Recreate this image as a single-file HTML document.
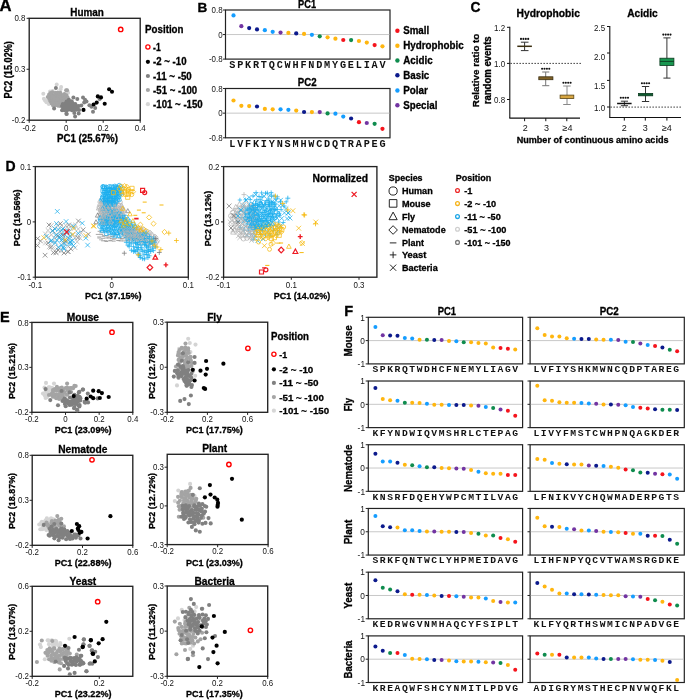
<!DOCTYPE html>
<html><head><meta charset="utf-8"><style>
html,body{margin:0;padding:0;background:#fff;}
svg{display:block;will-change:transform;}
</style></head><body>
<svg width="685" height="700" viewBox="0 0 685 700">
<rect width="685" height="700" fill="#fff"/>
<defs><clipPath id="clipD1"><rect x="35.9" y="167.2" width="151.8" height="109.4"/></clipPath><clipPath id="clipD2"><rect x="224.2" y="167.2" width="152.1" height="109.4"/></clipPath></defs>
<text x="0" y="0" font-size="15.6" font-weight="bold" text-anchor="start" fill="#000" font-family='"Liberation Sans", sans-serif' transform="translate(-0.5 11.2) scale(1.07 1)" stroke="#000" stroke-width="0.3">A</text>
<text x="197.6" y="11.6" font-size="13.6" font-weight="bold" text-anchor="start" fill="#000" font-family='"Liberation Sans", sans-serif' stroke="#000" stroke-width="0.3">B</text>
<text x="470.6" y="12.4" font-size="13.8" font-weight="bold" text-anchor="start" fill="#000" font-family='"Liberation Sans", sans-serif' stroke="#000" stroke-width="0.3">C</text>
<text x="5.4" y="170.8" font-size="14" font-weight="bold" text-anchor="start" fill="#000" font-family='"Liberation Sans", sans-serif' stroke="#000" stroke-width="0.3">D</text>
<text x="0" y="321.8" font-size="14.5" font-weight="bold" text-anchor="start" fill="#000" font-family='"Liberation Sans", sans-serif' stroke="#000" stroke-width="0.3">E</text>
<text x="344.2" y="316.3" font-size="14.6" font-weight="bold" text-anchor="start" fill="#000" font-family='"Liberation Sans", sans-serif' stroke="#000" stroke-width="0.3">F</text>
<rect x="29.2" y="18.3" width="111" height="101.9" fill="none" stroke="#222" stroke-width="1.35"/>
<line x1="29.2" y1="120.2" x2="29.2" y2="122.8" stroke="#222" stroke-width="1"/>
<text x="0" y="0" font-size="8.8" font-weight="normal" text-anchor="middle" fill="#141414" font-family='"Liberation Sans", sans-serif' transform="translate(29.2 131.2) scale(0.9 1)">-0.2</text>
<line x1="66.2" y1="120.2" x2="66.2" y2="122.8" stroke="#222" stroke-width="1"/>
<text x="0" y="0" font-size="8.8" font-weight="normal" text-anchor="middle" fill="#141414" font-family='"Liberation Sans", sans-serif' transform="translate(66.2 131.2) scale(0.9 1)">0</text>
<line x1="103.2" y1="120.2" x2="103.2" y2="122.8" stroke="#222" stroke-width="1"/>
<text x="0" y="0" font-size="8.8" font-weight="normal" text-anchor="middle" fill="#141414" font-family='"Liberation Sans", sans-serif' transform="translate(103.2 131.2) scale(0.9 1)">0.2</text>
<line x1="140.2" y1="120.2" x2="140.2" y2="122.8" stroke="#222" stroke-width="1"/>
<text x="0" y="0" font-size="8.8" font-weight="normal" text-anchor="middle" fill="#141414" font-family='"Liberation Sans", sans-serif' transform="translate(140.2 131.2) scale(0.9 1)">0.4</text>
<line x1="26.6" y1="18.3" x2="29.2" y2="18.3" stroke="#222" stroke-width="1"/>
<text x="0" y="0" font-size="8.8" font-weight="normal" text-anchor="end" fill="#141414" font-family='"Liberation Sans", sans-serif' transform="translate(25.4 21.42) scale(0.9 1)">0.8</text>
<line x1="26.6" y1="69.25" x2="29.2" y2="69.25" stroke="#222" stroke-width="1"/>
<text x="0" y="0" font-size="8.8" font-weight="normal" text-anchor="end" fill="#141414" font-family='"Liberation Sans", sans-serif' transform="translate(25.4 72.37) scale(0.9 1)">0.3</text>
<line x1="26.6" y1="120.2" x2="29.2" y2="120.2" stroke="#222" stroke-width="1"/>
<text x="0" y="0" font-size="8.8" font-weight="normal" text-anchor="end" fill="#141414" font-family='"Liberation Sans", sans-serif' transform="translate(25.4 123.32) scale(0.9 1)">-0.2</text>
<text x="87.1" y="15.9" font-size="10.8" font-weight="bold" text-anchor="middle" fill="#000" font-family='"Liberation Sans", sans-serif' textLength="33.6" lengthAdjust="spacingAndGlyphs" stroke="#000" stroke-width="0.3">Human</text>
<text x="87.5" y="142.3" font-size="10.6" font-weight="bold" text-anchor="middle" fill="#000" font-family='"Liberation Sans", sans-serif' textLength="60.9" lengthAdjust="spacingAndGlyphs" stroke="#000" stroke-width="0.3">PC1 (25.67%)</text>
<text x="11.6" y="69.8" font-size="10" font-weight="bold" text-anchor="middle" fill="#000" font-family='"Liberation Sans", sans-serif' textLength="57.3" lengthAdjust="spacingAndGlyphs" transform="rotate(-90 11.6 69.8)" stroke="#000" stroke-width="0.3">PC2 (15.02%)</text>
<text x="145.1" y="32.9" font-size="10.4" font-weight="bold" text-anchor="start" fill="#000" font-family='"Liberation Sans", sans-serif' textLength="38.4" lengthAdjust="spacingAndGlyphs" stroke="#000" stroke-width="0.3">Position</text>
<circle cx="147.9" cy="47" r="2.1" fill="none" stroke="#ff0000" stroke-width="1.3"/>
<text x="153.1" y="50.67" font-size="10.2" font-weight="bold" text-anchor="start" fill="#000" font-family='"Liberation Sans", sans-serif' textLength="7.6" lengthAdjust="spacingAndGlyphs" stroke="#000" stroke-width="0.3">-1</text>
<circle cx="147.9" cy="61.8" r="2.1" fill="#000"/>
<text x="153.1" y="65.47" font-size="10.2" font-weight="bold" text-anchor="start" fill="#000" font-family='"Liberation Sans", sans-serif' textLength="33.4" lengthAdjust="spacingAndGlyphs" stroke="#000" stroke-width="0.3">-2 ~ -10</text>
<circle cx="147.9" cy="76" r="2.1" fill="#808080"/>
<text x="153.1" y="79.67" font-size="10.2" font-weight="bold" text-anchor="start" fill="#000" font-family='"Liberation Sans", sans-serif' textLength="38.6" lengthAdjust="spacingAndGlyphs" stroke="#000" stroke-width="0.3">-11 ~ -50</text>
<circle cx="147.9" cy="90" r="2.1" fill="#a6a6a6"/>
<text x="153.1" y="93.67" font-size="10.2" font-weight="bold" text-anchor="start" fill="#000" font-family='"Liberation Sans", sans-serif' textLength="44.1" lengthAdjust="spacingAndGlyphs" stroke="#000" stroke-width="0.3">-51 ~ -100</text>
<circle cx="147.9" cy="104.2" r="2.1" fill="#d6d6d6"/>
<text x="153.1" y="107.87" font-size="10.2" font-weight="bold" text-anchor="start" fill="#000" font-family='"Liberation Sans", sans-serif' textLength="49.6" lengthAdjust="spacingAndGlyphs" stroke="#000" stroke-width="0.3">-101 ~ -150</text>
<rect x="225.5" y="10" width="164.5" height="49.1" fill="none" stroke="#222" stroke-width="1.2"/>
<line x1="226.1" y1="34.55" x2="389.4" y2="34.55" stroke="#c8c8c8" stroke-width="1"/>
<line x1="222.9" y1="10" x2="225.5" y2="10" stroke="#222" stroke-width="1"/>
<text x="0" y="0" font-size="8.8" font-weight="normal" text-anchor="end" fill="#141414" font-family='"Liberation Sans", sans-serif' transform="translate(222.6 13.12) scale(0.9 1)">0.8</text>
<line x1="222.9" y1="34.55" x2="225.5" y2="34.55" stroke="#222" stroke-width="1"/>
<text x="0" y="0" font-size="8.8" font-weight="normal" text-anchor="end" fill="#141414" font-family='"Liberation Sans", sans-serif' transform="translate(222.6 37.67) scale(0.9 1)">0</text>
<line x1="222.9" y1="59.1" x2="225.5" y2="59.1" stroke="#222" stroke-width="1"/>
<text x="0" y="0" font-size="8.8" font-weight="normal" text-anchor="end" fill="#141414" font-family='"Liberation Sans", sans-serif' transform="translate(222.6 62.22) scale(0.9 1)">-0.8</text>
<circle cx="233.5" cy="15.4" r="2.1" fill="#159dff"/>
<text x="232.3" y="68.3" font-size="10.2" font-weight="bold" text-anchor="middle" fill="#111" font-family='"Liberation Mono", monospace'>S</text>
<circle cx="241.34" cy="26.2" r="2.1" fill="#7234a2"/>
<text x="240.21" y="68.3" font-size="10.2" font-weight="bold" text-anchor="middle" fill="#111" font-family='"Liberation Mono", monospace'>P</text>
<circle cx="249.18" cy="28.1" r="2.1" fill="#0c1a8c"/>
<text x="248.11" y="68.3" font-size="10.2" font-weight="bold" text-anchor="middle" fill="#111" font-family='"Liberation Mono", monospace'>K</text>
<circle cx="257.02" cy="29.4" r="2.1" fill="#0c1a8c"/>
<text x="256.01" y="68.3" font-size="10.2" font-weight="bold" text-anchor="middle" fill="#111" font-family='"Liberation Mono", monospace'>R</text>
<circle cx="264.86" cy="30.2" r="2.1" fill="#159dff"/>
<text x="263.92" y="68.3" font-size="10.2" font-weight="bold" text-anchor="middle" fill="#111" font-family='"Liberation Mono", monospace'>T</text>
<circle cx="272.7" cy="31.8" r="2.1" fill="#159dff"/>
<text x="271.82" y="68.3" font-size="10.2" font-weight="bold" text-anchor="middle" fill="#111" font-family='"Liberation Mono", monospace'>Q</text>
<circle cx="280.54" cy="32.6" r="2.1" fill="#7234a2"/>
<text x="279.73" y="68.3" font-size="10.2" font-weight="bold" text-anchor="middle" fill="#111" font-family='"Liberation Mono", monospace'>C</text>
<circle cx="288.38" cy="32.9" r="2.1" fill="#ffb60f"/>
<text x="287.63" y="68.3" font-size="10.2" font-weight="bold" text-anchor="middle" fill="#111" font-family='"Liberation Mono", monospace'>W</text>
<circle cx="296.22" cy="33.4" r="2.1" fill="#0c1a8c"/>
<text x="295.54" y="68.3" font-size="10.2" font-weight="bold" text-anchor="middle" fill="#111" font-family='"Liberation Mono", monospace'>H</text>
<circle cx="304.06" cy="33.9" r="2.1" fill="#ffb60f"/>
<text x="303.44" y="68.3" font-size="10.2" font-weight="bold" text-anchor="middle" fill="#111" font-family='"Liberation Mono", monospace'>F</text>
<circle cx="311.9" cy="34.8" r="2.1" fill="#159dff"/>
<text x="311.35" y="68.3" font-size="10.2" font-weight="bold" text-anchor="middle" fill="#111" font-family='"Liberation Mono", monospace'>N</text>
<circle cx="319.74" cy="36.3" r="2.1" fill="#0f8c4e"/>
<text x="319.25" y="68.3" font-size="10.2" font-weight="bold" text-anchor="middle" fill="#111" font-family='"Liberation Mono", monospace'>D</text>
<circle cx="327.58" cy="37.3" r="2.1" fill="#ffb60f"/>
<text x="327.16" y="68.3" font-size="10.2" font-weight="bold" text-anchor="middle" fill="#111" font-family='"Liberation Mono", monospace'>M</text>
<circle cx="335.42" cy="38.7" r="2.1" fill="#ffb60f"/>
<text x="335.06" y="68.3" font-size="10.2" font-weight="bold" text-anchor="middle" fill="#111" font-family='"Liberation Mono", monospace'>Y</text>
<circle cx="343.26" cy="40" r="2.1" fill="#f5141c"/>
<text x="342.97" y="68.3" font-size="10.2" font-weight="bold" text-anchor="middle" fill="#111" font-family='"Liberation Mono", monospace'>G</text>
<circle cx="351.1" cy="40.1" r="2.1" fill="#0f8c4e"/>
<text x="350.88" y="68.3" font-size="10.2" font-weight="bold" text-anchor="middle" fill="#111" font-family='"Liberation Mono", monospace'>E</text>
<circle cx="358.94" cy="41" r="2.1" fill="#ffb60f"/>
<text x="358.78" y="68.3" font-size="10.2" font-weight="bold" text-anchor="middle" fill="#111" font-family='"Liberation Mono", monospace'>L</text>
<circle cx="366.78" cy="42.6" r="2.1" fill="#ffb60f"/>
<text x="366.69" y="68.3" font-size="10.2" font-weight="bold" text-anchor="middle" fill="#111" font-family='"Liberation Mono", monospace'>I</text>
<circle cx="374.62" cy="45.1" r="2.1" fill="#f5141c"/>
<text x="374.59" y="68.3" font-size="10.2" font-weight="bold" text-anchor="middle" fill="#111" font-family='"Liberation Mono", monospace'>A</text>
<circle cx="382.46" cy="46.3" r="2.1" fill="#ffb60f"/>
<text x="382.5" y="68.3" font-size="10.2" font-weight="bold" text-anchor="middle" fill="#111" font-family='"Liberation Mono", monospace'>V</text>
<rect x="225.5" y="88.5" width="164.5" height="49.3" fill="none" stroke="#222" stroke-width="1.2"/>
<line x1="226.1" y1="113.15" x2="389.4" y2="113.15" stroke="#c8c8c8" stroke-width="1"/>
<line x1="222.9" y1="88.5" x2="225.5" y2="88.5" stroke="#222" stroke-width="1"/>
<text x="0" y="0" font-size="8.8" font-weight="normal" text-anchor="end" fill="#141414" font-family='"Liberation Sans", sans-serif' transform="translate(222.6 91.62) scale(0.9 1)">0.8</text>
<line x1="222.9" y1="113.15" x2="225.5" y2="113.15" stroke="#222" stroke-width="1"/>
<text x="0" y="0" font-size="8.8" font-weight="normal" text-anchor="end" fill="#141414" font-family='"Liberation Sans", sans-serif' transform="translate(222.6 116.27) scale(0.9 1)">0</text>
<line x1="222.9" y1="137.8" x2="225.5" y2="137.8" stroke="#222" stroke-width="1"/>
<text x="0" y="0" font-size="8.8" font-weight="normal" text-anchor="end" fill="#141414" font-family='"Liberation Sans", sans-serif' transform="translate(222.6 140.92) scale(0.9 1)">-0.8</text>
<circle cx="233.5" cy="100.5" r="2.1" fill="#ffb60f"/>
<text x="232.3" y="146.9" font-size="10.2" font-weight="bold" text-anchor="middle" fill="#111" font-family='"Liberation Mono", monospace'>L</text>
<circle cx="241.34" cy="105.8" r="2.1" fill="#ffb60f"/>
<text x="240.21" y="146.9" font-size="10.2" font-weight="bold" text-anchor="middle" fill="#111" font-family='"Liberation Mono", monospace'>V</text>
<circle cx="249.18" cy="106.1" r="2.1" fill="#ffb60f"/>
<text x="248.11" y="146.9" font-size="10.2" font-weight="bold" text-anchor="middle" fill="#111" font-family='"Liberation Mono", monospace'>F</text>
<circle cx="257.02" cy="106.5" r="2.1" fill="#0c1a8c"/>
<text x="256.01" y="146.9" font-size="10.2" font-weight="bold" text-anchor="middle" fill="#111" font-family='"Liberation Mono", monospace'>K</text>
<circle cx="264.86" cy="108.9" r="2.1" fill="#ffb60f"/>
<text x="263.92" y="146.9" font-size="10.2" font-weight="bold" text-anchor="middle" fill="#111" font-family='"Liberation Mono", monospace'>I</text>
<circle cx="272.7" cy="109.3" r="2.1" fill="#ffb60f"/>
<text x="271.82" y="146.9" font-size="10.2" font-weight="bold" text-anchor="middle" fill="#111" font-family='"Liberation Mono", monospace'>Y</text>
<circle cx="280.54" cy="109.3" r="2.1" fill="#159dff"/>
<text x="279.73" y="146.9" font-size="10.2" font-weight="bold" text-anchor="middle" fill="#111" font-family='"Liberation Mono", monospace'>N</text>
<circle cx="288.38" cy="109.8" r="2.1" fill="#159dff"/>
<text x="287.63" y="146.9" font-size="10.2" font-weight="bold" text-anchor="middle" fill="#111" font-family='"Liberation Mono", monospace'>S</text>
<circle cx="296.22" cy="110.6" r="2.1" fill="#ffb60f"/>
<text x="295.54" y="146.9" font-size="10.2" font-weight="bold" text-anchor="middle" fill="#111" font-family='"Liberation Mono", monospace'>M</text>
<circle cx="304.06" cy="112" r="2.1" fill="#0c1a8c"/>
<text x="303.44" y="146.9" font-size="10.2" font-weight="bold" text-anchor="middle" fill="#111" font-family='"Liberation Mono", monospace'>H</text>
<circle cx="311.9" cy="112.1" r="2.1" fill="#ffb60f"/>
<text x="311.35" y="146.9" font-size="10.2" font-weight="bold" text-anchor="middle" fill="#111" font-family='"Liberation Mono", monospace'>W</text>
<circle cx="319.74" cy="112.1" r="2.1" fill="#7234a2"/>
<text x="319.25" y="146.9" font-size="10.2" font-weight="bold" text-anchor="middle" fill="#111" font-family='"Liberation Mono", monospace'>C</text>
<circle cx="327.58" cy="113.4" r="2.1" fill="#0f8c4e"/>
<text x="327.16" y="146.9" font-size="10.2" font-weight="bold" text-anchor="middle" fill="#111" font-family='"Liberation Mono", monospace'>D</text>
<circle cx="335.42" cy="113.7" r="2.1" fill="#159dff"/>
<text x="335.06" y="146.9" font-size="10.2" font-weight="bold" text-anchor="middle" fill="#111" font-family='"Liberation Mono", monospace'>Q</text>
<circle cx="343.26" cy="116.6" r="2.1" fill="#159dff"/>
<text x="342.97" y="146.9" font-size="10.2" font-weight="bold" text-anchor="middle" fill="#111" font-family='"Liberation Mono", monospace'>T</text>
<circle cx="351.1" cy="118.5" r="2.1" fill="#0c1a8c"/>
<text x="350.88" y="146.9" font-size="10.2" font-weight="bold" text-anchor="middle" fill="#111" font-family='"Liberation Mono", monospace'>R</text>
<circle cx="358.94" cy="122.2" r="2.1" fill="#f5141c"/>
<text x="358.78" y="146.9" font-size="10.2" font-weight="bold" text-anchor="middle" fill="#111" font-family='"Liberation Mono", monospace'>A</text>
<circle cx="366.78" cy="123" r="2.1" fill="#7234a2"/>
<text x="366.69" y="146.9" font-size="10.2" font-weight="bold" text-anchor="middle" fill="#111" font-family='"Liberation Mono", monospace'>P</text>
<circle cx="374.62" cy="123.8" r="2.1" fill="#0f8c4e"/>
<text x="374.59" y="146.9" font-size="10.2" font-weight="bold" text-anchor="middle" fill="#111" font-family='"Liberation Mono", monospace'>E</text>
<circle cx="382.46" cy="128.8" r="2.1" fill="#f5141c"/>
<text x="382.5" y="146.9" font-size="10.2" font-weight="bold" text-anchor="middle" fill="#111" font-family='"Liberation Mono", monospace'>G</text>
<text x="298.1" y="7.8" font-size="10.8" font-weight="bold" text-anchor="start" fill="#000" font-family='"Liberation Sans", sans-serif' textLength="18" lengthAdjust="spacingAndGlyphs" stroke="#000" stroke-width="0.3">PC1</text>
<text x="297.8" y="85.7" font-size="10.8" font-weight="bold" text-anchor="start" fill="#000" font-family='"Liberation Sans", sans-serif' textLength="18.8" lengthAdjust="spacingAndGlyphs" stroke="#000" stroke-width="0.3">PC2</text>
<circle cx="397.4" cy="30.8" r="2.2" fill="#f5141c"/>
<text x="403.2" y="34.4" font-size="10.2" font-weight="bold" text-anchor="start" fill="#000" font-family='"Liberation Sans", sans-serif' textLength="25.9" lengthAdjust="spacingAndGlyphs" stroke="#000" stroke-width="0.3">Small</text>
<circle cx="397.4" cy="45.7" r="2.2" fill="#ffb60f"/>
<text x="403.2" y="49.3" font-size="10.2" font-weight="bold" text-anchor="start" fill="#000" font-family='"Liberation Sans", sans-serif' textLength="60.5" lengthAdjust="spacingAndGlyphs" stroke="#000" stroke-width="0.3">Hydrophobic</text>
<circle cx="397.4" cy="60.5" r="2.2" fill="#0f8c4e"/>
<text x="403.2" y="64.1" font-size="10.2" font-weight="bold" text-anchor="start" fill="#000" font-family='"Liberation Sans", sans-serif' textLength="29.4" lengthAdjust="spacingAndGlyphs" stroke="#000" stroke-width="0.3">Acidic</text>
<circle cx="397.4" cy="75.3" r="2.2" fill="#0c1a8c"/>
<text x="403.2" y="78.9" font-size="10.2" font-weight="bold" text-anchor="start" fill="#000" font-family='"Liberation Sans", sans-serif' textLength="26.1" lengthAdjust="spacingAndGlyphs" stroke="#000" stroke-width="0.3">Basic</text>
<circle cx="397.4" cy="90.5" r="2.2" fill="#159dff"/>
<text x="403.2" y="94.1" font-size="10.2" font-weight="bold" text-anchor="start" fill="#000" font-family='"Liberation Sans", sans-serif' textLength="24.7" lengthAdjust="spacingAndGlyphs" stroke="#000" stroke-width="0.3">Polar</text>
<circle cx="397.4" cy="105.2" r="2.2" fill="#7234a2"/>
<text x="403.2" y="108.8" font-size="10.2" font-weight="bold" text-anchor="start" fill="#000" font-family='"Liberation Sans", sans-serif' textLength="34.2" lengthAdjust="spacingAndGlyphs" stroke="#000" stroke-width="0.3">Special</text>
<line x1="509.8" y1="26.8" x2="509.8" y2="118.1" stroke="#111" stroke-width="1.1"/>
<line x1="509.3" y1="118.1" x2="580" y2="118.1" stroke="#111" stroke-width="1.1"/>
<line x1="507" y1="27.3" x2="509.8" y2="27.3" stroke="#111" stroke-width="1"/>
<text x="0" y="0" font-size="8.6" font-weight="normal" text-anchor="end" fill="#141414" font-family='"Liberation Sans", sans-serif' transform="translate(505.2 31.2) scale(0.93 1)">1.2</text>
<line x1="507" y1="63.4" x2="509.8" y2="63.4" stroke="#111" stroke-width="1"/>
<text x="0" y="0" font-size="8.6" font-weight="normal" text-anchor="end" fill="#141414" font-family='"Liberation Sans", sans-serif' transform="translate(505.2 67.2) scale(0.93 1)">1.0</text>
<line x1="507" y1="99.5" x2="509.8" y2="99.5" stroke="#111" stroke-width="1"/>
<text x="0" y="0" font-size="8.6" font-weight="normal" text-anchor="end" fill="#141414" font-family='"Liberation Sans", sans-serif' transform="translate(505.2 102.9) scale(0.93 1)">0.8</text>
<line x1="524.6" y1="118.1" x2="524.6" y2="121.2" stroke="#111" stroke-width="1"/>
<text x="525.3" y="131.4" font-size="9" font-weight="normal" text-anchor="middle" fill="#111" font-family='"Liberation Sans", sans-serif'>2</text>
<line x1="545.8" y1="118.1" x2="545.8" y2="121.2" stroke="#111" stroke-width="1"/>
<text x="546.5" y="131.4" font-size="9" font-weight="normal" text-anchor="middle" fill="#111" font-family='"Liberation Sans", sans-serif'>3</text>
<line x1="566.8" y1="118.1" x2="566.8" y2="121.2" stroke="#111" stroke-width="1"/>
<text x="567.5" y="131.4" font-size="9" font-weight="normal" text-anchor="middle" fill="#111" font-family='"Liberation Sans", sans-serif'>≥4</text>
<line x1="510.4" y1="63.4" x2="581" y2="63.4" stroke="#333" stroke-width="0.9" stroke-dasharray="1.6 1.4"/>
<text x="548.2" y="16.5" font-size="10.3" font-weight="bold" text-anchor="middle" fill="#000" font-family='"Liberation Sans", sans-serif' textLength="63.4" lengthAdjust="spacingAndGlyphs" stroke="#000" stroke-width="0.3">Hydrophobic</text>
<line x1="609.8" y1="26" x2="609.8" y2="117.5" stroke="#111" stroke-width="1.1"/>
<line x1="609.3" y1="117.5" x2="681" y2="117.5" stroke="#111" stroke-width="1.1"/>
<line x1="607" y1="26.5" x2="609.8" y2="26.5" stroke="#111" stroke-width="1"/>
<text x="0" y="0" font-size="8.6" font-weight="normal" text-anchor="end" fill="#141414" font-family='"Liberation Sans", sans-serif' transform="translate(605.2 31.2) scale(0.93 1)">2.5</text>
<line x1="607" y1="53" x2="609.8" y2="53" stroke="#111" stroke-width="1"/>
<text x="0" y="0" font-size="8.6" font-weight="normal" text-anchor="end" fill="#141414" font-family='"Liberation Sans", sans-serif' transform="translate(605.2 59.9) scale(0.93 1)">2.0</text>
<line x1="607" y1="80.4" x2="609.8" y2="80.4" stroke="#111" stroke-width="1"/>
<text x="0" y="0" font-size="8.6" font-weight="normal" text-anchor="end" fill="#141414" font-family='"Liberation Sans", sans-serif' transform="translate(605.2 89) scale(0.93 1)">1.5</text>
<line x1="607" y1="107" x2="609.8" y2="107" stroke="#111" stroke-width="1"/>
<text x="0" y="0" font-size="8.6" font-weight="normal" text-anchor="end" fill="#141414" font-family='"Liberation Sans", sans-serif' transform="translate(605.2 111.3) scale(0.93 1)">1.0</text>
<line x1="624.3" y1="117.5" x2="624.3" y2="120.6" stroke="#111" stroke-width="1"/>
<text x="624.3" y="131.4" font-size="9" font-weight="normal" text-anchor="middle" fill="#111" font-family='"Liberation Sans", sans-serif'>2</text>
<line x1="645.3" y1="117.5" x2="645.3" y2="120.6" stroke="#111" stroke-width="1"/>
<text x="645.3" y="131.4" font-size="9" font-weight="normal" text-anchor="middle" fill="#111" font-family='"Liberation Sans", sans-serif'>3</text>
<line x1="666.9" y1="117.5" x2="666.9" y2="120.6" stroke="#111" stroke-width="1"/>
<text x="666.9" y="131.4" font-size="9" font-weight="normal" text-anchor="middle" fill="#111" font-family='"Liberation Sans", sans-serif'>≥4</text>
<line x1="610.4" y1="107.1" x2="681" y2="107.1" stroke="#333" stroke-width="0.9" stroke-dasharray="1.6 1.4"/>
<text x="642.4" y="16.9" font-size="10.3" font-weight="bold" text-anchor="middle" fill="#000" font-family='"Liberation Sans", sans-serif' textLength="30.5" lengthAdjust="spacingAndGlyphs" stroke="#000" stroke-width="0.3">Acidic</text>
<text x="592.6" y="142.9" font-size="9.3" font-weight="bold" text-anchor="middle" fill="#000" font-family='"Liberation Sans", sans-serif' textLength="151.9" lengthAdjust="spacingAndGlyphs" stroke="#000" stroke-width="0.3">Number of continuous amino acids</text>
<text x="479.4" y="70.4" font-size="9.8" font-weight="bold" text-anchor="middle" fill="#000" font-family='"Liberation Sans", sans-serif' textLength="73.5" lengthAdjust="spacingAndGlyphs" transform="rotate(-90 479.4 70.4)" stroke="#000" stroke-width="0.3">Relative ratio to</text>
<text x="490.8" y="70.3" font-size="10" font-weight="bold" text-anchor="middle" fill="#000" font-family='"Liberation Sans", sans-serif' textLength="68" lengthAdjust="spacingAndGlyphs" transform="rotate(-90 490.8 70.3)" stroke="#000" stroke-width="0.3">random events</text>
<line x1="524.6" y1="42.2" x2="524.6" y2="50.6" stroke="#333" stroke-width="1"/>
<line x1="520.9" y1="42.2" x2="528.5" y2="42.2" stroke="#333" stroke-width="1"/>
<line x1="520.9" y1="50.6" x2="528.5" y2="50.6" stroke="#333" stroke-width="1"/>
<line x1="517.3" y1="46.3" x2="531.9" y2="46.3" stroke="#3a2e10" stroke-width="1.5"/>
<circle cx="521" cy="38.9" r="1.05" fill="#111"/>
<circle cx="523.4" cy="38.9" r="1.05" fill="#111"/>
<circle cx="525.8" cy="38.9" r="1.05" fill="#111"/>
<circle cx="528.2" cy="38.9" r="1.05" fill="#111"/>
<line x1="545.7" y1="72" x2="545.7" y2="85.7" stroke="#777" stroke-width="1"/>
<line x1="542.2" y1="72" x2="549.3" y2="72" stroke="#777" stroke-width="1"/>
<line x1="542.2" y1="85.7" x2="549.3" y2="85.7" stroke="#777" stroke-width="1"/>
<rect x="538.8" y="76.8" width="14.1" height="2.9" fill="#7f6127" stroke="#3a2e10" stroke-width="0.8"/>
<circle cx="542.1" cy="68.8" r="1.05" fill="#111"/>
<circle cx="544.5" cy="68.8" r="1.05" fill="#111"/>
<circle cx="546.9" cy="68.8" r="1.05" fill="#111"/>
<circle cx="549.3" cy="68.8" r="1.05" fill="#111"/>
<line x1="567" y1="86" x2="567" y2="104.5" stroke="#888" stroke-width="1"/>
<line x1="563.2" y1="86" x2="570.7" y2="86" stroke="#888" stroke-width="1"/>
<line x1="563.2" y1="104.5" x2="570.7" y2="104.5" stroke="#888" stroke-width="1"/>
<rect x="560.1" y="95.1" width="13.7" height="3.4" fill="#d6a541" stroke="#5a4515" stroke-width="0.8"/>
<circle cx="563.4" cy="82.8" r="1.05" fill="#111"/>
<circle cx="565.8" cy="82.8" r="1.05" fill="#111"/>
<circle cx="568.2" cy="82.8" r="1.05" fill="#111"/>
<circle cx="570.6" cy="82.8" r="1.05" fill="#111"/>
<line x1="624.4" y1="101.2" x2="624.4" y2="105.7" stroke="#333" stroke-width="1"/>
<line x1="620.9" y1="101.2" x2="628" y2="101.2" stroke="#333" stroke-width="1"/>
<line x1="620.9" y1="105.7" x2="628" y2="105.7" stroke="#333" stroke-width="1"/>
<line x1="617.1" y1="103.5" x2="631.6" y2="103.5" stroke="#111" stroke-width="1.5"/>
<circle cx="620.8" cy="97.7" r="1.05" fill="#111"/>
<circle cx="623.2" cy="97.7" r="1.05" fill="#111"/>
<circle cx="625.6" cy="97.7" r="1.05" fill="#111"/>
<circle cx="628" cy="97.7" r="1.05" fill="#111"/>
<line x1="645.5" y1="86.5" x2="645.5" y2="101.5" stroke="#333" stroke-width="1"/>
<line x1="641.9" y1="86.5" x2="649.2" y2="86.5" stroke="#333" stroke-width="1"/>
<line x1="641.9" y1="101.5" x2="649.2" y2="101.5" stroke="#333" stroke-width="1"/>
<rect x="638.6" y="93.4" width="14.1" height="2.4" fill="#0e5a2f" stroke="#0b3a1e" stroke-width="0.8"/>
<circle cx="641.9" cy="83.2" r="1.05" fill="#111"/>
<circle cx="644.3" cy="83.2" r="1.05" fill="#111"/>
<circle cx="646.7" cy="83.2" r="1.05" fill="#111"/>
<circle cx="649.1" cy="83.2" r="1.05" fill="#111"/>
<line x1="666.9" y1="37.9" x2="666.9" y2="78.1" stroke="#333" stroke-width="1"/>
<line x1="663.4" y1="37.9" x2="670.5" y2="37.9" stroke="#333" stroke-width="1"/>
<line x1="663.4" y1="78.1" x2="670.5" y2="78.1" stroke="#333" stroke-width="1"/>
<rect x="659.9" y="58.2" width="14" height="7.3" fill="#199650" stroke="#0b3a1e" stroke-width="0.8"/>
<line x1="659.9" y1="61.4" x2="673.9" y2="61.4" stroke="#0b3a1e" stroke-width="0.9"/>
<circle cx="663.3" cy="34.6" r="1.05" fill="#111"/>
<circle cx="665.7" cy="34.6" r="1.05" fill="#111"/>
<circle cx="668.1" cy="34.6" r="1.05" fill="#111"/>
<circle cx="670.5" cy="34.6" r="1.05" fill="#111"/>
<text x="437.7" y="314.7" font-size="10.6" font-weight="bold" text-anchor="start" fill="#000" font-family='"Liberation Sans", sans-serif' textLength="18.3" lengthAdjust="spacingAndGlyphs" stroke="#000" stroke-width="0.3">PC1</text>
<text x="599.8" y="314.7" font-size="10.6" font-weight="bold" text-anchor="start" fill="#000" font-family='"Liberation Sans", sans-serif' textLength="19" lengthAdjust="spacingAndGlyphs" stroke="#000" stroke-width="0.3">PC2</text>
<rect x="368.3" y="317.3" width="154.3" height="46.6" fill="none" stroke="#222" stroke-width="1.2"/>
<line x1="368.9" y1="340.6" x2="522" y2="340.6" stroke="#c8c8c8" stroke-width="1"/>
<line x1="365.7" y1="317.3" x2="368.3" y2="317.3" stroke="#222" stroke-width="1"/>
<text x="0" y="0" font-size="9.24" font-weight="normal" text-anchor="end" fill="#141414" font-family='"Liberation Sans", sans-serif' transform="translate(365 320.58) scale(0.9 1)">1</text>
<line x1="365.7" y1="340.6" x2="368.3" y2="340.6" stroke="#222" stroke-width="1"/>
<text x="0" y="0" font-size="9.24" font-weight="normal" text-anchor="end" fill="#141414" font-family='"Liberation Sans", sans-serif' transform="translate(365 343.88) scale(0.9 1)">0</text>
<line x1="365.7" y1="363.9" x2="368.3" y2="363.9" stroke="#222" stroke-width="1"/>
<text x="0" y="0" font-size="9.24" font-weight="normal" text-anchor="end" fill="#141414" font-family='"Liberation Sans", sans-serif' transform="translate(365 367.18) scale(0.9 1)">-1</text>
<circle cx="375.4" cy="327.1" r="2" fill="#159dff"/>
<text x="375.4" y="372.3" font-size="9.7" font-weight="bold" text-anchor="middle" fill="#111" font-family='"Liberation Mono", monospace'>S</text>
<circle cx="382.76" cy="335.2" r="2" fill="#7234a2"/>
<text x="382.76" y="372.3" font-size="9.7" font-weight="bold" text-anchor="middle" fill="#111" font-family='"Liberation Mono", monospace'>P</text>
<circle cx="390.12" cy="335.5" r="2" fill="#0c1a8c"/>
<text x="390.12" y="372.3" font-size="9.7" font-weight="bold" text-anchor="middle" fill="#111" font-family='"Liberation Mono", monospace'>K</text>
<circle cx="397.48" cy="335.7" r="2" fill="#0c1a8c"/>
<text x="397.48" y="372.3" font-size="9.7" font-weight="bold" text-anchor="middle" fill="#111" font-family='"Liberation Mono", monospace'>R</text>
<circle cx="404.84" cy="338" r="2" fill="#159dff"/>
<text x="404.84" y="372.3" font-size="9.7" font-weight="bold" text-anchor="middle" fill="#111" font-family='"Liberation Mono", monospace'>Q</text>
<circle cx="412.2" cy="338.5" r="2" fill="#159dff"/>
<text x="412.2" y="372.3" font-size="9.7" font-weight="bold" text-anchor="middle" fill="#111" font-family='"Liberation Mono", monospace'>T</text>
<circle cx="419.56" cy="339.7" r="2" fill="#ffb60f"/>
<text x="419.56" y="372.3" font-size="9.7" font-weight="bold" text-anchor="middle" fill="#111" font-family='"Liberation Mono", monospace'>W</text>
<circle cx="426.92" cy="339.7" r="2" fill="#0f8c4e"/>
<text x="426.92" y="372.3" font-size="9.7" font-weight="bold" text-anchor="middle" fill="#111" font-family='"Liberation Mono", monospace'>D</text>
<circle cx="434.28" cy="339.9" r="2" fill="#0c1a8c"/>
<text x="434.28" y="372.3" font-size="9.7" font-weight="bold" text-anchor="middle" fill="#111" font-family='"Liberation Mono", monospace'>H</text>
<circle cx="441.64" cy="339.9" r="2" fill="#7234a2"/>
<text x="441.64" y="372.3" font-size="9.7" font-weight="bold" text-anchor="middle" fill="#111" font-family='"Liberation Mono", monospace'>C</text>
<circle cx="449" cy="341.1" r="2" fill="#ffb60f"/>
<text x="449" y="372.3" font-size="9.7" font-weight="bold" text-anchor="middle" fill="#111" font-family='"Liberation Mono", monospace'>F</text>
<circle cx="456.36" cy="341.3" r="2" fill="#159dff"/>
<text x="456.36" y="372.3" font-size="9.7" font-weight="bold" text-anchor="middle" fill="#111" font-family='"Liberation Mono", monospace'>N</text>
<circle cx="463.72" cy="342.2" r="2" fill="#0f8c4e"/>
<text x="463.72" y="372.3" font-size="9.7" font-weight="bold" text-anchor="middle" fill="#111" font-family='"Liberation Mono", monospace'>E</text>
<circle cx="471.08" cy="342.2" r="2" fill="#ffb60f"/>
<text x="471.08" y="372.3" font-size="9.7" font-weight="bold" text-anchor="middle" fill="#111" font-family='"Liberation Mono", monospace'>M</text>
<circle cx="478.44" cy="342.9" r="2" fill="#ffb60f"/>
<text x="478.44" y="372.3" font-size="9.7" font-weight="bold" text-anchor="middle" fill="#111" font-family='"Liberation Mono", monospace'>Y</text>
<circle cx="485.8" cy="343.4" r="2" fill="#ffb60f"/>
<text x="485.8" y="372.3" font-size="9.7" font-weight="bold" text-anchor="middle" fill="#111" font-family='"Liberation Mono", monospace'>L</text>
<circle cx="493.16" cy="347.4" r="2" fill="#ffb60f"/>
<text x="493.16" y="372.3" font-size="9.7" font-weight="bold" text-anchor="middle" fill="#111" font-family='"Liberation Mono", monospace'>I</text>
<circle cx="500.52" cy="348.1" r="2" fill="#f5141c"/>
<text x="500.52" y="372.3" font-size="9.7" font-weight="bold" text-anchor="middle" fill="#111" font-family='"Liberation Mono", monospace'>A</text>
<circle cx="507.88" cy="348.8" r="2" fill="#f5141c"/>
<text x="507.88" y="372.3" font-size="9.7" font-weight="bold" text-anchor="middle" fill="#111" font-family='"Liberation Mono", monospace'>G</text>
<circle cx="515.24" cy="349.5" r="2" fill="#ffb60f"/>
<text x="515.24" y="372.3" font-size="9.7" font-weight="bold" text-anchor="middle" fill="#111" font-family='"Liberation Mono", monospace'>V</text>
<rect x="530.1" y="317.3" width="154.2" height="46.6" fill="none" stroke="#222" stroke-width="1.2"/>
<line x1="530.7" y1="340.6" x2="683.7" y2="340.6" stroke="#c8c8c8" stroke-width="1"/>
<line x1="527.5" y1="317.3" x2="530.1" y2="317.3" stroke="#222" stroke-width="1"/>
<line x1="527.5" y1="340.6" x2="530.1" y2="340.6" stroke="#222" stroke-width="1"/>
<line x1="527.5" y1="363.9" x2="530.1" y2="363.9" stroke="#222" stroke-width="1"/>
<circle cx="537.3" cy="328.2" r="2" fill="#ffb60f"/>
<text x="536.4" y="372.3" font-size="9.7" font-weight="bold" text-anchor="middle" fill="#111" font-family='"Liberation Mono", monospace'>L</text>
<circle cx="544.66" cy="335" r="2" fill="#ffb60f"/>
<text x="543.76" y="372.3" font-size="9.7" font-weight="bold" text-anchor="middle" fill="#111" font-family='"Liberation Mono", monospace'>V</text>
<circle cx="552.02" cy="336.4" r="2" fill="#ffb60f"/>
<text x="551.12" y="372.3" font-size="9.7" font-weight="bold" text-anchor="middle" fill="#111" font-family='"Liberation Mono", monospace'>F</text>
<circle cx="559.38" cy="336.6" r="2" fill="#ffb60f"/>
<text x="558.48" y="372.3" font-size="9.7" font-weight="bold" text-anchor="middle" fill="#111" font-family='"Liberation Mono", monospace'>I</text>
<circle cx="566.74" cy="338.3" r="2" fill="#ffb60f"/>
<text x="565.84" y="372.3" font-size="9.7" font-weight="bold" text-anchor="middle" fill="#111" font-family='"Liberation Mono", monospace'>Y</text>
<circle cx="574.1" cy="338.7" r="2" fill="#159dff"/>
<text x="573.2" y="372.3" font-size="9.7" font-weight="bold" text-anchor="middle" fill="#111" font-family='"Liberation Mono", monospace'>S</text>
<circle cx="581.46" cy="339" r="2" fill="#0c1a8c"/>
<text x="580.56" y="372.3" font-size="9.7" font-weight="bold" text-anchor="middle" fill="#111" font-family='"Liberation Mono", monospace'>H</text>
<circle cx="588.82" cy="339" r="2" fill="#0c1a8c"/>
<text x="587.92" y="372.3" font-size="9.7" font-weight="bold" text-anchor="middle" fill="#111" font-family='"Liberation Mono", monospace'>K</text>
<circle cx="596.18" cy="339.4" r="2" fill="#ffb60f"/>
<text x="595.28" y="372.3" font-size="9.7" font-weight="bold" text-anchor="middle" fill="#111" font-family='"Liberation Mono", monospace'>M</text>
<circle cx="603.54" cy="339.7" r="2" fill="#ffb60f"/>
<text x="602.64" y="372.3" font-size="9.7" font-weight="bold" text-anchor="middle" fill="#111" font-family='"Liberation Mono", monospace'>W</text>
<circle cx="610.9" cy="339.7" r="2" fill="#159dff"/>
<text x="610" y="372.3" font-size="9.7" font-weight="bold" text-anchor="middle" fill="#111" font-family='"Liberation Mono", monospace'>N</text>
<circle cx="618.26" cy="340.1" r="2" fill="#7234a2"/>
<text x="617.36" y="372.3" font-size="9.7" font-weight="bold" text-anchor="middle" fill="#111" font-family='"Liberation Mono", monospace'>C</text>
<circle cx="625.62" cy="341.8" r="2" fill="#159dff"/>
<text x="624.72" y="372.3" font-size="9.7" font-weight="bold" text-anchor="middle" fill="#111" font-family='"Liberation Mono", monospace'>Q</text>
<circle cx="632.98" cy="342" r="2" fill="#0f8c4e"/>
<text x="632.08" y="372.3" font-size="9.7" font-weight="bold" text-anchor="middle" fill="#111" font-family='"Liberation Mono", monospace'>D</text>
<circle cx="640.34" cy="343.4" r="2" fill="#7234a2"/>
<text x="639.44" y="372.3" font-size="9.7" font-weight="bold" text-anchor="middle" fill="#111" font-family='"Liberation Mono", monospace'>P</text>
<circle cx="647.7" cy="345" r="2" fill="#159dff"/>
<text x="646.8" y="372.3" font-size="9.7" font-weight="bold" text-anchor="middle" fill="#111" font-family='"Liberation Mono", monospace'>T</text>
<circle cx="655.06" cy="346" r="2" fill="#f5141c"/>
<text x="654.16" y="372.3" font-size="9.7" font-weight="bold" text-anchor="middle" fill="#111" font-family='"Liberation Mono", monospace'>A</text>
<circle cx="662.42" cy="347.4" r="2" fill="#0c1a8c"/>
<text x="661.52" y="372.3" font-size="9.7" font-weight="bold" text-anchor="middle" fill="#111" font-family='"Liberation Mono", monospace'>R</text>
<circle cx="669.78" cy="349.7" r="2" fill="#0f8c4e"/>
<text x="668.88" y="372.3" font-size="9.7" font-weight="bold" text-anchor="middle" fill="#111" font-family='"Liberation Mono", monospace'>E</text>
<circle cx="677.14" cy="351.3" r="2" fill="#f5141c"/>
<text x="676.24" y="372.3" font-size="9.7" font-weight="bold" text-anchor="middle" fill="#111" font-family='"Liberation Mono", monospace'>G</text>
<text x="352.4" y="340.9" font-size="10.4" font-weight="bold" text-anchor="middle" fill="#000" font-family='"Liberation Sans", sans-serif' textLength="31" lengthAdjust="spacingAndGlyphs" transform="rotate(-90 352.4 340.9)" stroke="#000" stroke-width="0.3">Mouse</text>
<rect x="368.3" y="381.02" width="154.3" height="46.6" fill="none" stroke="#222" stroke-width="1.2"/>
<line x1="368.9" y1="404.32" x2="522" y2="404.32" stroke="#c8c8c8" stroke-width="1"/>
<line x1="365.7" y1="381.02" x2="368.3" y2="381.02" stroke="#222" stroke-width="1"/>
<text x="0" y="0" font-size="9.24" font-weight="normal" text-anchor="end" fill="#141414" font-family='"Liberation Sans", sans-serif' transform="translate(365 384.3) scale(0.9 1)">1</text>
<line x1="365.7" y1="404.32" x2="368.3" y2="404.32" stroke="#222" stroke-width="1"/>
<text x="0" y="0" font-size="9.24" font-weight="normal" text-anchor="end" fill="#141414" font-family='"Liberation Sans", sans-serif' transform="translate(365 407.6) scale(0.9 1)">0</text>
<line x1="365.7" y1="427.62" x2="368.3" y2="427.62" stroke="#222" stroke-width="1"/>
<text x="0" y="0" font-size="9.24" font-weight="normal" text-anchor="end" fill="#141414" font-family='"Liberation Sans", sans-serif' transform="translate(365 430.9) scale(0.9 1)">-1</text>
<circle cx="375.4" cy="387.92" r="2" fill="#0c1a8c"/>
<text x="375.4" y="436.02" font-size="9.7" font-weight="bold" text-anchor="middle" fill="#111" font-family='"Liberation Mono", monospace'>K</text>
<circle cx="382.76" cy="398.92" r="2" fill="#ffb60f"/>
<text x="382.76" y="436.02" font-size="9.7" font-weight="bold" text-anchor="middle" fill="#111" font-family='"Liberation Mono", monospace'>F</text>
<circle cx="390.12" cy="400.32" r="2" fill="#ffb60f"/>
<text x="390.12" y="436.02" font-size="9.7" font-weight="bold" text-anchor="middle" fill="#111" font-family='"Liberation Mono", monospace'>Y</text>
<circle cx="397.48" cy="400.82" r="2" fill="#159dff"/>
<text x="397.48" y="436.02" font-size="9.7" font-weight="bold" text-anchor="middle" fill="#111" font-family='"Liberation Mono", monospace'>N</text>
<circle cx="404.84" cy="402.72" r="2" fill="#0f8c4e"/>
<text x="404.84" y="436.02" font-size="9.7" font-weight="bold" text-anchor="middle" fill="#111" font-family='"Liberation Mono", monospace'>D</text>
<circle cx="412.2" cy="402.72" r="2" fill="#ffb60f"/>
<text x="412.2" y="436.02" font-size="9.7" font-weight="bold" text-anchor="middle" fill="#111" font-family='"Liberation Mono", monospace'>W</text>
<circle cx="419.56" cy="402.92" r="2" fill="#ffb60f"/>
<text x="419.56" y="436.02" font-size="9.7" font-weight="bold" text-anchor="middle" fill="#111" font-family='"Liberation Mono", monospace'>I</text>
<circle cx="426.92" cy="403.82" r="2" fill="#159dff"/>
<text x="426.92" y="436.02" font-size="9.7" font-weight="bold" text-anchor="middle" fill="#111" font-family='"Liberation Mono", monospace'>Q</text>
<circle cx="434.28" cy="404.82" r="2" fill="#ffb60f"/>
<text x="434.28" y="436.02" font-size="9.7" font-weight="bold" text-anchor="middle" fill="#111" font-family='"Liberation Mono", monospace'>V</text>
<circle cx="441.64" cy="404.82" r="2" fill="#ffb60f"/>
<text x="441.64" y="436.02" font-size="9.7" font-weight="bold" text-anchor="middle" fill="#111" font-family='"Liberation Mono", monospace'>M</text>
<circle cx="449" cy="405.02" r="2" fill="#159dff"/>
<text x="449" y="436.02" font-size="9.7" font-weight="bold" text-anchor="middle" fill="#111" font-family='"Liberation Mono", monospace'>S</text>
<circle cx="456.36" cy="405.02" r="2" fill="#0c1a8c"/>
<text x="456.36" y="436.02" font-size="9.7" font-weight="bold" text-anchor="middle" fill="#111" font-family='"Liberation Mono", monospace'>H</text>
<circle cx="463.72" cy="405.02" r="2" fill="#0c1a8c"/>
<text x="463.72" y="436.02" font-size="9.7" font-weight="bold" text-anchor="middle" fill="#111" font-family='"Liberation Mono", monospace'>R</text>
<circle cx="471.08" cy="405.52" r="2" fill="#ffb60f"/>
<text x="471.08" y="436.02" font-size="9.7" font-weight="bold" text-anchor="middle" fill="#111" font-family='"Liberation Mono", monospace'>L</text>
<circle cx="478.44" cy="405.72" r="2" fill="#7234a2"/>
<text x="478.44" y="436.02" font-size="9.7" font-weight="bold" text-anchor="middle" fill="#111" font-family='"Liberation Mono", monospace'>C</text>
<circle cx="485.8" cy="407.12" r="2" fill="#159dff"/>
<text x="485.8" y="436.02" font-size="9.7" font-weight="bold" text-anchor="middle" fill="#111" font-family='"Liberation Mono", monospace'>T</text>
<circle cx="493.16" cy="408.02" r="2" fill="#0f8c4e"/>
<text x="493.16" y="436.02" font-size="9.7" font-weight="bold" text-anchor="middle" fill="#111" font-family='"Liberation Mono", monospace'>E</text>
<circle cx="500.52" cy="409.42" r="2" fill="#7234a2"/>
<text x="500.52" y="436.02" font-size="9.7" font-weight="bold" text-anchor="middle" fill="#111" font-family='"Liberation Mono", monospace'>P</text>
<circle cx="507.88" cy="410.82" r="2" fill="#f5141c"/>
<text x="507.88" y="436.02" font-size="9.7" font-weight="bold" text-anchor="middle" fill="#111" font-family='"Liberation Mono", monospace'>A</text>
<circle cx="515.24" cy="415.72" r="2" fill="#f5141c"/>
<text x="515.24" y="436.02" font-size="9.7" font-weight="bold" text-anchor="middle" fill="#111" font-family='"Liberation Mono", monospace'>G</text>
<rect x="530.1" y="381.02" width="154.2" height="46.6" fill="none" stroke="#222" stroke-width="1.2"/>
<line x1="530.7" y1="404.32" x2="683.7" y2="404.32" stroke="#c8c8c8" stroke-width="1"/>
<line x1="527.5" y1="381.02" x2="530.1" y2="381.02" stroke="#222" stroke-width="1"/>
<line x1="527.5" y1="404.32" x2="530.1" y2="404.32" stroke="#222" stroke-width="1"/>
<line x1="527.5" y1="427.62" x2="530.1" y2="427.62" stroke="#222" stroke-width="1"/>
<circle cx="537.3" cy="385.82" r="2" fill="#ffb60f"/>
<text x="536.4" y="436.02" font-size="9.7" font-weight="bold" text-anchor="middle" fill="#111" font-family='"Liberation Mono", monospace'>L</text>
<circle cx="544.66" cy="400.32" r="2" fill="#ffb60f"/>
<text x="543.76" y="436.02" font-size="9.7" font-weight="bold" text-anchor="middle" fill="#111" font-family='"Liberation Mono", monospace'>I</text>
<circle cx="552.02" cy="400.82" r="2" fill="#ffb60f"/>
<text x="551.12" y="436.02" font-size="9.7" font-weight="bold" text-anchor="middle" fill="#111" font-family='"Liberation Mono", monospace'>V</text>
<circle cx="559.38" cy="402.22" r="2" fill="#ffb60f"/>
<text x="558.48" y="436.02" font-size="9.7" font-weight="bold" text-anchor="middle" fill="#111" font-family='"Liberation Mono", monospace'>Y</text>
<circle cx="566.74" cy="402.72" r="2" fill="#ffb60f"/>
<text x="565.84" y="436.02" font-size="9.7" font-weight="bold" text-anchor="middle" fill="#111" font-family='"Liberation Mono", monospace'>F</text>
<circle cx="574.1" cy="402.72" r="2" fill="#ffb60f"/>
<text x="573.2" y="436.02" font-size="9.7" font-weight="bold" text-anchor="middle" fill="#111" font-family='"Liberation Mono", monospace'>M</text>
<circle cx="581.46" cy="402.92" r="2" fill="#159dff"/>
<text x="580.56" y="436.02" font-size="9.7" font-weight="bold" text-anchor="middle" fill="#111" font-family='"Liberation Mono", monospace'>S</text>
<circle cx="588.82" cy="403.62" r="2" fill="#159dff"/>
<text x="587.92" y="436.02" font-size="9.7" font-weight="bold" text-anchor="middle" fill="#111" font-family='"Liberation Mono", monospace'>T</text>
<circle cx="596.18" cy="403.82" r="2" fill="#7234a2"/>
<text x="595.28" y="436.02" font-size="9.7" font-weight="bold" text-anchor="middle" fill="#111" font-family='"Liberation Mono", monospace'>C</text>
<circle cx="603.54" cy="404.52" r="2" fill="#ffb60f"/>
<text x="602.64" y="436.02" font-size="9.7" font-weight="bold" text-anchor="middle" fill="#111" font-family='"Liberation Mono", monospace'>W</text>
<circle cx="610.9" cy="404.52" r="2" fill="#0c1a8c"/>
<text x="610" y="436.02" font-size="9.7" font-weight="bold" text-anchor="middle" fill="#111" font-family='"Liberation Mono", monospace'>H</text>
<circle cx="618.26" cy="404.82" r="2" fill="#7234a2"/>
<text x="617.36" y="436.02" font-size="9.7" font-weight="bold" text-anchor="middle" fill="#111" font-family='"Liberation Mono", monospace'>P</text>
<circle cx="625.62" cy="405.22" r="2" fill="#159dff"/>
<text x="624.72" y="436.02" font-size="9.7" font-weight="bold" text-anchor="middle" fill="#111" font-family='"Liberation Mono", monospace'>N</text>
<circle cx="632.98" cy="407.12" r="2" fill="#159dff"/>
<text x="632.08" y="436.02" font-size="9.7" font-weight="bold" text-anchor="middle" fill="#111" font-family='"Liberation Mono", monospace'>Q</text>
<circle cx="640.34" cy="407.82" r="2" fill="#f5141c"/>
<text x="639.44" y="436.02" font-size="9.7" font-weight="bold" text-anchor="middle" fill="#111" font-family='"Liberation Mono", monospace'>A</text>
<circle cx="647.7" cy="408.52" r="2" fill="#f5141c"/>
<text x="646.8" y="436.02" font-size="9.7" font-weight="bold" text-anchor="middle" fill="#111" font-family='"Liberation Mono", monospace'>G</text>
<circle cx="655.06" cy="409.22" r="2" fill="#0c1a8c"/>
<text x="654.16" y="436.02" font-size="9.7" font-weight="bold" text-anchor="middle" fill="#111" font-family='"Liberation Mono", monospace'>K</text>
<circle cx="662.42" cy="409.72" r="2" fill="#0f8c4e"/>
<text x="661.52" y="436.02" font-size="9.7" font-weight="bold" text-anchor="middle" fill="#111" font-family='"Liberation Mono", monospace'>D</text>
<circle cx="669.78" cy="409.72" r="2" fill="#0f8c4e"/>
<text x="668.88" y="436.02" font-size="9.7" font-weight="bold" text-anchor="middle" fill="#111" font-family='"Liberation Mono", monospace'>E</text>
<circle cx="677.14" cy="409.92" r="2" fill="#0c1a8c"/>
<text x="676.24" y="436.02" font-size="9.7" font-weight="bold" text-anchor="middle" fill="#111" font-family='"Liberation Mono", monospace'>R</text>
<text x="352.4" y="404.62" font-size="10.4" font-weight="bold" text-anchor="middle" fill="#000" font-family='"Liberation Sans", sans-serif' textLength="13.2" lengthAdjust="spacingAndGlyphs" transform="rotate(-90 352.4 404.62)" stroke="#000" stroke-width="0.3">Fly</text>
<rect x="368.3" y="444.74" width="154.3" height="46.6" fill="none" stroke="#222" stroke-width="1.2"/>
<line x1="368.9" y1="468.04" x2="522" y2="468.04" stroke="#c8c8c8" stroke-width="1"/>
<line x1="365.7" y1="444.74" x2="368.3" y2="444.74" stroke="#222" stroke-width="1"/>
<text x="0" y="0" font-size="9.24" font-weight="normal" text-anchor="end" fill="#141414" font-family='"Liberation Sans", sans-serif' transform="translate(365 448.02) scale(0.9 1)">1</text>
<line x1="365.7" y1="468.04" x2="368.3" y2="468.04" stroke="#222" stroke-width="1"/>
<text x="0" y="0" font-size="9.24" font-weight="normal" text-anchor="end" fill="#141414" font-family='"Liberation Sans", sans-serif' transform="translate(365 471.32) scale(0.9 1)">0</text>
<line x1="365.7" y1="491.34" x2="368.3" y2="491.34" stroke="#222" stroke-width="1"/>
<text x="0" y="0" font-size="9.24" font-weight="normal" text-anchor="end" fill="#141414" font-family='"Liberation Sans", sans-serif' transform="translate(365 494.62) scale(0.9 1)">-1</text>
<circle cx="375.4" cy="453.84" r="2" fill="#0c1a8c"/>
<text x="375.4" y="499.74" font-size="9.7" font-weight="bold" text-anchor="middle" fill="#111" font-family='"Liberation Mono", monospace'>K</text>
<circle cx="382.76" cy="461.54" r="2" fill="#159dff"/>
<text x="382.76" y="499.74" font-size="9.7" font-weight="bold" text-anchor="middle" fill="#111" font-family='"Liberation Mono", monospace'>N</text>
<circle cx="390.12" cy="461.54" r="2" fill="#159dff"/>
<text x="390.12" y="499.74" font-size="9.7" font-weight="bold" text-anchor="middle" fill="#111" font-family='"Liberation Mono", monospace'>S</text>
<circle cx="397.48" cy="462.64" r="2" fill="#0c1a8c"/>
<text x="397.48" y="499.74" font-size="9.7" font-weight="bold" text-anchor="middle" fill="#111" font-family='"Liberation Mono", monospace'>R</text>
<circle cx="404.84" cy="464.74" r="2" fill="#ffb60f"/>
<text x="404.84" y="499.74" font-size="9.7" font-weight="bold" text-anchor="middle" fill="#111" font-family='"Liberation Mono", monospace'>F</text>
<circle cx="412.2" cy="465.24" r="2" fill="#0f8c4e"/>
<text x="412.2" y="499.74" font-size="9.7" font-weight="bold" text-anchor="middle" fill="#111" font-family='"Liberation Mono", monospace'>D</text>
<circle cx="419.56" cy="466.14" r="2" fill="#159dff"/>
<text x="419.56" y="499.74" font-size="9.7" font-weight="bold" text-anchor="middle" fill="#111" font-family='"Liberation Mono", monospace'>Q</text>
<circle cx="426.92" cy="467.14" r="2" fill="#0f8c4e"/>
<text x="426.92" y="499.74" font-size="9.7" font-weight="bold" text-anchor="middle" fill="#111" font-family='"Liberation Mono", monospace'>E</text>
<circle cx="434.28" cy="467.14" r="2" fill="#0c1a8c"/>
<text x="434.28" y="499.74" font-size="9.7" font-weight="bold" text-anchor="middle" fill="#111" font-family='"Liberation Mono", monospace'>H</text>
<circle cx="441.64" cy="468.04" r="2" fill="#ffb60f"/>
<text x="441.64" y="499.74" font-size="9.7" font-weight="bold" text-anchor="middle" fill="#111" font-family='"Liberation Mono", monospace'>Y</text>
<circle cx="449" cy="468.24" r="2" fill="#ffb60f"/>
<text x="449" y="499.74" font-size="9.7" font-weight="bold" text-anchor="middle" fill="#111" font-family='"Liberation Mono", monospace'>W</text>
<circle cx="456.36" cy="468.54" r="2" fill="#7234a2"/>
<text x="456.36" y="499.74" font-size="9.7" font-weight="bold" text-anchor="middle" fill="#111" font-family='"Liberation Mono", monospace'>P</text>
<circle cx="463.72" cy="468.74" r="2" fill="#7234a2"/>
<text x="463.72" y="499.74" font-size="9.7" font-weight="bold" text-anchor="middle" fill="#111" font-family='"Liberation Mono", monospace'>C</text>
<circle cx="471.08" cy="469.94" r="2" fill="#ffb60f"/>
<text x="471.08" y="499.74" font-size="9.7" font-weight="bold" text-anchor="middle" fill="#111" font-family='"Liberation Mono", monospace'>M</text>
<circle cx="478.44" cy="471.74" r="2" fill="#159dff"/>
<text x="478.44" y="499.74" font-size="9.7" font-weight="bold" text-anchor="middle" fill="#111" font-family='"Liberation Mono", monospace'>T</text>
<circle cx="485.8" cy="473.14" r="2" fill="#ffb60f"/>
<text x="485.8" y="499.74" font-size="9.7" font-weight="bold" text-anchor="middle" fill="#111" font-family='"Liberation Mono", monospace'>I</text>
<circle cx="493.16" cy="473.64" r="2" fill="#ffb60f"/>
<text x="493.16" y="499.74" font-size="9.7" font-weight="bold" text-anchor="middle" fill="#111" font-family='"Liberation Mono", monospace'>L</text>
<circle cx="500.52" cy="473.64" r="2" fill="#ffb60f"/>
<text x="500.52" y="499.74" font-size="9.7" font-weight="bold" text-anchor="middle" fill="#111" font-family='"Liberation Mono", monospace'>V</text>
<circle cx="507.88" cy="475.04" r="2" fill="#f5141c"/>
<text x="507.88" y="499.74" font-size="9.7" font-weight="bold" text-anchor="middle" fill="#111" font-family='"Liberation Mono", monospace'>A</text>
<circle cx="515.24" cy="475.04" r="2" fill="#f5141c"/>
<text x="515.24" y="499.74" font-size="9.7" font-weight="bold" text-anchor="middle" fill="#111" font-family='"Liberation Mono", monospace'>G</text>
<rect x="530.1" y="444.74" width="154.2" height="46.6" fill="none" stroke="#222" stroke-width="1.2"/>
<line x1="530.7" y1="468.04" x2="683.7" y2="468.04" stroke="#c8c8c8" stroke-width="1"/>
<line x1="527.5" y1="444.74" x2="530.1" y2="444.74" stroke="#222" stroke-width="1"/>
<line x1="527.5" y1="468.04" x2="530.1" y2="468.04" stroke="#222" stroke-width="1"/>
<line x1="527.5" y1="491.34" x2="530.1" y2="491.34" stroke="#222" stroke-width="1"/>
<circle cx="537.3" cy="458.94" r="2" fill="#ffb60f"/>
<text x="536.4" y="499.74" font-size="9.7" font-weight="bold" text-anchor="middle" fill="#111" font-family='"Liberation Mono", monospace'>L</text>
<circle cx="544.66" cy="459.64" r="2" fill="#ffb60f"/>
<text x="543.76" y="499.74" font-size="9.7" font-weight="bold" text-anchor="middle" fill="#111" font-family='"Liberation Mono", monospace'>F</text>
<circle cx="552.02" cy="462.94" r="2" fill="#159dff"/>
<text x="551.12" y="499.74" font-size="9.7" font-weight="bold" text-anchor="middle" fill="#111" font-family='"Liberation Mono", monospace'>N</text>
<circle cx="559.38" cy="463.64" r="2" fill="#ffb60f"/>
<text x="558.48" y="499.74" font-size="9.7" font-weight="bold" text-anchor="middle" fill="#111" font-family='"Liberation Mono", monospace'>I</text>
<circle cx="566.74" cy="464.34" r="2" fill="#0c1a8c"/>
<text x="565.84" y="499.74" font-size="9.7" font-weight="bold" text-anchor="middle" fill="#111" font-family='"Liberation Mono", monospace'>K</text>
<circle cx="574.1" cy="464.54" r="2" fill="#ffb60f"/>
<text x="573.2" y="499.74" font-size="9.7" font-weight="bold" text-anchor="middle" fill="#111" font-family='"Liberation Mono", monospace'>V</text>
<circle cx="581.46" cy="464.54" r="2" fill="#ffb60f"/>
<text x="580.56" y="499.74" font-size="9.7" font-weight="bold" text-anchor="middle" fill="#111" font-family='"Liberation Mono", monospace'>Y</text>
<circle cx="588.82" cy="465.44" r="2" fill="#7234a2"/>
<text x="587.92" y="499.74" font-size="9.7" font-weight="bold" text-anchor="middle" fill="#111" font-family='"Liberation Mono", monospace'>C</text>
<circle cx="596.18" cy="465.74" r="2" fill="#0c1a8c"/>
<text x="595.28" y="499.74" font-size="9.7" font-weight="bold" text-anchor="middle" fill="#111" font-family='"Liberation Mono", monospace'>H</text>
<circle cx="603.54" cy="465.94" r="2" fill="#159dff"/>
<text x="602.64" y="499.74" font-size="9.7" font-weight="bold" text-anchor="middle" fill="#111" font-family='"Liberation Mono", monospace'>Q</text>
<circle cx="610.9" cy="466.64" r="2" fill="#ffb60f"/>
<text x="610" y="499.74" font-size="9.7" font-weight="bold" text-anchor="middle" fill="#111" font-family='"Liberation Mono", monospace'>W</text>
<circle cx="618.26" cy="467.84" r="2" fill="#ffb60f"/>
<text x="617.36" y="499.74" font-size="9.7" font-weight="bold" text-anchor="middle" fill="#111" font-family='"Liberation Mono", monospace'>M</text>
<circle cx="625.62" cy="469.44" r="2" fill="#f5141c"/>
<text x="624.72" y="499.74" font-size="9.7" font-weight="bold" text-anchor="middle" fill="#111" font-family='"Liberation Mono", monospace'>A</text>
<circle cx="632.98" cy="470.34" r="2" fill="#0f8c4e"/>
<text x="632.08" y="499.74" font-size="9.7" font-weight="bold" text-anchor="middle" fill="#111" font-family='"Liberation Mono", monospace'>D</text>
<circle cx="640.34" cy="472.44" r="2" fill="#0f8c4e"/>
<text x="639.44" y="499.74" font-size="9.7" font-weight="bold" text-anchor="middle" fill="#111" font-family='"Liberation Mono", monospace'>E</text>
<circle cx="647.7" cy="472.74" r="2" fill="#0c1a8c"/>
<text x="646.8" y="499.74" font-size="9.7" font-weight="bold" text-anchor="middle" fill="#111" font-family='"Liberation Mono", monospace'>R</text>
<circle cx="655.06" cy="473.84" r="2" fill="#7234a2"/>
<text x="654.16" y="499.74" font-size="9.7" font-weight="bold" text-anchor="middle" fill="#111" font-family='"Liberation Mono", monospace'>P</text>
<circle cx="662.42" cy="474.34" r="2" fill="#f5141c"/>
<text x="661.52" y="499.74" font-size="9.7" font-weight="bold" text-anchor="middle" fill="#111" font-family='"Liberation Mono", monospace'>G</text>
<circle cx="669.78" cy="474.54" r="2" fill="#159dff"/>
<text x="668.88" y="499.74" font-size="9.7" font-weight="bold" text-anchor="middle" fill="#111" font-family='"Liberation Mono", monospace'>T</text>
<circle cx="677.14" cy="478.74" r="2" fill="#159dff"/>
<text x="676.24" y="499.74" font-size="9.7" font-weight="bold" text-anchor="middle" fill="#111" font-family='"Liberation Mono", monospace'>S</text>
<text x="352.4" y="468.34" font-size="10.4" font-weight="bold" text-anchor="middle" fill="#000" font-family='"Liberation Sans", sans-serif' textLength="47.4" lengthAdjust="spacingAndGlyphs" transform="rotate(-90 352.4 468.34)" stroke="#000" stroke-width="0.3">Nematode</text>
<rect x="368.3" y="508.46" width="154.3" height="46.6" fill="none" stroke="#222" stroke-width="1.2"/>
<line x1="368.9" y1="531.76" x2="522" y2="531.76" stroke="#c8c8c8" stroke-width="1"/>
<line x1="365.7" y1="508.46" x2="368.3" y2="508.46" stroke="#222" stroke-width="1"/>
<text x="0" y="0" font-size="9.24" font-weight="normal" text-anchor="end" fill="#141414" font-family='"Liberation Sans", sans-serif' transform="translate(365 511.74) scale(0.9 1)">1</text>
<line x1="365.7" y1="531.76" x2="368.3" y2="531.76" stroke="#222" stroke-width="1"/>
<text x="0" y="0" font-size="9.24" font-weight="normal" text-anchor="end" fill="#141414" font-family='"Liberation Sans", sans-serif' transform="translate(365 535.04) scale(0.9 1)">0</text>
<line x1="365.7" y1="555.06" x2="368.3" y2="555.06" stroke="#222" stroke-width="1"/>
<text x="0" y="0" font-size="9.24" font-weight="normal" text-anchor="end" fill="#141414" font-family='"Liberation Sans", sans-serif' transform="translate(365 558.34) scale(0.9 1)">-1</text>
<circle cx="375.4" cy="516.06" r="2" fill="#159dff"/>
<text x="375.4" y="563.46" font-size="9.7" font-weight="bold" text-anchor="middle" fill="#111" font-family='"Liberation Mono", monospace'>S</text>
<circle cx="382.76" cy="526.16" r="2" fill="#0c1a8c"/>
<text x="382.76" y="563.46" font-size="9.7" font-weight="bold" text-anchor="middle" fill="#111" font-family='"Liberation Mono", monospace'>R</text>
<circle cx="390.12" cy="527.36" r="2" fill="#0c1a8c"/>
<text x="390.12" y="563.46" font-size="9.7" font-weight="bold" text-anchor="middle" fill="#111" font-family='"Liberation Mono", monospace'>K</text>
<circle cx="397.48" cy="527.56" r="2" fill="#ffb60f"/>
<text x="397.48" y="563.46" font-size="9.7" font-weight="bold" text-anchor="middle" fill="#111" font-family='"Liberation Mono", monospace'>F</text>
<circle cx="404.84" cy="530.16" r="2" fill="#159dff"/>
<text x="404.84" y="563.46" font-size="9.7" font-weight="bold" text-anchor="middle" fill="#111" font-family='"Liberation Mono", monospace'>Q</text>
<circle cx="412.2" cy="530.16" r="2" fill="#159dff"/>
<text x="412.2" y="563.46" font-size="9.7" font-weight="bold" text-anchor="middle" fill="#111" font-family='"Liberation Mono", monospace'>N</text>
<circle cx="419.56" cy="531.06" r="2" fill="#159dff"/>
<text x="419.56" y="563.46" font-size="9.7" font-weight="bold" text-anchor="middle" fill="#111" font-family='"Liberation Mono", monospace'>T</text>
<circle cx="426.92" cy="531.56" r="2" fill="#ffb60f"/>
<text x="426.92" y="563.46" font-size="9.7" font-weight="bold" text-anchor="middle" fill="#111" font-family='"Liberation Mono", monospace'>W</text>
<circle cx="434.28" cy="531.56" r="2" fill="#7234a2"/>
<text x="434.28" y="563.46" font-size="9.7" font-weight="bold" text-anchor="middle" fill="#111" font-family='"Liberation Mono", monospace'>C</text>
<circle cx="441.64" cy="531.76" r="2" fill="#ffb60f"/>
<text x="441.64" y="563.46" font-size="9.7" font-weight="bold" text-anchor="middle" fill="#111" font-family='"Liberation Mono", monospace'>L</text>
<circle cx="449" cy="531.76" r="2" fill="#ffb60f"/>
<text x="449" y="563.46" font-size="9.7" font-weight="bold" text-anchor="middle" fill="#111" font-family='"Liberation Mono", monospace'>Y</text>
<circle cx="456.36" cy="531.96" r="2" fill="#0c1a8c"/>
<text x="456.36" y="563.46" font-size="9.7" font-weight="bold" text-anchor="middle" fill="#111" font-family='"Liberation Mono", monospace'>H</text>
<circle cx="463.72" cy="531.96" r="2" fill="#7234a2"/>
<text x="463.72" y="563.46" font-size="9.7" font-weight="bold" text-anchor="middle" fill="#111" font-family='"Liberation Mono", monospace'>P</text>
<circle cx="471.08" cy="532.96" r="2" fill="#ffb60f"/>
<text x="471.08" y="563.46" font-size="9.7" font-weight="bold" text-anchor="middle" fill="#111" font-family='"Liberation Mono", monospace'>M</text>
<circle cx="478.44" cy="533.66" r="2" fill="#0f8c4e"/>
<text x="478.44" y="563.46" font-size="9.7" font-weight="bold" text-anchor="middle" fill="#111" font-family='"Liberation Mono", monospace'>E</text>
<circle cx="485.8" cy="535.46" r="2" fill="#ffb60f"/>
<text x="485.8" y="563.46" font-size="9.7" font-weight="bold" text-anchor="middle" fill="#111" font-family='"Liberation Mono", monospace'>I</text>
<circle cx="493.16" cy="535.46" r="2" fill="#0f8c4e"/>
<text x="493.16" y="563.46" font-size="9.7" font-weight="bold" text-anchor="middle" fill="#111" font-family='"Liberation Mono", monospace'>D</text>
<circle cx="500.52" cy="538.06" r="2" fill="#f5141c"/>
<text x="500.52" y="563.46" font-size="9.7" font-weight="bold" text-anchor="middle" fill="#111" font-family='"Liberation Mono", monospace'>A</text>
<circle cx="507.88" cy="539.26" r="2" fill="#ffb60f"/>
<text x="507.88" y="563.46" font-size="9.7" font-weight="bold" text-anchor="middle" fill="#111" font-family='"Liberation Mono", monospace'>V</text>
<circle cx="515.24" cy="541.76" r="2" fill="#f5141c"/>
<text x="515.24" y="563.46" font-size="9.7" font-weight="bold" text-anchor="middle" fill="#111" font-family='"Liberation Mono", monospace'>G</text>
<rect x="530.1" y="508.46" width="154.2" height="46.6" fill="none" stroke="#222" stroke-width="1.2"/>
<line x1="530.7" y1="531.76" x2="683.7" y2="531.76" stroke="#c8c8c8" stroke-width="1"/>
<line x1="527.5" y1="508.46" x2="530.1" y2="508.46" stroke="#222" stroke-width="1"/>
<line x1="527.5" y1="531.76" x2="530.1" y2="531.76" stroke="#222" stroke-width="1"/>
<line x1="527.5" y1="555.06" x2="530.1" y2="555.06" stroke="#222" stroke-width="1"/>
<circle cx="537.3" cy="517.76" r="2" fill="#ffb60f"/>
<text x="536.4" y="563.46" font-size="9.7" font-weight="bold" text-anchor="middle" fill="#111" font-family='"Liberation Mono", monospace'>L</text>
<circle cx="544.66" cy="526.36" r="2" fill="#ffb60f"/>
<text x="543.76" y="563.46" font-size="9.7" font-weight="bold" text-anchor="middle" fill="#111" font-family='"Liberation Mono", monospace'>I</text>
<circle cx="552.02" cy="526.86" r="2" fill="#0c1a8c"/>
<text x="551.12" y="563.46" font-size="9.7" font-weight="bold" text-anchor="middle" fill="#111" font-family='"Liberation Mono", monospace'>H</text>
<circle cx="559.38" cy="527.06" r="2" fill="#ffb60f"/>
<text x="558.48" y="563.46" font-size="9.7" font-weight="bold" text-anchor="middle" fill="#111" font-family='"Liberation Mono", monospace'>F</text>
<circle cx="566.74" cy="528.76" r="2" fill="#159dff"/>
<text x="565.84" y="563.46" font-size="9.7" font-weight="bold" text-anchor="middle" fill="#111" font-family='"Liberation Mono", monospace'>N</text>
<circle cx="574.1" cy="529.16" r="2" fill="#7234a2"/>
<text x="573.2" y="563.46" font-size="9.7" font-weight="bold" text-anchor="middle" fill="#111" font-family='"Liberation Mono", monospace'>P</text>
<circle cx="581.46" cy="530.56" r="2" fill="#ffb60f"/>
<text x="580.56" y="563.46" font-size="9.7" font-weight="bold" text-anchor="middle" fill="#111" font-family='"Liberation Mono", monospace'>Y</text>
<circle cx="588.82" cy="530.56" r="2" fill="#159dff"/>
<text x="587.92" y="563.46" font-size="9.7" font-weight="bold" text-anchor="middle" fill="#111" font-family='"Liberation Mono", monospace'>Q</text>
<circle cx="596.18" cy="531.06" r="2" fill="#7234a2"/>
<text x="595.28" y="563.46" font-size="9.7" font-weight="bold" text-anchor="middle" fill="#111" font-family='"Liberation Mono", monospace'>C</text>
<circle cx="603.54" cy="531.76" r="2" fill="#ffb60f"/>
<text x="602.64" y="563.46" font-size="9.7" font-weight="bold" text-anchor="middle" fill="#111" font-family='"Liberation Mono", monospace'>V</text>
<circle cx="610.9" cy="531.96" r="2" fill="#159dff"/>
<text x="610" y="563.46" font-size="9.7" font-weight="bold" text-anchor="middle" fill="#111" font-family='"Liberation Mono", monospace'>T</text>
<circle cx="618.26" cy="532.26" r="2" fill="#ffb60f"/>
<text x="617.36" y="563.46" font-size="9.7" font-weight="bold" text-anchor="middle" fill="#111" font-family='"Liberation Mono", monospace'>W</text>
<circle cx="625.62" cy="532.96" r="2" fill="#f5141c"/>
<text x="624.72" y="563.46" font-size="9.7" font-weight="bold" text-anchor="middle" fill="#111" font-family='"Liberation Mono", monospace'>A</text>
<circle cx="632.98" cy="533.66" r="2" fill="#ffb60f"/>
<text x="632.08" y="563.46" font-size="9.7" font-weight="bold" text-anchor="middle" fill="#111" font-family='"Liberation Mono", monospace'>M</text>
<circle cx="640.34" cy="533.86" r="2" fill="#159dff"/>
<text x="639.44" y="563.46" font-size="9.7" font-weight="bold" text-anchor="middle" fill="#111" font-family='"Liberation Mono", monospace'>S</text>
<circle cx="647.7" cy="535.76" r="2" fill="#0c1a8c"/>
<text x="646.8" y="563.46" font-size="9.7" font-weight="bold" text-anchor="middle" fill="#111" font-family='"Liberation Mono", monospace'>R</text>
<circle cx="655.06" cy="535.76" r="2" fill="#f5141c"/>
<text x="654.16" y="563.46" font-size="9.7" font-weight="bold" text-anchor="middle" fill="#111" font-family='"Liberation Mono", monospace'>G</text>
<circle cx="662.42" cy="535.96" r="2" fill="#0f8c4e"/>
<text x="661.52" y="563.46" font-size="9.7" font-weight="bold" text-anchor="middle" fill="#111" font-family='"Liberation Mono", monospace'>D</text>
<circle cx="669.78" cy="539.66" r="2" fill="#0c1a8c"/>
<text x="668.88" y="563.46" font-size="9.7" font-weight="bold" text-anchor="middle" fill="#111" font-family='"Liberation Mono", monospace'>K</text>
<circle cx="677.14" cy="543.66" r="2" fill="#0f8c4e"/>
<text x="676.24" y="563.46" font-size="9.7" font-weight="bold" text-anchor="middle" fill="#111" font-family='"Liberation Mono", monospace'>E</text>
<text x="352.4" y="532.06" font-size="10.4" font-weight="bold" text-anchor="middle" fill="#000" font-family='"Liberation Sans", sans-serif' textLength="24.6" lengthAdjust="spacingAndGlyphs" transform="rotate(-90 352.4 532.06)" stroke="#000" stroke-width="0.3">Plant</text>
<rect x="368.3" y="572.18" width="154.3" height="46.6" fill="none" stroke="#222" stroke-width="1.2"/>
<line x1="368.9" y1="595.48" x2="522" y2="595.48" stroke="#c8c8c8" stroke-width="1"/>
<line x1="365.7" y1="572.18" x2="368.3" y2="572.18" stroke="#222" stroke-width="1"/>
<text x="0" y="0" font-size="9.24" font-weight="normal" text-anchor="end" fill="#141414" font-family='"Liberation Sans", sans-serif' transform="translate(365 575.46) scale(0.9 1)">1</text>
<line x1="365.7" y1="595.48" x2="368.3" y2="595.48" stroke="#222" stroke-width="1"/>
<text x="0" y="0" font-size="9.24" font-weight="normal" text-anchor="end" fill="#141414" font-family='"Liberation Sans", sans-serif' transform="translate(365 598.76) scale(0.9 1)">0</text>
<line x1="365.7" y1="618.78" x2="368.3" y2="618.78" stroke="#222" stroke-width="1"/>
<text x="0" y="0" font-size="9.24" font-weight="normal" text-anchor="end" fill="#141414" font-family='"Liberation Sans", sans-serif' transform="translate(365 622.06) scale(0.9 1)">-1</text>
<circle cx="375.4" cy="580.28" r="2" fill="#0c1a8c"/>
<text x="375.4" y="627.18" font-size="9.7" font-weight="bold" text-anchor="middle" fill="#111" font-family='"Liberation Mono", monospace'>K</text>
<circle cx="382.76" cy="587.78" r="2" fill="#0f8c4e"/>
<text x="382.76" y="627.18" font-size="9.7" font-weight="bold" text-anchor="middle" fill="#111" font-family='"Liberation Mono", monospace'>E</text>
<circle cx="390.12" cy="589.38" r="2" fill="#0f8c4e"/>
<text x="390.12" y="627.18" font-size="9.7" font-weight="bold" text-anchor="middle" fill="#111" font-family='"Liberation Mono", monospace'>D</text>
<circle cx="397.48" cy="591.28" r="2" fill="#0c1a8c"/>
<text x="397.48" y="627.18" font-size="9.7" font-weight="bold" text-anchor="middle" fill="#111" font-family='"Liberation Mono", monospace'>R</text>
<circle cx="404.84" cy="594.28" r="2" fill="#ffb60f"/>
<text x="404.84" y="627.18" font-size="9.7" font-weight="bold" text-anchor="middle" fill="#111" font-family='"Liberation Mono", monospace'>W</text>
<circle cx="412.2" cy="594.78" r="2" fill="#f5141c"/>
<text x="412.2" y="627.18" font-size="9.7" font-weight="bold" text-anchor="middle" fill="#111" font-family='"Liberation Mono", monospace'>G</text>
<circle cx="419.56" cy="594.78" r="2" fill="#ffb60f"/>
<text x="419.56" y="627.18" font-size="9.7" font-weight="bold" text-anchor="middle" fill="#111" font-family='"Liberation Mono", monospace'>V</text>
<circle cx="426.92" cy="594.98" r="2" fill="#159dff"/>
<text x="426.92" y="627.18" font-size="9.7" font-weight="bold" text-anchor="middle" fill="#111" font-family='"Liberation Mono", monospace'>N</text>
<circle cx="434.28" cy="595.48" r="2" fill="#ffb60f"/>
<text x="434.28" y="627.18" font-size="9.7" font-weight="bold" text-anchor="middle" fill="#111" font-family='"Liberation Mono", monospace'>M</text>
<circle cx="441.64" cy="595.98" r="2" fill="#0c1a8c"/>
<text x="441.64" y="627.18" font-size="9.7" font-weight="bold" text-anchor="middle" fill="#111" font-family='"Liberation Mono", monospace'>H</text>
<circle cx="449" cy="595.98" r="2" fill="#f5141c"/>
<text x="449" y="627.18" font-size="9.7" font-weight="bold" text-anchor="middle" fill="#111" font-family='"Liberation Mono", monospace'>A</text>
<circle cx="456.36" cy="596.18" r="2" fill="#159dff"/>
<text x="456.36" y="627.18" font-size="9.7" font-weight="bold" text-anchor="middle" fill="#111" font-family='"Liberation Mono", monospace'>Q</text>
<circle cx="463.72" cy="596.68" r="2" fill="#7234a2"/>
<text x="463.72" y="627.18" font-size="9.7" font-weight="bold" text-anchor="middle" fill="#111" font-family='"Liberation Mono", monospace'>C</text>
<circle cx="471.08" cy="597.38" r="2" fill="#ffb60f"/>
<text x="471.08" y="627.18" font-size="9.7" font-weight="bold" text-anchor="middle" fill="#111" font-family='"Liberation Mono", monospace'>Y</text>
<circle cx="478.44" cy="597.58" r="2" fill="#ffb60f"/>
<text x="478.44" y="627.18" font-size="9.7" font-weight="bold" text-anchor="middle" fill="#111" font-family='"Liberation Mono", monospace'>F</text>
<circle cx="485.8" cy="598.48" r="2" fill="#159dff"/>
<text x="485.8" y="627.18" font-size="9.7" font-weight="bold" text-anchor="middle" fill="#111" font-family='"Liberation Mono", monospace'>S</text>
<circle cx="493.16" cy="601.08" r="2" fill="#ffb60f"/>
<text x="493.16" y="627.18" font-size="9.7" font-weight="bold" text-anchor="middle" fill="#111" font-family='"Liberation Mono", monospace'>I</text>
<circle cx="500.52" cy="601.98" r="2" fill="#7234a2"/>
<text x="500.52" y="627.18" font-size="9.7" font-weight="bold" text-anchor="middle" fill="#111" font-family='"Liberation Mono", monospace'>P</text>
<circle cx="507.88" cy="602.48" r="2" fill="#ffb60f"/>
<text x="507.88" y="627.18" font-size="9.7" font-weight="bold" text-anchor="middle" fill="#111" font-family='"Liberation Mono", monospace'>L</text>
<circle cx="515.24" cy="602.48" r="2" fill="#159dff"/>
<text x="515.24" y="627.18" font-size="9.7" font-weight="bold" text-anchor="middle" fill="#111" font-family='"Liberation Mono", monospace'>T</text>
<rect x="530.1" y="572.18" width="154.2" height="46.6" fill="none" stroke="#222" stroke-width="1.2"/>
<line x1="530.7" y1="595.48" x2="683.7" y2="595.48" stroke="#c8c8c8" stroke-width="1"/>
<line x1="527.5" y1="572.18" x2="530.1" y2="572.18" stroke="#222" stroke-width="1"/>
<line x1="527.5" y1="595.48" x2="530.1" y2="595.48" stroke="#222" stroke-width="1"/>
<line x1="527.5" y1="618.78" x2="530.1" y2="618.78" stroke="#222" stroke-width="1"/>
<circle cx="537.3" cy="582.88" r="2" fill="#0c1a8c"/>
<text x="536.4" y="627.18" font-size="9.7" font-weight="bold" text-anchor="middle" fill="#111" font-family='"Liberation Mono", monospace'>K</text>
<circle cx="544.66" cy="586.58" r="2" fill="#ffb60f"/>
<text x="543.76" y="627.18" font-size="9.7" font-weight="bold" text-anchor="middle" fill="#111" font-family='"Liberation Mono", monospace'>L</text>
<circle cx="552.02" cy="589.68" r="2" fill="#ffb60f"/>
<text x="551.12" y="627.18" font-size="9.7" font-weight="bold" text-anchor="middle" fill="#111" font-family='"Liberation Mono", monospace'>F</text>
<circle cx="559.38" cy="593.58" r="2" fill="#ffb60f"/>
<text x="558.48" y="627.18" font-size="9.7" font-weight="bold" text-anchor="middle" fill="#111" font-family='"Liberation Mono", monospace'>Y</text>
<circle cx="566.74" cy="593.58" r="2" fill="#159dff"/>
<text x="565.84" y="627.18" font-size="9.7" font-weight="bold" text-anchor="middle" fill="#111" font-family='"Liberation Mono", monospace'>Q</text>
<circle cx="574.1" cy="594.28" r="2" fill="#0c1a8c"/>
<text x="573.2" y="627.18" font-size="9.7" font-weight="bold" text-anchor="middle" fill="#111" font-family='"Liberation Mono", monospace'>R</text>
<circle cx="581.46" cy="594.28" r="2" fill="#159dff"/>
<text x="580.56" y="627.18" font-size="9.7" font-weight="bold" text-anchor="middle" fill="#111" font-family='"Liberation Mono", monospace'>T</text>
<circle cx="588.82" cy="594.58" r="2" fill="#0c1a8c"/>
<text x="587.92" y="627.18" font-size="9.7" font-weight="bold" text-anchor="middle" fill="#111" font-family='"Liberation Mono", monospace'>H</text>
<circle cx="596.18" cy="594.78" r="2" fill="#159dff"/>
<text x="595.28" y="627.18" font-size="9.7" font-weight="bold" text-anchor="middle" fill="#111" font-family='"Liberation Mono", monospace'>S</text>
<circle cx="603.54" cy="594.98" r="2" fill="#ffb60f"/>
<text x="602.64" y="627.18" font-size="9.7" font-weight="bold" text-anchor="middle" fill="#111" font-family='"Liberation Mono", monospace'>W</text>
<circle cx="610.9" cy="595.28" r="2" fill="#ffb60f"/>
<text x="610" y="627.18" font-size="9.7" font-weight="bold" text-anchor="middle" fill="#111" font-family='"Liberation Mono", monospace'>M</text>
<circle cx="618.26" cy="595.28" r="2" fill="#ffb60f"/>
<text x="617.36" y="627.18" font-size="9.7" font-weight="bold" text-anchor="middle" fill="#111" font-family='"Liberation Mono", monospace'>I</text>
<circle cx="625.62" cy="596.18" r="2" fill="#7234a2"/>
<text x="624.72" y="627.18" font-size="9.7" font-weight="bold" text-anchor="middle" fill="#111" font-family='"Liberation Mono", monospace'>C</text>
<circle cx="632.98" cy="596.38" r="2" fill="#159dff"/>
<text x="632.08" y="627.18" font-size="9.7" font-weight="bold" text-anchor="middle" fill="#111" font-family='"Liberation Mono", monospace'>N</text>
<circle cx="640.34" cy="596.68" r="2" fill="#7234a2"/>
<text x="639.44" y="627.18" font-size="9.7" font-weight="bold" text-anchor="middle" fill="#111" font-family='"Liberation Mono", monospace'>P</text>
<circle cx="647.7" cy="598.98" r="2" fill="#f5141c"/>
<text x="646.8" y="627.18" font-size="9.7" font-weight="bold" text-anchor="middle" fill="#111" font-family='"Liberation Mono", monospace'>A</text>
<circle cx="655.06" cy="600.18" r="2" fill="#0f8c4e"/>
<text x="654.16" y="627.18" font-size="9.7" font-weight="bold" text-anchor="middle" fill="#111" font-family='"Liberation Mono", monospace'>D</text>
<circle cx="662.42" cy="601.78" r="2" fill="#ffb60f"/>
<text x="661.52" y="627.18" font-size="9.7" font-weight="bold" text-anchor="middle" fill="#111" font-family='"Liberation Mono", monospace'>V</text>
<circle cx="669.78" cy="604.58" r="2" fill="#f5141c"/>
<text x="668.88" y="627.18" font-size="9.7" font-weight="bold" text-anchor="middle" fill="#111" font-family='"Liberation Mono", monospace'>G</text>
<circle cx="677.14" cy="605.48" r="2" fill="#0f8c4e"/>
<text x="676.24" y="627.18" font-size="9.7" font-weight="bold" text-anchor="middle" fill="#111" font-family='"Liberation Mono", monospace'>E</text>
<text x="352.4" y="595.78" font-size="10.4" font-weight="bold" text-anchor="middle" fill="#000" font-family='"Liberation Sans", sans-serif' textLength="26" lengthAdjust="spacingAndGlyphs" transform="rotate(-90 352.4 595.78)" stroke="#000" stroke-width="0.3">Yeast</text>
<rect x="368.3" y="635.9" width="154.3" height="46.6" fill="none" stroke="#222" stroke-width="1.2"/>
<line x1="368.9" y1="659.2" x2="522" y2="659.2" stroke="#c8c8c8" stroke-width="1"/>
<line x1="365.7" y1="635.9" x2="368.3" y2="635.9" stroke="#222" stroke-width="1"/>
<text x="0" y="0" font-size="9.24" font-weight="normal" text-anchor="end" fill="#141414" font-family='"Liberation Sans", sans-serif' transform="translate(365 639.18) scale(0.9 1)">1</text>
<line x1="365.7" y1="659.2" x2="368.3" y2="659.2" stroke="#222" stroke-width="1"/>
<text x="0" y="0" font-size="9.24" font-weight="normal" text-anchor="end" fill="#141414" font-family='"Liberation Sans", sans-serif' transform="translate(365 662.48) scale(0.9 1)">0</text>
<line x1="365.7" y1="682.5" x2="368.3" y2="682.5" stroke="#222" stroke-width="1"/>
<text x="0" y="0" font-size="9.24" font-weight="normal" text-anchor="end" fill="#141414" font-family='"Liberation Sans", sans-serif' transform="translate(365 685.78) scale(0.9 1)">-1</text>
<circle cx="375.4" cy="646.4" r="2" fill="#0c1a8c"/>
<text x="375.4" y="690.9" font-size="9.7" font-weight="bold" text-anchor="middle" fill="#111" font-family='"Liberation Mono", monospace'>K</text>
<circle cx="382.76" cy="650.8" r="2" fill="#0c1a8c"/>
<text x="382.76" y="690.9" font-size="9.7" font-weight="bold" text-anchor="middle" fill="#111" font-family='"Liberation Mono", monospace'>R</text>
<circle cx="390.12" cy="652.9" r="2" fill="#0f8c4e"/>
<text x="390.12" y="690.9" font-size="9.7" font-weight="bold" text-anchor="middle" fill="#111" font-family='"Liberation Mono", monospace'>E</text>
<circle cx="397.48" cy="653.1" r="2" fill="#f5141c"/>
<text x="397.48" y="690.9" font-size="9.7" font-weight="bold" text-anchor="middle" fill="#111" font-family='"Liberation Mono", monospace'>A</text>
<circle cx="404.84" cy="655" r="2" fill="#159dff"/>
<text x="404.84" y="690.9" font-size="9.7" font-weight="bold" text-anchor="middle" fill="#111" font-family='"Liberation Mono", monospace'>Q</text>
<circle cx="412.2" cy="658.7" r="2" fill="#ffb60f"/>
<text x="412.2" y="690.9" font-size="9.7" font-weight="bold" text-anchor="middle" fill="#111" font-family='"Liberation Mono", monospace'>W</text>
<circle cx="419.56" cy="659" r="2" fill="#ffb60f"/>
<text x="419.56" y="690.9" font-size="9.7" font-weight="bold" text-anchor="middle" fill="#111" font-family='"Liberation Mono", monospace'>F</text>
<circle cx="426.92" cy="659.2" r="2" fill="#159dff"/>
<text x="426.92" y="690.9" font-size="9.7" font-weight="bold" text-anchor="middle" fill="#111" font-family='"Liberation Mono", monospace'>S</text>
<circle cx="434.28" cy="659.9" r="2" fill="#0c1a8c"/>
<text x="434.28" y="690.9" font-size="9.7" font-weight="bold" text-anchor="middle" fill="#111" font-family='"Liberation Mono", monospace'>H</text>
<circle cx="441.64" cy="660.1" r="2" fill="#7234a2"/>
<text x="441.64" y="690.9" font-size="9.7" font-weight="bold" text-anchor="middle" fill="#111" font-family='"Liberation Mono", monospace'>C</text>
<circle cx="449" cy="660.4" r="2" fill="#ffb60f"/>
<text x="449" y="690.9" font-size="9.7" font-weight="bold" text-anchor="middle" fill="#111" font-family='"Liberation Mono", monospace'>Y</text>
<circle cx="456.36" cy="661.3" r="2" fill="#159dff"/>
<text x="456.36" y="690.9" font-size="9.7" font-weight="bold" text-anchor="middle" fill="#111" font-family='"Liberation Mono", monospace'>N</text>
<circle cx="463.72" cy="661.5" r="2" fill="#ffb60f"/>
<text x="463.72" y="690.9" font-size="9.7" font-weight="bold" text-anchor="middle" fill="#111" font-family='"Liberation Mono", monospace'>M</text>
<circle cx="471.08" cy="661.5" r="2" fill="#ffb60f"/>
<text x="471.08" y="690.9" font-size="9.7" font-weight="bold" text-anchor="middle" fill="#111" font-family='"Liberation Mono", monospace'>I</text>
<circle cx="478.44" cy="661.8" r="2" fill="#159dff"/>
<text x="478.44" y="690.9" font-size="9.7" font-weight="bold" text-anchor="middle" fill="#111" font-family='"Liberation Mono", monospace'>T</text>
<circle cx="485.8" cy="662.2" r="2" fill="#ffb60f"/>
<text x="485.8" y="690.9" font-size="9.7" font-weight="bold" text-anchor="middle" fill="#111" font-family='"Liberation Mono", monospace'>L</text>
<circle cx="493.16" cy="662.5" r="2" fill="#7234a2"/>
<text x="493.16" y="690.9" font-size="9.7" font-weight="bold" text-anchor="middle" fill="#111" font-family='"Liberation Mono", monospace'>P</text>
<circle cx="500.52" cy="662.9" r="2" fill="#0f8c4e"/>
<text x="500.52" y="690.9" font-size="9.7" font-weight="bold" text-anchor="middle" fill="#111" font-family='"Liberation Mono", monospace'>D</text>
<circle cx="507.88" cy="665" r="2" fill="#ffb60f"/>
<text x="507.88" y="690.9" font-size="9.7" font-weight="bold" text-anchor="middle" fill="#111" font-family='"Liberation Mono", monospace'>V</text>
<circle cx="515.24" cy="669.7" r="2" fill="#f5141c"/>
<text x="515.24" y="690.9" font-size="9.7" font-weight="bold" text-anchor="middle" fill="#111" font-family='"Liberation Mono", monospace'>G</text>
<rect x="530.1" y="635.9" width="154.2" height="46.6" fill="none" stroke="#222" stroke-width="1.2"/>
<line x1="530.7" y1="659.2" x2="683.7" y2="659.2" stroke="#c8c8c8" stroke-width="1"/>
<line x1="527.5" y1="635.9" x2="530.1" y2="635.9" stroke="#222" stroke-width="1"/>
<line x1="527.5" y1="659.2" x2="530.1" y2="659.2" stroke="#222" stroke-width="1"/>
<line x1="527.5" y1="682.5" x2="530.1" y2="682.5" stroke="#222" stroke-width="1"/>
<circle cx="537.3" cy="653.6" r="2" fill="#f5141c"/>
<text x="536.4" y="690.9" font-size="9.7" font-weight="bold" text-anchor="middle" fill="#111" font-family='"Liberation Mono", monospace'>A</text>
<circle cx="544.66" cy="654.8" r="2" fill="#0f8c4e"/>
<text x="543.76" y="690.9" font-size="9.7" font-weight="bold" text-anchor="middle" fill="#111" font-family='"Liberation Mono", monospace'>D</text>
<circle cx="552.02" cy="654.8" r="2" fill="#ffb60f"/>
<text x="551.12" y="690.9" font-size="9.7" font-weight="bold" text-anchor="middle" fill="#111" font-family='"Liberation Mono", monospace'>I</text>
<circle cx="559.38" cy="654.8" r="2" fill="#f5141c"/>
<text x="558.48" y="690.9" font-size="9.7" font-weight="bold" text-anchor="middle" fill="#111" font-family='"Liberation Mono", monospace'>G</text>
<circle cx="566.74" cy="657.6" r="2" fill="#0c1a8c"/>
<text x="565.84" y="690.9" font-size="9.7" font-weight="bold" text-anchor="middle" fill="#111" font-family='"Liberation Mono", monospace'>R</text>
<circle cx="574.1" cy="657.6" r="2" fill="#ffb60f"/>
<text x="573.2" y="690.9" font-size="9.7" font-weight="bold" text-anchor="middle" fill="#111" font-family='"Liberation Mono", monospace'>Y</text>
<circle cx="581.46" cy="657.6" r="2" fill="#ffb60f"/>
<text x="580.56" y="690.9" font-size="9.7" font-weight="bold" text-anchor="middle" fill="#111" font-family='"Liberation Mono", monospace'>M</text>
<circle cx="588.82" cy="657.6" r="2" fill="#159dff"/>
<text x="587.92" y="690.9" font-size="9.7" font-weight="bold" text-anchor="middle" fill="#111" font-family='"Liberation Mono", monospace'>S</text>
<circle cx="596.18" cy="658.5" r="2" fill="#159dff"/>
<text x="595.28" y="690.9" font-size="9.7" font-weight="bold" text-anchor="middle" fill="#111" font-family='"Liberation Mono", monospace'>T</text>
<circle cx="603.54" cy="659" r="2" fill="#0c1a8c"/>
<text x="602.64" y="690.9" font-size="9.7" font-weight="bold" text-anchor="middle" fill="#111" font-family='"Liberation Mono", monospace'>H</text>
<circle cx="610.9" cy="659" r="2" fill="#0f8c4e"/>
<text x="610" y="690.9" font-size="9.7" font-weight="bold" text-anchor="middle" fill="#111" font-family='"Liberation Mono", monospace'>E</text>
<circle cx="618.26" cy="659" r="2" fill="#7234a2"/>
<text x="617.36" y="690.9" font-size="9.7" font-weight="bold" text-anchor="middle" fill="#111" font-family='"Liberation Mono", monospace'>C</text>
<circle cx="625.62" cy="659" r="2" fill="#7234a2"/>
<text x="624.72" y="690.9" font-size="9.7" font-weight="bold" text-anchor="middle" fill="#111" font-family='"Liberation Mono", monospace'>P</text>
<circle cx="632.98" cy="659.2" r="2" fill="#159dff"/>
<text x="632.08" y="690.9" font-size="9.7" font-weight="bold" text-anchor="middle" fill="#111" font-family='"Liberation Mono", monospace'>N</text>
<circle cx="640.34" cy="659.7" r="2" fill="#ffb60f"/>
<text x="639.44" y="690.9" font-size="9.7" font-weight="bold" text-anchor="middle" fill="#111" font-family='"Liberation Mono", monospace'>V</text>
<circle cx="647.7" cy="659.7" r="2" fill="#ffb60f"/>
<text x="646.8" y="690.9" font-size="9.7" font-weight="bold" text-anchor="middle" fill="#111" font-family='"Liberation Mono", monospace'>W</text>
<circle cx="655.06" cy="659.9" r="2" fill="#159dff"/>
<text x="654.16" y="690.9" font-size="9.7" font-weight="bold" text-anchor="middle" fill="#111" font-family='"Liberation Mono", monospace'>Q</text>
<circle cx="662.42" cy="660.8" r="2" fill="#ffb60f"/>
<text x="661.52" y="690.9" font-size="9.7" font-weight="bold" text-anchor="middle" fill="#111" font-family='"Liberation Mono", monospace'>F</text>
<circle cx="669.78" cy="662" r="2" fill="#0c1a8c"/>
<text x="668.88" y="690.9" font-size="9.7" font-weight="bold" text-anchor="middle" fill="#111" font-family='"Liberation Mono", monospace'>K</text>
<circle cx="677.14" cy="680" r="2" fill="#ffb60f"/>
<text x="676.24" y="690.9" font-size="9.7" font-weight="bold" text-anchor="middle" fill="#111" font-family='"Liberation Mono", monospace'>L</text>
<text x="352.4" y="659.5" font-size="10.4" font-weight="bold" text-anchor="middle" fill="#000" font-family='"Liberation Sans", sans-serif' textLength="37.8" lengthAdjust="spacingAndGlyphs" transform="rotate(-90 352.4 659.5)" stroke="#000" stroke-width="0.3">Bacteria</text>
<rect x="35.3" y="166.6" width="153" height="110.6" fill="none" stroke="#222" stroke-width="1.35"/>
<line x1="35.3" y1="277.2" x2="35.3" y2="279.8" stroke="#222" stroke-width="1"/>
<text x="0" y="0" font-size="8.8" font-weight="normal" text-anchor="middle" fill="#141414" font-family='"Liberation Sans", sans-serif' transform="translate(35.3 287.8) scale(0.9 1)">-0.1</text>
<line x1="111.8" y1="277.2" x2="111.8" y2="279.8" stroke="#222" stroke-width="1"/>
<text x="0" y="0" font-size="8.8" font-weight="normal" text-anchor="middle" fill="#141414" font-family='"Liberation Sans", sans-serif' transform="translate(111.8 287.8) scale(0.9 1)">0</text>
<line x1="188.3" y1="277.2" x2="188.3" y2="279.8" stroke="#222" stroke-width="1"/>
<text x="0" y="0" font-size="8.8" font-weight="normal" text-anchor="middle" fill="#141414" font-family='"Liberation Sans", sans-serif' transform="translate(188.3 287.8) scale(0.9 1)">0.1</text>
<line x1="32.7" y1="166.6" x2="35.3" y2="166.6" stroke="#222" stroke-width="1"/>
<text x="0" y="0" font-size="8.8" font-weight="normal" text-anchor="end" fill="#141414" font-family='"Liberation Sans", sans-serif' transform="translate(31.2 169.72) scale(0.9 1)">0.1</text>
<line x1="32.7" y1="221.9" x2="35.3" y2="221.9" stroke="#222" stroke-width="1"/>
<text x="0" y="0" font-size="8.8" font-weight="normal" text-anchor="end" fill="#141414" font-family='"Liberation Sans", sans-serif' transform="translate(31.2 225.02) scale(0.9 1)">0</text>
<line x1="32.7" y1="277.2" x2="35.3" y2="277.2" stroke="#222" stroke-width="1"/>
<text x="0" y="0" font-size="8.8" font-weight="normal" text-anchor="end" fill="#141414" font-family='"Liberation Sans", sans-serif' transform="translate(31.2 280.32) scale(0.9 1)">-0.1</text>
<rect x="223.6" y="166.6" width="153.3" height="110.6" fill="none" stroke="#222" stroke-width="1.35"/>
<line x1="223.6" y1="277.2" x2="223.6" y2="279.8" stroke="#222" stroke-width="1"/>
<text x="0" y="0" font-size="8.8" font-weight="normal" text-anchor="middle" fill="#141414" font-family='"Liberation Sans", sans-serif' transform="translate(223.6 287.8) scale(0.9 1)">-0.1</text>
<line x1="291.3" y1="277.2" x2="291.3" y2="279.8" stroke="#222" stroke-width="1"/>
<text x="0" y="0" font-size="8.8" font-weight="normal" text-anchor="middle" fill="#141414" font-family='"Liberation Sans", sans-serif' transform="translate(291.3 287.8) scale(0.9 1)">0.1</text>
<line x1="359" y1="277.2" x2="359" y2="279.8" stroke="#222" stroke-width="1"/>
<text x="0" y="0" font-size="8.8" font-weight="normal" text-anchor="middle" fill="#141414" font-family='"Liberation Sans", sans-serif' transform="translate(359 287.8) scale(0.9 1)">0.3</text>
<line x1="221" y1="166.6" x2="223.6" y2="166.6" stroke="#222" stroke-width="1"/>
<text x="0" y="0" font-size="8.8" font-weight="normal" text-anchor="end" fill="#141414" font-family='"Liberation Sans", sans-serif' transform="translate(219.5 169.72) scale(0.9 1)">0.2</text>
<line x1="221" y1="221.9" x2="223.6" y2="221.9" stroke="#222" stroke-width="1"/>
<text x="0" y="0" font-size="8.8" font-weight="normal" text-anchor="end" fill="#141414" font-family='"Liberation Sans", sans-serif' transform="translate(219.5 225.02) scale(0.9 1)">0</text>
<line x1="221" y1="277.2" x2="223.6" y2="277.2" stroke="#222" stroke-width="1"/>
<text x="0" y="0" font-size="8.8" font-weight="normal" text-anchor="end" fill="#141414" font-family='"Liberation Sans", sans-serif' transform="translate(219.5 280.32) scale(0.9 1)">-0.2</text>
<text x="113.2" y="298.8" font-size="9.3" font-weight="bold" text-anchor="middle" fill="#000" font-family='"Liberation Sans", sans-serif' textLength="56.6" lengthAdjust="spacingAndGlyphs" stroke="#000" stroke-width="0.3">PC1 (37.15%)</text>
<text x="302" y="298.8" font-size="9.3" font-weight="bold" text-anchor="middle" fill="#000" font-family='"Liberation Sans", sans-serif' textLength="56.3" lengthAdjust="spacingAndGlyphs" stroke="#000" stroke-width="0.3">PC1 (14.02%)</text>
<text x="20.4" y="217.8" font-size="9.3" font-weight="bold" text-anchor="middle" fill="#000" font-family='"Liberation Sans", sans-serif' textLength="56.7" lengthAdjust="spacingAndGlyphs" transform="rotate(-90 20.4 217.8)" stroke="#000" stroke-width="0.3">PC2 (19.56%)</text>
<text x="210.8" y="218.6" font-size="9.3" font-weight="bold" text-anchor="middle" fill="#000" font-family='"Liberation Sans", sans-serif' textLength="55.5" lengthAdjust="spacingAndGlyphs" transform="rotate(-90 210.8 218.6)" stroke="#000" stroke-width="0.3">PC2 (13.12%)</text>
<text x="340.3" y="181.9" font-size="10.3" font-weight="bold" text-anchor="middle" fill="#000" font-family='"Liberation Sans", sans-serif' textLength="55.5" lengthAdjust="spacingAndGlyphs" stroke="#000" stroke-width="0.3">Normalized</text>
<text x="388.8" y="180.8" font-size="9.4" font-weight="bold" text-anchor="start" fill="#000" font-family='"Liberation Sans", sans-serif' textLength="33.8" lengthAdjust="spacingAndGlyphs" stroke="#000" stroke-width="0.3">Species</text>
<path fill="none" stroke="#1a1a1a" stroke-width="0.95" d="M389 191a4.1 4.1 0 1 0 8.2 0a4.1 4.1 0 1 0 -8.2 0"/>
<text x="401.9" y="194.3" font-size="9.4" font-weight="bold" text-anchor="start" fill="#000" font-family='"Liberation Sans", sans-serif' textLength="30.8" lengthAdjust="spacingAndGlyphs" stroke="#000" stroke-width="0.3">Human</text>
<path fill="none" stroke="#1a1a1a" stroke-width="0.95" d="M389.3 199.6h7.6v7.6h-7.6z"/>
<text x="401.9" y="206.7" font-size="9.4" font-weight="bold" text-anchor="start" fill="#000" font-family='"Liberation Sans", sans-serif' textLength="28.8" lengthAdjust="spacingAndGlyphs" stroke="#000" stroke-width="0.3">Mouse</text>
<path fill="none" stroke="#1a1a1a" stroke-width="0.95" d="M393.1 212.1l4.1 7.6h-8.2z"/>
<text x="401.9" y="219.7" font-size="9.4" font-weight="bold" text-anchor="start" fill="#000" font-family='"Liberation Sans", sans-serif' textLength="13.2" lengthAdjust="spacingAndGlyphs" stroke="#000" stroke-width="0.3">Fly</text>
<path fill="none" stroke="#1a1a1a" stroke-width="0.95" d="M393.1 225.7l4.3 4.3l-4.3 4.3l-4.3 -4.3z"/>
<text x="401.9" y="233.3" font-size="9.4" font-weight="bold" text-anchor="start" fill="#000" font-family='"Liberation Sans", sans-serif' textLength="43.8" lengthAdjust="spacingAndGlyphs" stroke="#000" stroke-width="0.3">Nematode</text>
<path fill="none" stroke="#1a1a1a" stroke-width="0.95" d="M389.8 242.9h6.6"/>
<text x="401.9" y="246.2" font-size="9.4" font-weight="bold" text-anchor="start" fill="#000" font-family='"Liberation Sans", sans-serif' textLength="22" lengthAdjust="spacingAndGlyphs" stroke="#000" stroke-width="0.3">Plant</text>
<path fill="none" stroke="#1a1a1a" stroke-width="0.95" d="M389.8 254.9h6.6M393.1 251.6v6.6"/>
<text x="401.9" y="258.2" font-size="9.4" font-weight="bold" text-anchor="start" fill="#000" font-family='"Liberation Sans", sans-serif' textLength="24.4" lengthAdjust="spacingAndGlyphs" stroke="#000" stroke-width="0.3">Yeast</text>
<path fill="none" stroke="#1a1a1a" stroke-width="0.95" d="M390 264.6l6.2 6.2M390 270.8l6.2 -6.2"/>
<text x="401.9" y="271" font-size="9.4" font-weight="bold" text-anchor="start" fill="#000" font-family='"Liberation Sans", sans-serif' textLength="35.8" lengthAdjust="spacingAndGlyphs" stroke="#000" stroke-width="0.3">Bacteria</text>
<text x="455.8" y="181" font-size="9.4" font-weight="bold" text-anchor="start" fill="#000" font-family='"Liberation Sans", sans-serif' textLength="35.5" lengthAdjust="spacingAndGlyphs" stroke="#000" stroke-width="0.3">Position</text>
<circle cx="457.5" cy="190.5" r="1.9" fill="none" stroke="#ee2a2a" stroke-width="1.3"/>
<text x="464.3" y="193.8" font-size="9.2" font-weight="bold" text-anchor="start" fill="#000" font-family='"Liberation Sans", sans-serif' stroke="#000" stroke-width="0.3">-1</text>
<circle cx="457.5" cy="203.6" r="1.9" fill="none" stroke="#f5b41c" stroke-width="1.3"/>
<text x="464.3" y="206.9" font-size="9.2" font-weight="bold" text-anchor="start" fill="#000" font-family='"Liberation Sans", sans-serif' stroke="#000" stroke-width="0.3">-2 ~ -10</text>
<circle cx="457.5" cy="216.6" r="1.9" fill="none" stroke="#1ea6e6" stroke-width="1.3"/>
<text x="464.3" y="219.9" font-size="9.2" font-weight="bold" text-anchor="start" fill="#000" font-family='"Liberation Sans", sans-serif' stroke="#000" stroke-width="0.3">-11 ~ -50</text>
<circle cx="457.5" cy="229.3" r="1.9" fill="none" stroke="#cfcfcf" stroke-width="1.3"/>
<text x="464.3" y="232.6" font-size="9.2" font-weight="bold" text-anchor="start" fill="#000" font-family='"Liberation Sans", sans-serif' stroke="#000" stroke-width="0.3">-51 ~ -100</text>
<circle cx="457.5" cy="242.4" r="1.9" fill="none" stroke="#7a7a7a" stroke-width="1.3"/>
<text x="464.3" y="245.7" font-size="9.2" font-weight="bold" text-anchor="start" fill="#000" font-family='"Liberation Sans", sans-serif' textLength="46.1" lengthAdjust="spacingAndGlyphs" stroke="#000" stroke-width="0.3">-101 ~ -150</text>
<rect x="31.9" y="322.4" width="100.9" height="89.9" fill="none" stroke="#222" stroke-width="1.35"/>
<line x1="31.9" y1="412.3" x2="31.9" y2="414.9" stroke="#222" stroke-width="1"/>
<text x="0" y="0" font-size="8.8" font-weight="normal" text-anchor="middle" fill="#141414" font-family='"Liberation Sans", sans-serif' transform="translate(31.9 421.9) scale(0.9 1)">-0.2</text>
<line x1="65.53" y1="412.3" x2="65.53" y2="414.9" stroke="#222" stroke-width="1"/>
<text x="0" y="0" font-size="8.8" font-weight="normal" text-anchor="middle" fill="#141414" font-family='"Liberation Sans", sans-serif' transform="translate(65.53 421.9) scale(0.9 1)">0</text>
<line x1="99.17" y1="412.3" x2="99.17" y2="414.9" stroke="#222" stroke-width="1"/>
<text x="0" y="0" font-size="8.8" font-weight="normal" text-anchor="middle" fill="#141414" font-family='"Liberation Sans", sans-serif' transform="translate(99.17 421.9) scale(0.9 1)">0.2</text>
<line x1="132.8" y1="412.3" x2="132.8" y2="414.9" stroke="#222" stroke-width="1"/>
<text x="0" y="0" font-size="8.8" font-weight="normal" text-anchor="middle" fill="#141414" font-family='"Liberation Sans", sans-serif' transform="translate(132.8 421.9) scale(0.9 1)">0.4</text>
<line x1="29.3" y1="322.4" x2="31.9" y2="322.4" stroke="#222" stroke-width="1"/>
<text x="0" y="0" font-size="8.8" font-weight="normal" text-anchor="end" fill="#141414" font-family='"Liberation Sans", sans-serif' transform="translate(28.7 325.52) scale(0.9 1)">0.8</text>
<line x1="29.3" y1="367.35" x2="31.9" y2="367.35" stroke="#222" stroke-width="1"/>
<text x="0" y="0" font-size="8.8" font-weight="normal" text-anchor="end" fill="#141414" font-family='"Liberation Sans", sans-serif' transform="translate(28.7 370.47) scale(0.9 1)">0.3</text>
<line x1="29.3" y1="412.3" x2="31.9" y2="412.3" stroke="#222" stroke-width="1"/>
<text x="0" y="0" font-size="8.8" font-weight="normal" text-anchor="end" fill="#141414" font-family='"Liberation Sans", sans-serif' transform="translate(28.7 415.42) scale(0.9 1)">-0.2</text>
<text x="82.9" y="321" font-size="10.2" font-weight="bold" text-anchor="middle" fill="#000" font-family='"Liberation Sans", sans-serif' stroke="#000" stroke-width="0.3">Mouse</text>
<text x="83.1" y="433.4" font-size="9.7" font-weight="bold" text-anchor="middle" fill="#000" font-family='"Liberation Sans", sans-serif' textLength="56.8" lengthAdjust="spacingAndGlyphs" stroke="#000" stroke-width="0.3">PC1 (23.09%)</text>
<text x="15.1" y="371" font-size="9.8" font-weight="bold" text-anchor="middle" fill="#000" font-family='"Liberation Sans", sans-serif' textLength="56.2" lengthAdjust="spacingAndGlyphs" transform="rotate(-90 15.1 371)" stroke="#000" stroke-width="0.3">PC2 (15.21%)</text>
<rect x="167.2" y="322.2" width="100.5" height="90.1" fill="none" stroke="#222" stroke-width="1.35"/>
<line x1="167.2" y1="412.3" x2="167.2" y2="414.9" stroke="#222" stroke-width="1"/>
<text x="0" y="0" font-size="8.8" font-weight="normal" text-anchor="middle" fill="#141414" font-family='"Liberation Sans", sans-serif' transform="translate(167.2 421.9) scale(0.9 1)">-0.2</text>
<line x1="207.4" y1="412.3" x2="207.4" y2="414.9" stroke="#222" stroke-width="1"/>
<text x="0" y="0" font-size="8.8" font-weight="normal" text-anchor="middle" fill="#141414" font-family='"Liberation Sans", sans-serif' transform="translate(207.4 421.9) scale(0.9 1)">0.2</text>
<line x1="247.6" y1="412.3" x2="247.6" y2="414.9" stroke="#222" stroke-width="1"/>
<text x="0" y="0" font-size="8.8" font-weight="normal" text-anchor="middle" fill="#141414" font-family='"Liberation Sans", sans-serif' transform="translate(247.6 421.9) scale(0.9 1)">0.6</text>
<line x1="164.6" y1="322.2" x2="167.2" y2="322.2" stroke="#222" stroke-width="1"/>
<text x="0" y="0" font-size="8.8" font-weight="normal" text-anchor="end" fill="#141414" font-family='"Liberation Sans", sans-serif' transform="translate(164 325.32) scale(0.9 1)">0.3</text>
<line x1="164.6" y1="367.25" x2="167.2" y2="367.25" stroke="#222" stroke-width="1"/>
<text x="0" y="0" font-size="8.8" font-weight="normal" text-anchor="end" fill="#141414" font-family='"Liberation Sans", sans-serif' transform="translate(164 370.37) scale(0.9 1)">0</text>
<line x1="164.6" y1="412.3" x2="167.2" y2="412.3" stroke="#222" stroke-width="1"/>
<text x="0" y="0" font-size="8.8" font-weight="normal" text-anchor="end" fill="#141414" font-family='"Liberation Sans", sans-serif' transform="translate(164 415.42) scale(0.9 1)">-0.3</text>
<text x="214.5" y="321" font-size="10.2" font-weight="bold" text-anchor="middle" fill="#000" font-family='"Liberation Sans", sans-serif' stroke="#000" stroke-width="0.3">Fly</text>
<text x="214.4" y="433.4" font-size="9.7" font-weight="bold" text-anchor="middle" fill="#000" font-family='"Liberation Sans", sans-serif' textLength="56.8" lengthAdjust="spacingAndGlyphs" stroke="#000" stroke-width="0.3">PC1 (17.75%)</text>
<text x="154.8" y="371" font-size="9.8" font-weight="bold" text-anchor="middle" fill="#000" font-family='"Liberation Sans", sans-serif' textLength="56.2" lengthAdjust="spacingAndGlyphs" transform="rotate(-90 154.8 371)" stroke="#000" stroke-width="0.3">PC2 (12.78%)</text>
<rect x="32.2" y="455.3" width="100.6" height="90" fill="none" stroke="#222" stroke-width="1.35"/>
<line x1="32.2" y1="545.3" x2="32.2" y2="547.9" stroke="#222" stroke-width="1"/>
<text x="0" y="0" font-size="8.8" font-weight="normal" text-anchor="middle" fill="#141414" font-family='"Liberation Sans", sans-serif' transform="translate(32.2 554.9) scale(0.9 1)">-0.2</text>
<line x1="82.5" y1="545.3" x2="82.5" y2="547.9" stroke="#222" stroke-width="1"/>
<text x="0" y="0" font-size="8.8" font-weight="normal" text-anchor="middle" fill="#141414" font-family='"Liberation Sans", sans-serif' transform="translate(82.5 554.9) scale(0.9 1)">0.2</text>
<line x1="132.8" y1="545.3" x2="132.8" y2="547.9" stroke="#222" stroke-width="1"/>
<text x="0" y="0" font-size="8.8" font-weight="normal" text-anchor="middle" fill="#141414" font-family='"Liberation Sans", sans-serif' transform="translate(132.8 554.9) scale(0.9 1)">0.6</text>
<line x1="29.6" y1="455.3" x2="32.2" y2="455.3" stroke="#222" stroke-width="1"/>
<text x="0" y="0" font-size="8.8" font-weight="normal" text-anchor="end" fill="#141414" font-family='"Liberation Sans", sans-serif' transform="translate(29 458.42) scale(0.9 1)">0.8</text>
<line x1="29.6" y1="500.3" x2="32.2" y2="500.3" stroke="#222" stroke-width="1"/>
<text x="0" y="0" font-size="8.8" font-weight="normal" text-anchor="end" fill="#141414" font-family='"Liberation Sans", sans-serif' transform="translate(29 503.42) scale(0.9 1)">0.3</text>
<line x1="29.6" y1="545.3" x2="32.2" y2="545.3" stroke="#222" stroke-width="1"/>
<text x="0" y="0" font-size="8.8" font-weight="normal" text-anchor="end" fill="#141414" font-family='"Liberation Sans", sans-serif' transform="translate(29 548.42) scale(0.9 1)">-0.2</text>
<text x="82.8" y="452.7" font-size="10.2" font-weight="bold" text-anchor="middle" fill="#000" font-family='"Liberation Sans", sans-serif' stroke="#000" stroke-width="0.3">Nematode</text>
<text x="83.1" y="566.4" font-size="9.7" font-weight="bold" text-anchor="middle" fill="#000" font-family='"Liberation Sans", sans-serif' textLength="56.8" lengthAdjust="spacingAndGlyphs" stroke="#000" stroke-width="0.3">PC1 (22.88%)</text>
<text x="15.1" y="501" font-size="9.8" font-weight="bold" text-anchor="middle" fill="#000" font-family='"Liberation Sans", sans-serif' textLength="56.2" lengthAdjust="spacingAndGlyphs" transform="rotate(-90 15.1 501)" stroke="#000" stroke-width="0.3">PC2 (18.87%)</text>
<rect x="167.2" y="454.3" width="100.9" height="90.3" fill="none" stroke="#222" stroke-width="1.35"/>
<line x1="167.2" y1="544.6" x2="167.2" y2="547.2" stroke="#222" stroke-width="1"/>
<text x="0" y="0" font-size="8.8" font-weight="normal" text-anchor="middle" fill="#141414" font-family='"Liberation Sans", sans-serif' transform="translate(167.2 554.2) scale(0.9 1)">-0.2</text>
<line x1="217.65" y1="544.6" x2="217.65" y2="547.2" stroke="#222" stroke-width="1"/>
<text x="0" y="0" font-size="8.8" font-weight="normal" text-anchor="middle" fill="#141414" font-family='"Liberation Sans", sans-serif' transform="translate(217.65 554.2) scale(0.9 1)">0.2</text>
<line x1="268.1" y1="544.6" x2="268.1" y2="547.2" stroke="#222" stroke-width="1"/>
<text x="0" y="0" font-size="8.8" font-weight="normal" text-anchor="middle" fill="#141414" font-family='"Liberation Sans", sans-serif' transform="translate(268.1 554.2) scale(0.9 1)">0.6</text>
<line x1="164.6" y1="467.2" x2="167.2" y2="467.2" stroke="#222" stroke-width="1"/>
<text x="0" y="0" font-size="8.8" font-weight="normal" text-anchor="end" fill="#141414" font-family='"Liberation Sans", sans-serif' transform="translate(164 470.32) scale(0.9 1)">0.3</text>
<line x1="164.6" y1="505.9" x2="167.2" y2="505.9" stroke="#222" stroke-width="1"/>
<text x="0" y="0" font-size="8.8" font-weight="normal" text-anchor="end" fill="#141414" font-family='"Liberation Sans", sans-serif' transform="translate(164 509.02) scale(0.9 1)">0</text>
<line x1="164.6" y1="544.6" x2="167.2" y2="544.6" stroke="#222" stroke-width="1"/>
<text x="0" y="0" font-size="8.8" font-weight="normal" text-anchor="end" fill="#141414" font-family='"Liberation Sans", sans-serif' transform="translate(164 547.72) scale(0.9 1)">-0.3</text>
<text x="214.6" y="452.4" font-size="10.2" font-weight="bold" text-anchor="middle" fill="#000" font-family='"Liberation Sans", sans-serif' stroke="#000" stroke-width="0.3">Plant</text>
<text x="214.4" y="565.7" font-size="9.7" font-weight="bold" text-anchor="middle" fill="#000" font-family='"Liberation Sans", sans-serif' textLength="56.8" lengthAdjust="spacingAndGlyphs" stroke="#000" stroke-width="0.3">PC1 (23.03%)</text>
<text x="154.8" y="501" font-size="9.8" font-weight="bold" text-anchor="middle" fill="#000" font-family='"Liberation Sans", sans-serif' textLength="56.2" lengthAdjust="spacingAndGlyphs" transform="rotate(-90 154.8 501)" stroke="#000" stroke-width="0.3">PC2 (12.72%)</text>
<rect x="32.2" y="586.3" width="100.6" height="90" fill="none" stroke="#222" stroke-width="1.35"/>
<line x1="32.2" y1="676.3" x2="32.2" y2="678.9" stroke="#222" stroke-width="1"/>
<text x="0" y="0" font-size="8.8" font-weight="normal" text-anchor="middle" fill="#141414" font-family='"Liberation Sans", sans-serif' transform="translate(32.2 685.9) scale(0.9 1)">-0.2</text>
<line x1="99.27" y1="676.3" x2="99.27" y2="678.9" stroke="#222" stroke-width="1"/>
<text x="0" y="0" font-size="8.8" font-weight="normal" text-anchor="middle" fill="#141414" font-family='"Liberation Sans", sans-serif' transform="translate(99.27 685.9) scale(0.9 1)">0.2</text>
<line x1="29.6" y1="586.3" x2="32.2" y2="586.3" stroke="#222" stroke-width="1"/>
<text x="0" y="0" font-size="8.8" font-weight="normal" text-anchor="end" fill="#141414" font-family='"Liberation Sans", sans-serif' transform="translate(29 589.42) scale(0.9 1)">0.6</text>
<line x1="29.6" y1="631.3" x2="32.2" y2="631.3" stroke="#222" stroke-width="1"/>
<text x="0" y="0" font-size="8.8" font-weight="normal" text-anchor="end" fill="#141414" font-family='"Liberation Sans", sans-serif' transform="translate(29 634.42) scale(0.9 1)">0.2</text>
<line x1="29.6" y1="676.3" x2="32.2" y2="676.3" stroke="#222" stroke-width="1"/>
<text x="0" y="0" font-size="8.8" font-weight="normal" text-anchor="end" fill="#141414" font-family='"Liberation Sans", sans-serif' transform="translate(29 679.42) scale(0.9 1)">-0.2</text>
<text x="82.9" y="585.3" font-size="10.2" font-weight="bold" text-anchor="middle" fill="#000" font-family='"Liberation Sans", sans-serif' stroke="#000" stroke-width="0.3">Yeast</text>
<text x="83.1" y="697.4" font-size="9.7" font-weight="bold" text-anchor="middle" fill="#000" font-family='"Liberation Sans", sans-serif' textLength="56.8" lengthAdjust="spacingAndGlyphs" stroke="#000" stroke-width="0.3">PC1 (23.22%)</text>
<text x="15.1" y="631.8" font-size="9.8" font-weight="bold" text-anchor="middle" fill="#000" font-family='"Liberation Sans", sans-serif' textLength="56.2" lengthAdjust="spacingAndGlyphs" transform="rotate(-90 15.1 631.8)" stroke="#000" stroke-width="0.3">PC2 (13.07%)</text>
<rect x="167.2" y="586" width="100.5" height="90.3" fill="none" stroke="#222" stroke-width="1.35"/>
<line x1="167.2" y1="676.3" x2="167.2" y2="678.9" stroke="#222" stroke-width="1"/>
<text x="0" y="0" font-size="8.8" font-weight="normal" text-anchor="middle" fill="#141414" font-family='"Liberation Sans", sans-serif' transform="translate(167.2 685.9) scale(0.9 1)">-0.2</text>
<line x1="217.45" y1="676.3" x2="217.45" y2="678.9" stroke="#222" stroke-width="1"/>
<text x="0" y="0" font-size="8.8" font-weight="normal" text-anchor="middle" fill="#141414" font-family='"Liberation Sans", sans-serif' transform="translate(217.45 685.9) scale(0.9 1)">0.2</text>
<line x1="267.7" y1="676.3" x2="267.7" y2="678.9" stroke="#222" stroke-width="1"/>
<text x="0" y="0" font-size="8.8" font-weight="normal" text-anchor="middle" fill="#141414" font-family='"Liberation Sans", sans-serif' transform="translate(267.7 685.9) scale(0.9 1)">0.6</text>
<line x1="164.6" y1="586" x2="167.2" y2="586" stroke="#222" stroke-width="1"/>
<text x="0" y="0" font-size="8.8" font-weight="normal" text-anchor="end" fill="#141414" font-family='"Liberation Sans", sans-serif' transform="translate(164 589.12) scale(0.9 1)">0.3</text>
<line x1="164.6" y1="631.15" x2="167.2" y2="631.15" stroke="#222" stroke-width="1"/>
<text x="0" y="0" font-size="8.8" font-weight="normal" text-anchor="end" fill="#141414" font-family='"Liberation Sans", sans-serif' transform="translate(164 634.27) scale(0.9 1)">0</text>
<line x1="164.6" y1="676.3" x2="167.2" y2="676.3" stroke="#222" stroke-width="1"/>
<text x="0" y="0" font-size="8.8" font-weight="normal" text-anchor="end" fill="#141414" font-family='"Liberation Sans", sans-serif' transform="translate(164 679.42) scale(0.9 1)">-0.3</text>
<text x="214.6" y="585" font-size="10.2" font-weight="bold" text-anchor="middle" fill="#000" font-family='"Liberation Sans", sans-serif' stroke="#000" stroke-width="0.3">Bacteria</text>
<text x="214.4" y="697.4" font-size="9.7" font-weight="bold" text-anchor="middle" fill="#000" font-family='"Liberation Sans", sans-serif' textLength="56.8" lengthAdjust="spacingAndGlyphs" stroke="#000" stroke-width="0.3">PC1 (17.35%)</text>
<text x="154.8" y="631.8" font-size="9.8" font-weight="bold" text-anchor="middle" fill="#000" font-family='"Liberation Sans", sans-serif' textLength="56.2" lengthAdjust="spacingAndGlyphs" transform="rotate(-90 154.8 631.8)" stroke="#000" stroke-width="0.3">PC2 (11.32%)</text>
<text x="271" y="340" font-size="10.1" font-weight="bold" text-anchor="start" fill="#000" font-family='"Liberation Sans", sans-serif' textLength="38" lengthAdjust="spacingAndGlyphs" stroke="#000" stroke-width="0.3">Position</text>
<circle cx="273.9" cy="354.3" r="2.1" fill="none" stroke="#ff0000" stroke-width="1.3"/>
<text x="279.3" y="357.86" font-size="9.9" font-weight="bold" text-anchor="start" fill="#000" font-family='"Liberation Sans", sans-serif' textLength="7.9" lengthAdjust="spacingAndGlyphs" stroke="#000" stroke-width="0.3">-1</text>
<circle cx="273.9" cy="369.3" r="2.1" fill="#000"/>
<text x="279.3" y="372.86" font-size="9.9" font-weight="bold" text-anchor="start" fill="#000" font-family='"Liberation Sans", sans-serif' textLength="34" lengthAdjust="spacingAndGlyphs" stroke="#000" stroke-width="0.3">-2 ~ -10</text>
<circle cx="273.9" cy="382.9" r="2.1" fill="#808080"/>
<text x="279.3" y="386.46" font-size="9.9" font-weight="bold" text-anchor="start" fill="#000" font-family='"Liberation Sans", sans-serif' textLength="39.3" lengthAdjust="spacingAndGlyphs" stroke="#000" stroke-width="0.3">-11 ~ -50</text>
<circle cx="273.9" cy="397.1" r="2.1" fill="#a6a6a6"/>
<text x="279.3" y="400.66" font-size="9.9" font-weight="bold" text-anchor="start" fill="#000" font-family='"Liberation Sans", sans-serif' textLength="44.5" lengthAdjust="spacingAndGlyphs" stroke="#000" stroke-width="0.3">-51 ~ -100</text>
<circle cx="273.9" cy="410.7" r="2.1" fill="#d6d6d6"/>
<text x="279.3" y="414.26" font-size="9.9" font-weight="bold" text-anchor="start" fill="#000" font-family='"Liberation Sans", sans-serif' textLength="49.8" lengthAdjust="spacingAndGlyphs" stroke="#000" stroke-width="0.3">-101 ~ -150</text>
<circle cx="56.7" cy="84.4" r="2" fill="#d4d4d4"/>
<circle cx="61.1" cy="87" r="2" fill="#d4d4d4"/>
<circle cx="43.3" cy="93.7" r="2" fill="#d4d4d4"/>
<circle cx="43.9" cy="98.7" r="2" fill="#d4d4d4"/>
<circle cx="46.5" cy="102.2" r="2" fill="#d4d4d4"/>
<circle cx="48.8" cy="103.9" r="2" fill="#d4d4d4"/>
<circle cx="52.6" cy="91.1" r="2" fill="#d4d4d4"/>
<circle cx="68.1" cy="92.8" r="2" fill="#d4d4d4"/>
<circle cx="60.5" cy="89.3" r="2" fill="#d4d4d4"/>
<circle cx="45" cy="100.5" r="2" fill="#d4d4d4"/>
<circle cx="47.5" cy="101" r="2" fill="#d4d4d4"/>
<circle cx="50" cy="91.5" r="2" fill="#d4d4d4"/>
<circle cx="50.61" cy="93.02" r="2" fill="#a4a4a4"/>
<circle cx="52.4" cy="92.33" r="2" fill="#a4a4a4"/>
<circle cx="55.52" cy="92.85" r="2" fill="#a4a4a4"/>
<circle cx="57.89" cy="92.51" r="2" fill="#a4a4a4"/>
<circle cx="60.33" cy="92.75" r="2" fill="#a4a4a4"/>
<circle cx="49.06" cy="94.56" r="2" fill="#a4a4a4"/>
<circle cx="51.44" cy="94.74" r="2" fill="#a4a4a4"/>
<circle cx="54.18" cy="95.23" r="2" fill="#a4a4a4"/>
<circle cx="56.86" cy="94.87" r="2" fill="#a4a4a4"/>
<circle cx="58.96" cy="94.64" r="2" fill="#a4a4a4"/>
<circle cx="61.13" cy="94.45" r="2" fill="#a4a4a4"/>
<circle cx="63.97" cy="94.68" r="2" fill="#a4a4a4"/>
<circle cx="66.4" cy="95.14" r="2" fill="#a4a4a4"/>
<circle cx="47.77" cy="97.04" r="2" fill="#a4a4a4"/>
<circle cx="50.04" cy="96.61" r="2" fill="#a4a4a4"/>
<circle cx="52.61" cy="96.7" r="2" fill="#a4a4a4"/>
<circle cx="55.26" cy="97.39" r="2" fill="#a4a4a4"/>
<circle cx="57.89" cy="96.74" r="2" fill="#a4a4a4"/>
<circle cx="60.56" cy="97.23" r="2" fill="#a4a4a4"/>
<circle cx="62.94" cy="97.32" r="2" fill="#a4a4a4"/>
<circle cx="65.46" cy="97.23" r="2" fill="#a4a4a4"/>
<circle cx="67.63" cy="97.38" r="2" fill="#a4a4a4"/>
<circle cx="49.37" cy="98.89" r="2" fill="#a4a4a4"/>
<circle cx="51.7" cy="99.33" r="2" fill="#a4a4a4"/>
<circle cx="53.97" cy="99.18" r="2" fill="#a4a4a4"/>
<circle cx="56.49" cy="99.5" r="2" fill="#a4a4a4"/>
<circle cx="59" cy="99.43" r="2" fill="#a4a4a4"/>
<circle cx="61.38" cy="99.47" r="2" fill="#a4a4a4"/>
<circle cx="64.32" cy="99.13" r="2" fill="#a4a4a4"/>
<circle cx="66.55" cy="99.5" r="2" fill="#a4a4a4"/>
<circle cx="50.43" cy="101.31" r="2" fill="#a4a4a4"/>
<circle cx="52.53" cy="101.18" r="2" fill="#a4a4a4"/>
<circle cx="55.41" cy="101.06" r="2" fill="#a4a4a4"/>
<circle cx="58.08" cy="101.14" r="2" fill="#a4a4a4"/>
<circle cx="60.58" cy="101.17" r="2" fill="#a4a4a4"/>
<circle cx="63.12" cy="101.49" r="2" fill="#a4a4a4"/>
<circle cx="65.25" cy="101.34" r="2" fill="#a4a4a4"/>
<circle cx="51.62" cy="103.56" r="2" fill="#a4a4a4"/>
<circle cx="53.85" cy="103.26" r="2" fill="#a4a4a4"/>
<circle cx="56.51" cy="103.84" r="2" fill="#a4a4a4"/>
<circle cx="59.1" cy="103.15" r="2" fill="#a4a4a4"/>
<circle cx="61.76" cy="103.67" r="2" fill="#a4a4a4"/>
<circle cx="53.08" cy="105.41" r="2" fill="#a4a4a4"/>
<circle cx="55.45" cy="105.3" r="2" fill="#a4a4a4"/>
<circle cx="57.87" cy="105.47" r="2" fill="#a4a4a4"/>
<circle cx="60.03" cy="105.96" r="2" fill="#a4a4a4"/>
<circle cx="66.1" cy="90.2" r="2" fill="#a4a4a4"/>
<circle cx="67.1" cy="90.2" r="2" fill="#a4a4a4"/>
<circle cx="64.5" cy="94" r="2" fill="#a4a4a4"/>
<circle cx="58" cy="105.5" r="2" fill="#a4a4a4"/>
<circle cx="66.59" cy="101.61" r="2" fill="#808080"/>
<circle cx="69.1" cy="101.66" r="2" fill="#808080"/>
<circle cx="71.7" cy="101.23" r="2" fill="#808080"/>
<circle cx="62.81" cy="103.93" r="2" fill="#808080"/>
<circle cx="65.41" cy="103.44" r="2" fill="#808080"/>
<circle cx="68.4" cy="103.63" r="2" fill="#808080"/>
<circle cx="70.67" cy="103.64" r="2" fill="#808080"/>
<circle cx="72.91" cy="103.38" r="2" fill="#808080"/>
<circle cx="75.31" cy="103.95" r="2" fill="#808080"/>
<circle cx="62.02" cy="105.93" r="2" fill="#808080"/>
<circle cx="64.54" cy="105.39" r="2" fill="#808080"/>
<circle cx="67.01" cy="105.81" r="2" fill="#808080"/>
<circle cx="69.04" cy="105.36" r="2" fill="#808080"/>
<circle cx="71.89" cy="105.71" r="2" fill="#808080"/>
<circle cx="74.18" cy="106.04" r="2" fill="#808080"/>
<circle cx="76.57" cy="106.07" r="2" fill="#808080"/>
<circle cx="78.72" cy="105.98" r="2" fill="#808080"/>
<circle cx="63.16" cy="108.16" r="2" fill="#808080"/>
<circle cx="65.9" cy="107.49" r="2" fill="#808080"/>
<circle cx="67.71" cy="107.59" r="2" fill="#808080"/>
<circle cx="70.77" cy="107.76" r="2" fill="#808080"/>
<circle cx="72.9" cy="107.65" r="2" fill="#808080"/>
<circle cx="75.21" cy="107.72" r="2" fill="#808080"/>
<circle cx="77.48" cy="107.88" r="2" fill="#808080"/>
<circle cx="62.07" cy="110.22" r="2" fill="#808080"/>
<circle cx="64.55" cy="110.24" r="2" fill="#808080"/>
<circle cx="67.09" cy="110.28" r="2" fill="#808080"/>
<circle cx="69.34" cy="109.62" r="2" fill="#808080"/>
<circle cx="71.89" cy="110.26" r="2" fill="#808080"/>
<circle cx="74.32" cy="109.95" r="2" fill="#808080"/>
<circle cx="76.57" cy="109.66" r="2" fill="#808080"/>
<circle cx="79.07" cy="109.95" r="2" fill="#808080"/>
<circle cx="55.9" cy="87.9" r="2" fill="#808080"/>
<circle cx="54.1" cy="108.6" r="2" fill="#808080"/>
<circle cx="73.4" cy="97.6" r="2" fill="#808080"/>
<circle cx="77.3" cy="99" r="2" fill="#808080"/>
<circle cx="83" cy="97.6" r="2" fill="#808080"/>
<circle cx="85" cy="99.7" r="2" fill="#808080"/>
<circle cx="84.2" cy="102.6" r="2" fill="#808080"/>
<circle cx="81.3" cy="105.5" r="2" fill="#808080"/>
<circle cx="89.4" cy="105.2" r="2" fill="#808080"/>
<circle cx="95.2" cy="108.1" r="2" fill="#808080"/>
<circle cx="93" cy="111.8" r="2" fill="#808080"/>
<circle cx="99.6" cy="99" r="2" fill="#808080"/>
<circle cx="66.4" cy="113.8" r="2" fill="#808080"/>
<circle cx="74.3" cy="113" r="2" fill="#808080"/>
<circle cx="75.1" cy="116.5" r="2" fill="#808080"/>
<circle cx="78.7" cy="113.4" r="2" fill="#808080"/>
<circle cx="66.7" cy="113.9" r="2" fill="#808080"/>
<circle cx="68.9" cy="99.7" r="2" fill="#808080"/>
<circle cx="86.5" cy="101.5" r="2" fill="#808080"/>
<circle cx="91.5" cy="106.8" r="2" fill="#808080"/>
<circle cx="109.1" cy="89.3" r="2.05" fill="#000000"/>
<circle cx="112" cy="91.8" r="2.05" fill="#000000"/>
<circle cx="97.8" cy="96.4" r="2.05" fill="#000000"/>
<circle cx="101" cy="97.4" r="2.05" fill="#000000"/>
<circle cx="96.7" cy="102.6" r="2.05" fill="#000000"/>
<circle cx="93.6" cy="104.5" r="2.05" fill="#000000"/>
<circle cx="104.7" cy="103.7" r="2.05" fill="#000000"/>
<circle cx="83.5" cy="109.9" r="2.05" fill="#000000"/>
<circle cx="120.7" cy="29.4" r="2.2" fill="none" stroke="#ff0000" stroke-width="1.4"/>
<circle cx="44.48" cy="387.49" r="2.05" fill="#d4d4d4"/>
<circle cx="48.67" cy="387.35" r="2.05" fill="#d4d4d4"/>
<circle cx="52.06" cy="387.88" r="2.05" fill="#d4d4d4"/>
<circle cx="45.8" cy="391.25" r="2.05" fill="#d4d4d4"/>
<circle cx="49.37" cy="391.12" r="2.05" fill="#d4d4d4"/>
<circle cx="53.03" cy="390.5" r="2.05" fill="#d4d4d4"/>
<circle cx="44.66" cy="394.94" r="2.05" fill="#d4d4d4"/>
<circle cx="47.72" cy="393.85" r="2.05" fill="#d4d4d4"/>
<circle cx="52.23" cy="395.16" r="2.05" fill="#d4d4d4"/>
<circle cx="46.74" cy="397.28" r="2.05" fill="#d4d4d4"/>
<circle cx="46" cy="382.9" r="2.05" fill="#d4d4d4"/>
<circle cx="54" cy="383.6" r="2.05" fill="#d4d4d4"/>
<circle cx="49.6" cy="387.3" r="2.05" fill="#d4d4d4"/>
<circle cx="51.8" cy="389.5" r="2.05" fill="#d4d4d4"/>
<circle cx="43" cy="393.5" r="2.05" fill="#d4d4d4"/>
<circle cx="45.6" cy="397.9" r="2.05" fill="#d4d4d4"/>
<circle cx="53.2" cy="391" r="2.05" fill="#d4d4d4"/>
<circle cx="47.5" cy="390.5" r="2.05" fill="#d4d4d4"/>
<circle cx="45" cy="395.5" r="2.05" fill="#d4d4d4"/>
<circle cx="54.91" cy="388.95" r="2.05" fill="#a4a4a4"/>
<circle cx="58.33" cy="388.49" r="2.05" fill="#a4a4a4"/>
<circle cx="61.85" cy="387.66" r="2.05" fill="#a4a4a4"/>
<circle cx="67.1" cy="387.59" r="2.05" fill="#a4a4a4"/>
<circle cx="70.06" cy="388.04" r="2.05" fill="#a4a4a4"/>
<circle cx="73.32" cy="388.11" r="2.05" fill="#a4a4a4"/>
<circle cx="53.05" cy="391.83" r="2.05" fill="#a4a4a4"/>
<circle cx="56.46" cy="390.76" r="2.05" fill="#a4a4a4"/>
<circle cx="59.94" cy="390.82" r="2.05" fill="#a4a4a4"/>
<circle cx="64.23" cy="391.96" r="2.05" fill="#a4a4a4"/>
<circle cx="67.78" cy="390.54" r="2.05" fill="#a4a4a4"/>
<circle cx="71.17" cy="392.12" r="2.05" fill="#a4a4a4"/>
<circle cx="51.01" cy="394.57" r="2.05" fill="#a4a4a4"/>
<circle cx="55.18" cy="394.64" r="2.05" fill="#a4a4a4"/>
<circle cx="58.71" cy="394.7" r="2.05" fill="#a4a4a4"/>
<circle cx="62.6" cy="394.62" r="2.05" fill="#a4a4a4"/>
<circle cx="66.92" cy="394.5" r="2.05" fill="#a4a4a4"/>
<circle cx="52.96" cy="396.69" r="2.05" fill="#a4a4a4"/>
<circle cx="58" cy="397.45" r="2.05" fill="#a4a4a4"/>
<circle cx="60.25" cy="398.27" r="2.05" fill="#a4a4a4"/>
<circle cx="56.9" cy="386.9" r="2.05" fill="#a4a4a4"/>
<circle cx="60.5" cy="388" r="2.05" fill="#a4a4a4"/>
<circle cx="67.1" cy="383.6" r="2.05" fill="#a4a4a4"/>
<circle cx="65.7" cy="388" r="2.05" fill="#a4a4a4"/>
<circle cx="74.4" cy="385.8" r="2.05" fill="#a4a4a4"/>
<circle cx="71.5" cy="388" r="2.05" fill="#a4a4a4"/>
<circle cx="51.8" cy="393.9" r="2.05" fill="#a4a4a4"/>
<circle cx="56.9" cy="394.6" r="2.05" fill="#a4a4a4"/>
<circle cx="59.8" cy="393.9" r="2.05" fill="#a4a4a4"/>
<circle cx="56.2" cy="398.2" r="2.05" fill="#a4a4a4"/>
<circle cx="59.1" cy="399" r="2.05" fill="#a4a4a4"/>
<circle cx="64.2" cy="392.4" r="2.05" fill="#a4a4a4"/>
<circle cx="67.1" cy="394.6" r="2.05" fill="#a4a4a4"/>
<circle cx="62.7" cy="395.3" r="2.05" fill="#a4a4a4"/>
<circle cx="58.5" cy="390.5" r="2.05" fill="#a4a4a4"/>
<circle cx="63" cy="389.5" r="2.05" fill="#a4a4a4"/>
<circle cx="54" cy="396.5" r="2.05" fill="#a4a4a4"/>
<circle cx="61" cy="397" r="2.05" fill="#a4a4a4"/>
<circle cx="68.5" cy="390.5" r="2.05" fill="#a4a4a4"/>
<circle cx="75.7" cy="386" r="2.05" fill="#a4a4a4"/>
<circle cx="53" cy="390" r="2.05" fill="#a4a4a4"/>
<circle cx="49" cy="395" r="2.05" fill="#a4a4a4"/>
<circle cx="74.53" cy="394.89" r="2.05" fill="#808080"/>
<circle cx="77.55" cy="395.78" r="2.05" fill="#808080"/>
<circle cx="64.71" cy="398.24" r="2.05" fill="#808080"/>
<circle cx="69.92" cy="397.48" r="2.05" fill="#808080"/>
<circle cx="72.9" cy="398.45" r="2.05" fill="#808080"/>
<circle cx="75.57" cy="398.02" r="2.05" fill="#808080"/>
<circle cx="80.37" cy="398.15" r="2.05" fill="#808080"/>
<circle cx="64.21" cy="400.74" r="2.05" fill="#808080"/>
<circle cx="66.93" cy="400.65" r="2.05" fill="#808080"/>
<circle cx="71.01" cy="402.12" r="2.05" fill="#808080"/>
<circle cx="74.76" cy="401.85" r="2.05" fill="#808080"/>
<circle cx="77.99" cy="401.8" r="2.05" fill="#808080"/>
<circle cx="64.88" cy="404.09" r="2.05" fill="#808080"/>
<circle cx="69.51" cy="404.88" r="2.05" fill="#808080"/>
<circle cx="72.66" cy="403.73" r="2.05" fill="#808080"/>
<circle cx="75.98" cy="403.95" r="2.05" fill="#808080"/>
<circle cx="79.61" cy="405.03" r="2.05" fill="#808080"/>
<circle cx="74.06" cy="408.28" r="2.05" fill="#808080"/>
<circle cx="45.6" cy="389.1" r="2.05" fill="#808080"/>
<circle cx="50.3" cy="400.1" r="2.05" fill="#808080"/>
<circle cx="61.6" cy="391" r="2.05" fill="#808080"/>
<circle cx="69.7" cy="392.4" r="2.05" fill="#808080"/>
<circle cx="58" cy="405.2" r="2.05" fill="#808080"/>
<circle cx="64.2" cy="399" r="2.05" fill="#808080"/>
<circle cx="65.7" cy="402.6" r="2.05" fill="#808080"/>
<circle cx="68.6" cy="403.4" r="2.05" fill="#808080"/>
<circle cx="65.7" cy="406.3" r="2.05" fill="#808080"/>
<circle cx="71.5" cy="404.8" r="2.05" fill="#808080"/>
<circle cx="73.7" cy="399.7" r="2.05" fill="#808080"/>
<circle cx="75.9" cy="398.2" r="2.05" fill="#808080"/>
<circle cx="78.8" cy="392.4" r="2.05" fill="#808080"/>
<circle cx="79.5" cy="396.8" r="2.05" fill="#808080"/>
<circle cx="80.3" cy="400.4" r="2.05" fill="#808080"/>
<circle cx="78.8" cy="405.5" r="2.05" fill="#808080"/>
<circle cx="77.3" cy="409.9" r="2.05" fill="#808080"/>
<circle cx="82.8" cy="389.5" r="2.05" fill="#808080"/>
<circle cx="84.6" cy="401.9" r="2.05" fill="#808080"/>
<circle cx="75.9" cy="403.4" r="2.05" fill="#808080"/>
<circle cx="83" cy="389.6" r="2.05" fill="#808080"/>
<circle cx="87.8" cy="393.6" r="2.05" fill="#808080"/>
<circle cx="79.4" cy="391.8" r="2.05" fill="#808080"/>
<circle cx="85.2" cy="402.7" r="2.05" fill="#808080"/>
<circle cx="88.1" cy="402.4" r="2.05" fill="#808080"/>
<circle cx="79.4" cy="406.4" r="2.05" fill="#808080"/>
<circle cx="77.2" cy="410.4" r="2.05" fill="#808080"/>
<circle cx="78.6" cy="399.1" r="2.05" fill="#808080"/>
<circle cx="97.6" cy="398.4" r="2.05" fill="#808080"/>
<circle cx="73" cy="402" r="2.05" fill="#808080"/>
<circle cx="76.5" cy="401" r="2.05" fill="#808080"/>
<circle cx="70.5" cy="401.5" r="2.05" fill="#808080"/>
<circle cx="67" cy="400.5" r="2.05" fill="#808080"/>
<circle cx="62.5" cy="401" r="2.05" fill="#808080"/>
<circle cx="74.5" cy="407" r="2.05" fill="#808080"/>
<circle cx="73.7" cy="396.1" r="2.1" fill="#000000"/>
<circle cx="93.2" cy="390.7" r="2.1" fill="#000000"/>
<circle cx="98.7" cy="391.2" r="2.1" fill="#000000"/>
<circle cx="101.9" cy="393.1" r="2.1" fill="#000000"/>
<circle cx="90.7" cy="396.5" r="2.1" fill="#000000"/>
<circle cx="93.2" cy="398.2" r="2.1" fill="#000000"/>
<circle cx="86.7" cy="398.7" r="2.1" fill="#000000"/>
<circle cx="99.8" cy="398" r="2.1" fill="#000000"/>
<circle cx="108.7" cy="397" r="2.1" fill="#000000"/>
<circle cx="112" cy="332.2" r="2.2" fill="none" stroke="#ff0000" stroke-width="1.4"/>
<circle cx="188.2" cy="338.8" r="2.05" fill="#d4d4d4"/>
<circle cx="189.8" cy="343" r="2.05" fill="#d4d4d4"/>
<circle cx="195.5" cy="344.6" r="2.05" fill="#d4d4d4"/>
<circle cx="177" cy="385.4" r="2.05" fill="#d4d4d4"/>
<circle cx="195.2" cy="375.7" r="2.05" fill="#d4d4d4"/>
<circle cx="190.4" cy="352.1" r="2.05" fill="#d4d4d4"/>
<circle cx="179.1" cy="348.9" r="2.05" fill="#d4d4d4"/>
<circle cx="181.91" cy="347.95" r="2.05" fill="#a4a4a4"/>
<circle cx="185.33" cy="347.49" r="2.05" fill="#a4a4a4"/>
<circle cx="179.85" cy="349.78" r="2.05" fill="#a4a4a4"/>
<circle cx="185.1" cy="349.71" r="2.05" fill="#a4a4a4"/>
<circle cx="188.06" cy="350.16" r="2.05" fill="#a4a4a4"/>
<circle cx="178.72" cy="353.34" r="2.05" fill="#a4a4a4"/>
<circle cx="181.85" cy="353.95" r="2.05" fill="#a4a4a4"/>
<circle cx="185.26" cy="352.87" r="2.05" fill="#a4a4a4"/>
<circle cx="188.74" cy="352.93" r="2.05" fill="#a4a4a4"/>
<circle cx="180.43" cy="357.19" r="2.05" fill="#a4a4a4"/>
<circle cx="183.98" cy="355.78" r="2.05" fill="#a4a4a4"/>
<circle cx="187.37" cy="357.36" r="2.05" fill="#a4a4a4"/>
<circle cx="190.61" cy="356.69" r="2.05" fill="#a4a4a4"/>
<circle cx="178.58" cy="359.88" r="2.05" fill="#a4a4a4"/>
<circle cx="182.11" cy="359.93" r="2.05" fill="#a4a4a4"/>
<circle cx="186" cy="359.86" r="2.05" fill="#a4a4a4"/>
<circle cx="190.32" cy="359.73" r="2.05" fill="#a4a4a4"/>
<circle cx="179.96" cy="361.92" r="2.05" fill="#a4a4a4"/>
<circle cx="185" cy="362.69" r="2.05" fill="#a4a4a4"/>
<circle cx="187.25" cy="363.51" r="2.05" fill="#a4a4a4"/>
<circle cx="191.54" cy="363.12" r="2.05" fill="#a4a4a4"/>
<circle cx="179.49" cy="365.44" r="2.05" fill="#a4a4a4"/>
<circle cx="182.14" cy="366.5" r="2.05" fill="#a4a4a4"/>
<circle cx="185.34" cy="366.3" r="2.05" fill="#a4a4a4"/>
<circle cx="188.88" cy="366.17" r="2.05" fill="#a4a4a4"/>
<circle cx="180.96" cy="369.75" r="2.05" fill="#a4a4a4"/>
<circle cx="184.82" cy="368.95" r="2.05" fill="#a4a4a4"/>
<circle cx="187.26" cy="368.31" r="2.05" fill="#a4a4a4"/>
<circle cx="182.45" cy="372.08" r="2.05" fill="#a4a4a4"/>
<circle cx="185.23" cy="372.78" r="2.05" fill="#a4a4a4"/>
<circle cx="185.5" cy="343.6" r="2.05" fill="#a4a4a4"/>
<circle cx="181.8" cy="347.9" r="2.05" fill="#a4a4a4"/>
<circle cx="188.2" cy="348.4" r="2.05" fill="#a4a4a4"/>
<circle cx="178.6" cy="352.1" r="2.05" fill="#a4a4a4"/>
<circle cx="178" cy="355.4" r="2.05" fill="#a4a4a4"/>
<circle cx="186.1" cy="355.4" r="2.05" fill="#a4a4a4"/>
<circle cx="190.4" cy="357.5" r="2.05" fill="#a4a4a4"/>
<circle cx="180.2" cy="360.2" r="2.05" fill="#a4a4a4"/>
<circle cx="186.1" cy="361.3" r="2.05" fill="#a4a4a4"/>
<circle cx="190.9" cy="360.7" r="2.05" fill="#a4a4a4"/>
<circle cx="178" cy="370.4" r="2.05" fill="#a4a4a4"/>
<circle cx="178.6" cy="377.9" r="2.05" fill="#a4a4a4"/>
<circle cx="183.9" cy="367.1" r="2.05" fill="#a4a4a4"/>
<circle cx="187.7" cy="367.1" r="2.05" fill="#a4a4a4"/>
<circle cx="191.4" cy="366.1" r="2.05" fill="#a4a4a4"/>
<circle cx="184" cy="351.5" r="2.05" fill="#a4a4a4"/>
<circle cx="182.5" cy="357" r="2.05" fill="#a4a4a4"/>
<circle cx="188" cy="358" r="2.05" fill="#a4a4a4"/>
<circle cx="185" cy="364" r="2.05" fill="#a4a4a4"/>
<circle cx="180.5" cy="373.5" r="2.05" fill="#a4a4a4"/>
<circle cx="176" cy="366.5" r="2.05" fill="#a4a4a4"/>
<circle cx="192.5" cy="371.5" r="2.05" fill="#a4a4a4"/>
<circle cx="180.33" cy="366.89" r="2.05" fill="#808080"/>
<circle cx="183.35" cy="367.78" r="2.05" fill="#808080"/>
<circle cx="177.71" cy="370.24" r="2.05" fill="#808080"/>
<circle cx="182.92" cy="369.48" r="2.05" fill="#808080"/>
<circle cx="185.9" cy="370.45" r="2.05" fill="#808080"/>
<circle cx="188.57" cy="370.02" r="2.05" fill="#808080"/>
<circle cx="177.17" cy="373.27" r="2.05" fill="#808080"/>
<circle cx="180.81" cy="372.74" r="2.05" fill="#808080"/>
<circle cx="183.53" cy="372.65" r="2.05" fill="#808080"/>
<circle cx="187.61" cy="374.12" r="2.05" fill="#808080"/>
<circle cx="191.36" cy="373.85" r="2.05" fill="#808080"/>
<circle cx="178.39" cy="376.91" r="2.05" fill="#808080"/>
<circle cx="181.48" cy="376.09" r="2.05" fill="#808080"/>
<circle cx="186.11" cy="376.88" r="2.05" fill="#808080"/>
<circle cx="189.26" cy="375.73" r="2.05" fill="#808080"/>
<circle cx="183.58" cy="379.07" r="2.05" fill="#808080"/>
<circle cx="187.21" cy="380.15" r="2.05" fill="#808080"/>
<circle cx="190.66" cy="380.28" r="2.05" fill="#808080"/>
<circle cx="186.48" cy="381.9" r="2.05" fill="#808080"/>
<circle cx="189.18" cy="382.69" r="2.05" fill="#808080"/>
<circle cx="186.74" cy="385.69" r="2.05" fill="#808080"/>
<circle cx="191.93" cy="385.12" r="2.05" fill="#808080"/>
<circle cx="182.9" cy="353.2" r="2.05" fill="#808080"/>
<circle cx="181.8" cy="360.7" r="2.05" fill="#808080"/>
<circle cx="194.6" cy="357" r="2.05" fill="#808080"/>
<circle cx="194.6" cy="362.9" r="2.05" fill="#808080"/>
<circle cx="188.2" cy="362.3" r="2.05" fill="#808080"/>
<circle cx="178" cy="364.5" r="2.05" fill="#808080"/>
<circle cx="182.9" cy="366.1" r="2.05" fill="#808080"/>
<circle cx="174.8" cy="370.9" r="2.05" fill="#808080"/>
<circle cx="173.8" cy="376.6" r="2.05" fill="#808080"/>
<circle cx="178.6" cy="375.2" r="2.05" fill="#808080"/>
<circle cx="183.4" cy="371.4" r="2.05" fill="#808080"/>
<circle cx="187.1" cy="372.5" r="2.05" fill="#808080"/>
<circle cx="185" cy="377.9" r="2.05" fill="#808080"/>
<circle cx="184.5" cy="381.1" r="2.05" fill="#808080"/>
<circle cx="188.2" cy="380" r="2.05" fill="#808080"/>
<circle cx="191.4" cy="377.9" r="2.05" fill="#808080"/>
<circle cx="186.6" cy="385.4" r="2.05" fill="#808080"/>
<circle cx="191.4" cy="387" r="2.05" fill="#808080"/>
<circle cx="188.8" cy="384.3" r="2.05" fill="#808080"/>
<circle cx="190.9" cy="395.5" r="2.05" fill="#808080"/>
<circle cx="184.5" cy="399.1" r="2.05" fill="#808080"/>
<circle cx="180.2" cy="400.9" r="2.05" fill="#808080"/>
<circle cx="188.8" cy="404.1" r="2.05" fill="#808080"/>
<circle cx="182.9" cy="369.3" r="2.05" fill="#808080"/>
<circle cx="185.5" cy="380" r="2.05" fill="#808080"/>
<circle cx="186" cy="374.5" r="2.05" fill="#808080"/>
<circle cx="189" cy="376" r="2.05" fill="#808080"/>
<circle cx="182" cy="374.5" r="2.05" fill="#808080"/>
<circle cx="186" cy="383" r="2.05" fill="#808080"/>
<circle cx="206.1" cy="361" r="2.1" fill="#000000"/>
<circle cx="207" cy="368.8" r="2.1" fill="#000000"/>
<circle cx="200.5" cy="370.7" r="2.1" fill="#000000"/>
<circle cx="192.8" cy="369.8" r="2.1" fill="#000000"/>
<circle cx="205.7" cy="374.6" r="2.1" fill="#000000"/>
<circle cx="194.6" cy="380.5" r="2.1" fill="#000000"/>
<circle cx="203.8" cy="388" r="2.1" fill="#000000"/>
<circle cx="205.1" cy="388.9" r="2.1" fill="#000000"/>
<circle cx="223.4" cy="363.7" r="2.1" fill="#000000"/>
<circle cx="247.9" cy="348.3" r="2.2" fill="none" stroke="#ff0000" stroke-width="1.4"/>
<circle cx="46.88" cy="518.37" r="2.05" fill="#d4d4d4"/>
<circle cx="51.07" cy="518.23" r="2.05" fill="#d4d4d4"/>
<circle cx="41.86" cy="521.88" r="2.05" fill="#d4d4d4"/>
<circle cx="44.6" cy="522.13" r="2.05" fill="#d4d4d4"/>
<circle cx="48.17" cy="522" r="2.05" fill="#d4d4d4"/>
<circle cx="39.23" cy="524.5" r="2.05" fill="#d4d4d4"/>
<circle cx="43.46" cy="525.82" r="2.05" fill="#d4d4d4"/>
<circle cx="46.52" cy="524.74" r="2.05" fill="#d4d4d4"/>
<circle cx="42.03" cy="529.16" r="2.05" fill="#d4d4d4"/>
<circle cx="45.54" cy="528.17" r="2.05" fill="#d4d4d4"/>
<circle cx="41.1" cy="523.1" r="2.05" fill="#d4d4d4"/>
<circle cx="40.3" cy="529.3" r="2.05" fill="#d4d4d4"/>
<circle cx="45.5" cy="520.5" r="2.05" fill="#d4d4d4"/>
<circle cx="49.9" cy="519.6" r="2.05" fill="#d4d4d4"/>
<circle cx="53.4" cy="519.2" r="2.05" fill="#d4d4d4"/>
<circle cx="46.4" cy="530.1" r="2.05" fill="#d4d4d4"/>
<circle cx="43.8" cy="528.8" r="2.05" fill="#d4d4d4"/>
<circle cx="42.5" cy="526" r="2.05" fill="#d4d4d4"/>
<circle cx="51.91" cy="520.95" r="2.05" fill="#a4a4a4"/>
<circle cx="55.33" cy="520.49" r="2.05" fill="#a4a4a4"/>
<circle cx="58.85" cy="519.66" r="2.05" fill="#a4a4a4"/>
<circle cx="51.5" cy="522.71" r="2.05" fill="#a4a4a4"/>
<circle cx="54.46" cy="523.16" r="2.05" fill="#a4a4a4"/>
<circle cx="57.72" cy="523.23" r="2.05" fill="#a4a4a4"/>
<circle cx="60.85" cy="523.83" r="2.05" fill="#a4a4a4"/>
<circle cx="48.06" cy="525.87" r="2.05" fill="#a4a4a4"/>
<circle cx="51.54" cy="525.93" r="2.05" fill="#a4a4a4"/>
<circle cx="55.83" cy="527.08" r="2.05" fill="#a4a4a4"/>
<circle cx="59.38" cy="525.66" r="2.05" fill="#a4a4a4"/>
<circle cx="53.77" cy="530.36" r="2.05" fill="#a4a4a4"/>
<circle cx="57.3" cy="516.1" r="2.05" fill="#a4a4a4"/>
<circle cx="61.3" cy="518.8" r="2.05" fill="#a4a4a4"/>
<circle cx="48.1" cy="524.9" r="2.05" fill="#a4a4a4"/>
<circle cx="56" cy="521.4" r="2.05" fill="#a4a4a4"/>
<circle cx="52.5" cy="524" r="2.05" fill="#a4a4a4"/>
<circle cx="63.9" cy="526.2" r="2.05" fill="#a4a4a4"/>
<circle cx="58.6" cy="524" r="2.05" fill="#a4a4a4"/>
<circle cx="56.9" cy="536.3" r="2.05" fill="#a4a4a4"/>
<circle cx="49" cy="527.5" r="2.05" fill="#a4a4a4"/>
<circle cx="46.5" cy="522.5" r="2.05" fill="#a4a4a4"/>
<circle cx="59.5" cy="521" r="2.05" fill="#a4a4a4"/>
<circle cx="54" cy="527.5" r="2.05" fill="#a4a4a4"/>
<circle cx="49.73" cy="528.89" r="2.05" fill="#808080"/>
<circle cx="52.75" cy="529.78" r="2.05" fill="#808080"/>
<circle cx="56.11" cy="529.12" r="2.05" fill="#808080"/>
<circle cx="61.32" cy="528.36" r="2.05" fill="#808080"/>
<circle cx="64.3" cy="529.33" r="2.05" fill="#808080"/>
<circle cx="50.77" cy="532.02" r="2.05" fill="#808080"/>
<circle cx="55.57" cy="532.15" r="2.05" fill="#808080"/>
<circle cx="59.21" cy="531.62" r="2.05" fill="#808080"/>
<circle cx="61.93" cy="531.53" r="2.05" fill="#808080"/>
<circle cx="66.01" cy="533" r="2.05" fill="#808080"/>
<circle cx="69.76" cy="532.73" r="2.05" fill="#808080"/>
<circle cx="49.59" cy="535.8" r="2.05" fill="#808080"/>
<circle cx="52.68" cy="534.98" r="2.05" fill="#808080"/>
<circle cx="57.31" cy="535.76" r="2.05" fill="#808080"/>
<circle cx="60.46" cy="534.61" r="2.05" fill="#808080"/>
<circle cx="63.78" cy="534.83" r="2.05" fill="#808080"/>
<circle cx="67.41" cy="535.91" r="2.05" fill="#808080"/>
<circle cx="70.86" cy="536.05" r="2.05" fill="#808080"/>
<circle cx="75.68" cy="534.55" r="2.05" fill="#808080"/>
<circle cx="78.38" cy="535.34" r="2.05" fill="#808080"/>
<circle cx="54.34" cy="538.33" r="2.05" fill="#808080"/>
<circle cx="59.53" cy="537.77" r="2.05" fill="#808080"/>
<circle cx="62.57" cy="537.79" r="2.05" fill="#808080"/>
<circle cx="66.14" cy="539.18" r="2.05" fill="#808080"/>
<circle cx="69.07" cy="537.59" r="2.05" fill="#808080"/>
<circle cx="72.45" cy="538.54" r="2.05" fill="#808080"/>
<circle cx="75.93" cy="537.72" r="2.05" fill="#808080"/>
<circle cx="43.8" cy="524.9" r="2.05" fill="#808080"/>
<circle cx="54.3" cy="524" r="2.05" fill="#808080"/>
<circle cx="61.3" cy="523.6" r="2.05" fill="#808080"/>
<circle cx="51.6" cy="526.6" r="2.05" fill="#808080"/>
<circle cx="52.5" cy="531" r="2.05" fill="#808080"/>
<circle cx="56.9" cy="529.3" r="2.05" fill="#808080"/>
<circle cx="60.4" cy="530.1" r="2.05" fill="#808080"/>
<circle cx="48.6" cy="535" r="2.05" fill="#808080"/>
<circle cx="53.4" cy="534.5" r="2.05" fill="#808080"/>
<circle cx="58.6" cy="532.8" r="2.05" fill="#808080"/>
<circle cx="63" cy="535.4" r="2.05" fill="#808080"/>
<circle cx="58.6" cy="540.2" r="2.05" fill="#808080"/>
<circle cx="67.4" cy="531" r="2.05" fill="#808080"/>
<circle cx="66.5" cy="534.5" r="2.05" fill="#808080"/>
<circle cx="70" cy="535.4" r="2.05" fill="#808080"/>
<circle cx="70" cy="538.9" r="2.05" fill="#808080"/>
<circle cx="74.4" cy="534.5" r="2.05" fill="#808080"/>
<circle cx="77" cy="535.4" r="2.05" fill="#808080"/>
<circle cx="80.5" cy="538.5" r="2.05" fill="#808080"/>
<circle cx="64.8" cy="531.9" r="2.05" fill="#808080"/>
<circle cx="55.1" cy="536.3" r="2.05" fill="#808080"/>
<circle cx="50.5" cy="532" r="2.05" fill="#808080"/>
<circle cx="55" cy="532" r="2.05" fill="#808080"/>
<circle cx="61.5" cy="533" r="2.05" fill="#808080"/>
<circle cx="73" cy="536.5" r="2.05" fill="#808080"/>
<circle cx="76.9" cy="524" r="2.1" fill="#000000"/>
<circle cx="79.2" cy="526.2" r="2.1" fill="#000000"/>
<circle cx="77.9" cy="528.4" r="2.1" fill="#000000"/>
<circle cx="78.4" cy="530.1" r="2.1" fill="#000000"/>
<circle cx="81.4" cy="531.9" r="2.1" fill="#000000"/>
<circle cx="79.7" cy="532.8" r="2.1" fill="#000000"/>
<circle cx="71.8" cy="531" r="2.1" fill="#000000"/>
<circle cx="87.6" cy="538.5" r="2.1" fill="#000000"/>
<circle cx="110.4" cy="516.2" r="2.1" fill="#000000"/>
<circle cx="92" cy="459.8" r="2.2" fill="none" stroke="#ff0000" stroke-width="1.4"/>
<circle cx="190.1" cy="483.9" r="2.05" fill="#d4d4d4"/>
<circle cx="178.3" cy="490.5" r="2.05" fill="#d4d4d4"/>
<circle cx="181.4" cy="492.3" r="2.05" fill="#d4d4d4"/>
<circle cx="174.8" cy="501" r="2.05" fill="#d4d4d4"/>
<circle cx="181.8" cy="499.3" r="2.05" fill="#d4d4d4"/>
<circle cx="194.5" cy="495.8" r="2.05" fill="#d4d4d4"/>
<circle cx="181.91" cy="491.95" r="2.05" fill="#a4a4a4"/>
<circle cx="185.33" cy="491.49" r="2.05" fill="#a4a4a4"/>
<circle cx="188.85" cy="490.66" r="2.05" fill="#a4a4a4"/>
<circle cx="181.5" cy="493.71" r="2.05" fill="#a4a4a4"/>
<circle cx="184.46" cy="494.16" r="2.05" fill="#a4a4a4"/>
<circle cx="187.72" cy="494.23" r="2.05" fill="#a4a4a4"/>
<circle cx="190.85" cy="494.83" r="2.05" fill="#a4a4a4"/>
<circle cx="178.06" cy="496.87" r="2.05" fill="#a4a4a4"/>
<circle cx="181.54" cy="496.93" r="2.05" fill="#a4a4a4"/>
<circle cx="185.83" cy="498.08" r="2.05" fill="#a4a4a4"/>
<circle cx="189.38" cy="496.66" r="2.05" fill="#a4a4a4"/>
<circle cx="192.77" cy="498.24" r="2.05" fill="#a4a4a4"/>
<circle cx="179.81" cy="500.69" r="2.05" fill="#a4a4a4"/>
<circle cx="183.98" cy="500.76" r="2.05" fill="#a4a4a4"/>
<circle cx="187.51" cy="500.81" r="2.05" fill="#a4a4a4"/>
<circle cx="191.4" cy="500.74" r="2.05" fill="#a4a4a4"/>
<circle cx="195.72" cy="500.62" r="2.05" fill="#a4a4a4"/>
<circle cx="178.16" cy="502.8" r="2.05" fill="#a4a4a4"/>
<circle cx="183.2" cy="503.57" r="2.05" fill="#a4a4a4"/>
<circle cx="185.45" cy="504.39" r="2.05" fill="#a4a4a4"/>
<circle cx="189.74" cy="504" r="2.05" fill="#a4a4a4"/>
<circle cx="193.89" cy="503.2" r="2.05" fill="#a4a4a4"/>
<circle cx="180.34" cy="507.39" r="2.05" fill="#a4a4a4"/>
<circle cx="183.54" cy="507.18" r="2.05" fill="#a4a4a4"/>
<circle cx="187.08" cy="507.05" r="2.05" fill="#a4a4a4"/>
<circle cx="191.76" cy="507.52" r="2.05" fill="#a4a4a4"/>
<circle cx="183.02" cy="509.83" r="2.05" fill="#a4a4a4"/>
<circle cx="185.46" cy="509.19" r="2.05" fill="#a4a4a4"/>
<circle cx="189.65" cy="509.84" r="2.05" fill="#a4a4a4"/>
<circle cx="183.43" cy="513.67" r="2.05" fill="#a4a4a4"/>
<circle cx="187.81" cy="513.3" r="2.05" fill="#a4a4a4"/>
<circle cx="190.6" cy="487.9" r="2.05" fill="#a4a4a4"/>
<circle cx="187.5" cy="491.4" r="2.05" fill="#a4a4a4"/>
<circle cx="181.4" cy="494.9" r="2.05" fill="#a4a4a4"/>
<circle cx="186.6" cy="495.3" r="2.05" fill="#a4a4a4"/>
<circle cx="189.7" cy="497.5" r="2.05" fill="#a4a4a4"/>
<circle cx="185.3" cy="501" r="2.05" fill="#a4a4a4"/>
<circle cx="191.5" cy="500.1" r="2.05" fill="#a4a4a4"/>
<circle cx="196.3" cy="498.8" r="2.05" fill="#a4a4a4"/>
<circle cx="188.4" cy="502.8" r="2.05" fill="#a4a4a4"/>
<circle cx="191.9" cy="503.6" r="2.05" fill="#a4a4a4"/>
<circle cx="195.4" cy="501.9" r="2.05" fill="#a4a4a4"/>
<circle cx="178.8" cy="506.3" r="2.05" fill="#a4a4a4"/>
<circle cx="180.9" cy="505.8" r="2.05" fill="#a4a4a4"/>
<circle cx="191" cy="508" r="2.05" fill="#a4a4a4"/>
<circle cx="192.8" cy="510.7" r="2.05" fill="#a4a4a4"/>
<circle cx="179.6" cy="509.8" r="2.05" fill="#a4a4a4"/>
<circle cx="186.6" cy="508" r="2.05" fill="#a4a4a4"/>
<circle cx="203.3" cy="517.7" r="2.05" fill="#a4a4a4"/>
<circle cx="188.8" cy="512.4" r="2.05" fill="#a4a4a4"/>
<circle cx="178.8" cy="516.8" r="2.05" fill="#a4a4a4"/>
<circle cx="184" cy="498" r="2.05" fill="#a4a4a4"/>
<circle cx="188" cy="506" r="2.05" fill="#a4a4a4"/>
<circle cx="182.73" cy="505.89" r="2.05" fill="#808080"/>
<circle cx="185.75" cy="506.78" r="2.05" fill="#808080"/>
<circle cx="189.11" cy="506.12" r="2.05" fill="#808080"/>
<circle cx="194.32" cy="505.36" r="2.05" fill="#808080"/>
<circle cx="197.3" cy="506.33" r="2.05" fill="#808080"/>
<circle cx="199.97" cy="505.9" r="2.05" fill="#808080"/>
<circle cx="204.77" cy="506.03" r="2.05" fill="#808080"/>
<circle cx="185.01" cy="508.62" r="2.05" fill="#808080"/>
<circle cx="187.73" cy="508.53" r="2.05" fill="#808080"/>
<circle cx="191.81" cy="510" r="2.05" fill="#808080"/>
<circle cx="195.56" cy="509.73" r="2.05" fill="#808080"/>
<circle cx="198.79" cy="509.68" r="2.05" fill="#808080"/>
<circle cx="201.88" cy="508.86" r="2.05" fill="#808080"/>
<circle cx="183.11" cy="512.76" r="2.05" fill="#808080"/>
<circle cx="186.26" cy="511.61" r="2.05" fill="#808080"/>
<circle cx="189.58" cy="511.83" r="2.05" fill="#808080"/>
<circle cx="193.21" cy="512.91" r="2.05" fill="#808080"/>
<circle cx="196.66" cy="513.05" r="2.05" fill="#808080"/>
<circle cx="201.48" cy="511.55" r="2.05" fill="#808080"/>
<circle cx="204.18" cy="512.34" r="2.05" fill="#808080"/>
<circle cx="183.74" cy="515.33" r="2.05" fill="#808080"/>
<circle cx="188.93" cy="514.77" r="2.05" fill="#808080"/>
<circle cx="191.97" cy="514.79" r="2.05" fill="#808080"/>
<circle cx="195.54" cy="516.18" r="2.05" fill="#808080"/>
<circle cx="198.47" cy="514.59" r="2.05" fill="#808080"/>
<circle cx="201.85" cy="515.54" r="2.05" fill="#808080"/>
<circle cx="185.53" cy="517.84" r="2.05" fill="#808080"/>
<circle cx="189.99" cy="519.35" r="2.05" fill="#808080"/>
<circle cx="193.46" cy="518.4" r="2.05" fill="#808080"/>
<circle cx="197.45" cy="517.86" r="2.05" fill="#808080"/>
<circle cx="200.94" cy="518" r="2.05" fill="#808080"/>
<circle cx="188.4" cy="522.53" r="2.05" fill="#808080"/>
<circle cx="191" cy="521.8" r="2.05" fill="#808080"/>
<circle cx="195.59" cy="521.07" r="2.05" fill="#808080"/>
<circle cx="198.58" cy="522.6" r="2.05" fill="#808080"/>
<circle cx="194.5" cy="524.14" r="2.05" fill="#808080"/>
<circle cx="199.8" cy="488.3" r="2.05" fill="#808080"/>
<circle cx="192.9" cy="494.9" r="2.05" fill="#808080"/>
<circle cx="185.8" cy="505.4" r="2.05" fill="#808080"/>
<circle cx="182.7" cy="509.3" r="2.05" fill="#808080"/>
<circle cx="186.2" cy="512.8" r="2.05" fill="#808080"/>
<circle cx="194.5" cy="506.3" r="2.05" fill="#808080"/>
<circle cx="198.9" cy="503.6" r="2.05" fill="#808080"/>
<circle cx="202.4" cy="504.1" r="2.05" fill="#808080"/>
<circle cx="206.3" cy="506.7" r="2.05" fill="#808080"/>
<circle cx="199.8" cy="510.2" r="2.05" fill="#808080"/>
<circle cx="196.3" cy="508.9" r="2.05" fill="#808080"/>
<circle cx="205" cy="511.5" r="2.05" fill="#808080"/>
<circle cx="203.7" cy="513.7" r="2.05" fill="#808080"/>
<circle cx="198" cy="513.7" r="2.05" fill="#808080"/>
<circle cx="197.2" cy="516.3" r="2.05" fill="#808080"/>
<circle cx="192.8" cy="515" r="2.05" fill="#808080"/>
<circle cx="189.3" cy="515.5" r="2.05" fill="#808080"/>
<circle cx="185.8" cy="516.8" r="2.05" fill="#808080"/>
<circle cx="183.1" cy="516.3" r="2.05" fill="#808080"/>
<circle cx="184" cy="519" r="2.05" fill="#808080"/>
<circle cx="193.6" cy="518.5" r="2.05" fill="#808080"/>
<circle cx="196.3" cy="520.3" r="2.05" fill="#808080"/>
<circle cx="198.9" cy="520.7" r="2.05" fill="#808080"/>
<circle cx="191" cy="522" r="2.05" fill="#808080"/>
<circle cx="194.1" cy="522.9" r="2.05" fill="#808080"/>
<circle cx="202.4" cy="523.8" r="2.05" fill="#808080"/>
<circle cx="205.5" cy="522.9" r="2.05" fill="#808080"/>
<circle cx="210.7" cy="523.4" r="2.05" fill="#808080"/>
<circle cx="208.5" cy="518.1" r="2.05" fill="#808080"/>
<circle cx="191.9" cy="526.9" r="2.05" fill="#808080"/>
<circle cx="195.8" cy="530.4" r="2.05" fill="#808080"/>
<circle cx="199.8" cy="531.7" r="2.05" fill="#808080"/>
<circle cx="181.4" cy="516.8" r="2.05" fill="#808080"/>
<circle cx="190.1" cy="513.3" r="2.05" fill="#808080"/>
<circle cx="209.9" cy="485.1" r="2.1" fill="#000000"/>
<circle cx="204.9" cy="497.3" r="2.1" fill="#000000"/>
<circle cx="210.5" cy="494.6" r="2.1" fill="#000000"/>
<circle cx="214.7" cy="497.5" r="2.1" fill="#000000"/>
<circle cx="217.3" cy="499.7" r="2.1" fill="#000000"/>
<circle cx="218" cy="502.9" r="2.1" fill="#000000"/>
<circle cx="217.5" cy="506.7" r="2.1" fill="#000000"/>
<circle cx="217.7" cy="505" r="2.1" fill="#000000"/>
<circle cx="232" cy="478.8" r="2.1" fill="#000000"/>
<circle cx="241.8" cy="519.7" r="2.1" fill="#000000"/>
<circle cx="228.9" cy="464.5" r="2.2" fill="none" stroke="#ff0000" stroke-width="1.4"/>
<circle cx="47.68" cy="640.37" r="2.05" fill="#d4d4d4"/>
<circle cx="51.87" cy="640.23" r="2.05" fill="#d4d4d4"/>
<circle cx="55.26" cy="640.76" r="2.05" fill="#d4d4d4"/>
<circle cx="49" cy="644.13" r="2.05" fill="#d4d4d4"/>
<circle cx="52.57" cy="644" r="2.05" fill="#d4d4d4"/>
<circle cx="56.23" cy="643.38" r="2.05" fill="#d4d4d4"/>
<circle cx="60.46" cy="644.71" r="2.05" fill="#d4d4d4"/>
<circle cx="54.52" cy="646.74" r="2.05" fill="#d4d4d4"/>
<circle cx="48.8" cy="640.5" r="2.05" fill="#d4d4d4"/>
<circle cx="56.2" cy="641.4" r="2.05" fill="#d4d4d4"/>
<circle cx="40" cy="644.5" r="2.05" fill="#d4d4d4"/>
<circle cx="40.9" cy="647.1" r="2.05" fill="#d4d4d4"/>
<circle cx="54.9" cy="644" r="2.05" fill="#d4d4d4"/>
<circle cx="58.4" cy="645.3" r="2.05" fill="#d4d4d4"/>
<circle cx="60.2" cy="643.1" r="2.05" fill="#d4d4d4"/>
<circle cx="69.3" cy="638.8" r="2.05" fill="#d4d4d4"/>
<circle cx="44.8" cy="659.3" r="2.05" fill="#d4d4d4"/>
<circle cx="53.1" cy="645.8" r="2.05" fill="#d4d4d4"/>
<circle cx="47.31" cy="649.95" r="2.05" fill="#a4a4a4"/>
<circle cx="50.73" cy="649.49" r="2.05" fill="#a4a4a4"/>
<circle cx="54.25" cy="648.66" r="2.05" fill="#a4a4a4"/>
<circle cx="59.5" cy="648.59" r="2.05" fill="#a4a4a4"/>
<circle cx="62.46" cy="649.04" r="2.05" fill="#a4a4a4"/>
<circle cx="65.72" cy="649.11" r="2.05" fill="#a4a4a4"/>
<circle cx="45.45" cy="652.83" r="2.05" fill="#a4a4a4"/>
<circle cx="48.86" cy="651.76" r="2.05" fill="#a4a4a4"/>
<circle cx="52.34" cy="651.82" r="2.05" fill="#a4a4a4"/>
<circle cx="56.63" cy="652.96" r="2.05" fill="#a4a4a4"/>
<circle cx="60.18" cy="651.54" r="2.05" fill="#a4a4a4"/>
<circle cx="63.57" cy="653.12" r="2.05" fill="#a4a4a4"/>
<circle cx="66.81" cy="652.45" r="2.05" fill="#a4a4a4"/>
<circle cx="47.58" cy="655.64" r="2.05" fill="#a4a4a4"/>
<circle cx="51.11" cy="655.7" r="2.05" fill="#a4a4a4"/>
<circle cx="55" cy="655.62" r="2.05" fill="#a4a4a4"/>
<circle cx="59.32" cy="655.5" r="2.05" fill="#a4a4a4"/>
<circle cx="61.56" cy="654.57" r="2.05" fill="#a4a4a4"/>
<circle cx="66.6" cy="655.33" r="2.05" fill="#a4a4a4"/>
<circle cx="49.05" cy="659.27" r="2.05" fill="#a4a4a4"/>
<circle cx="53.34" cy="658.88" r="2.05" fill="#a4a4a4"/>
<circle cx="57.49" cy="658.08" r="2.05" fill="#a4a4a4"/>
<circle cx="60.14" cy="659.15" r="2.05" fill="#a4a4a4"/>
<circle cx="63.34" cy="658.95" r="2.05" fill="#a4a4a4"/>
<circle cx="54.28" cy="661.93" r="2.05" fill="#a4a4a4"/>
<circle cx="58.96" cy="662.4" r="2.05" fill="#a4a4a4"/>
<circle cx="41.8" cy="640.5" r="2.05" fill="#a4a4a4"/>
<circle cx="52.3" cy="641" r="2.05" fill="#a4a4a4"/>
<circle cx="49.6" cy="648.4" r="2.05" fill="#a4a4a4"/>
<circle cx="54" cy="648.4" r="2.05" fill="#a4a4a4"/>
<circle cx="48.8" cy="652.8" r="2.05" fill="#a4a4a4"/>
<circle cx="53.1" cy="653.2" r="2.05" fill="#a4a4a4"/>
<circle cx="57.5" cy="651" r="2.05" fill="#a4a4a4"/>
<circle cx="62.8" cy="649.7" r="2.05" fill="#a4a4a4"/>
<circle cx="68" cy="651" r="2.05" fill="#a4a4a4"/>
<circle cx="61.9" cy="654.5" r="2.05" fill="#a4a4a4"/>
<circle cx="57.5" cy="656.3" r="2.05" fill="#a4a4a4"/>
<circle cx="51.4" cy="658" r="2.05" fill="#a4a4a4"/>
<circle cx="51.4" cy="660.7" r="2.05" fill="#a4a4a4"/>
<circle cx="59.3" cy="660.7" r="2.05" fill="#a4a4a4"/>
<circle cx="61" cy="663.3" r="2.05" fill="#a4a4a4"/>
<circle cx="63.7" cy="656.3" r="2.05" fill="#a4a4a4"/>
<circle cx="69.8" cy="653.6" r="2.05" fill="#a4a4a4"/>
<circle cx="59.7" cy="669.4" r="2.05" fill="#a4a4a4"/>
<circle cx="36.9" cy="662" r="2.05" fill="#a4a4a4"/>
<circle cx="67.2" cy="647.5" r="2.05" fill="#a4a4a4"/>
<circle cx="76.8" cy="654.5" r="2.05" fill="#a4a4a4"/>
<circle cx="56" cy="658" r="2.05" fill="#a4a4a4"/>
<circle cx="65.5" cy="652.5" r="2.05" fill="#a4a4a4"/>
<circle cx="64.73" cy="657.89" r="2.05" fill="#808080"/>
<circle cx="67.75" cy="658.78" r="2.05" fill="#808080"/>
<circle cx="71.11" cy="658.12" r="2.05" fill="#808080"/>
<circle cx="76.32" cy="657.36" r="2.05" fill="#808080"/>
<circle cx="79.3" cy="658.33" r="2.05" fill="#808080"/>
<circle cx="65.77" cy="661.02" r="2.05" fill="#808080"/>
<circle cx="70.57" cy="661.15" r="2.05" fill="#808080"/>
<circle cx="74.21" cy="660.62" r="2.05" fill="#808080"/>
<circle cx="76.93" cy="660.53" r="2.05" fill="#808080"/>
<circle cx="81.01" cy="662" r="2.05" fill="#808080"/>
<circle cx="68.56" cy="664.85" r="2.05" fill="#808080"/>
<circle cx="71.79" cy="664.8" r="2.05" fill="#808080"/>
<circle cx="74.88" cy="663.98" r="2.05" fill="#808080"/>
<circle cx="79.51" cy="664.76" r="2.05" fill="#808080"/>
<circle cx="82.66" cy="663.61" r="2.05" fill="#808080"/>
<circle cx="68.5" cy="648" r="2.05" fill="#808080"/>
<circle cx="79" cy="649.7" r="2.05" fill="#808080"/>
<circle cx="83.8" cy="639.2" r="2.05" fill="#808080"/>
<circle cx="83.4" cy="644.5" r="2.05" fill="#808080"/>
<circle cx="89.5" cy="645.8" r="2.05" fill="#808080"/>
<circle cx="80.7" cy="655.8" r="2.05" fill="#808080"/>
<circle cx="65.4" cy="658" r="2.05" fill="#808080"/>
<circle cx="69.8" cy="658" r="2.05" fill="#808080"/>
<circle cx="74.2" cy="658" r="2.05" fill="#808080"/>
<circle cx="77.7" cy="658.9" r="2.05" fill="#808080"/>
<circle cx="72.4" cy="661.5" r="2.05" fill="#808080"/>
<circle cx="76.8" cy="661.5" r="2.05" fill="#808080"/>
<circle cx="80.3" cy="661.5" r="2.05" fill="#808080"/>
<circle cx="83.4" cy="663.3" r="2.05" fill="#808080"/>
<circle cx="72.4" cy="664.2" r="2.05" fill="#808080"/>
<circle cx="75.9" cy="665" r="2.05" fill="#808080"/>
<circle cx="80.3" cy="664.6" r="2.05" fill="#808080"/>
<circle cx="55.8" cy="661.5" r="2.05" fill="#808080"/>
<circle cx="67.2" cy="663.3" r="2.05" fill="#808080"/>
<circle cx="64.1" cy="665.9" r="2.05" fill="#808080"/>
<circle cx="68" cy="668.5" r="2.05" fill="#808080"/>
<circle cx="74.6" cy="672.9" r="2.05" fill="#808080"/>
<circle cx="69.8" cy="674.2" r="2.05" fill="#808080"/>
<circle cx="86.4" cy="671.2" r="2.05" fill="#808080"/>
<circle cx="90.4" cy="663.3" r="2.05" fill="#808080"/>
<circle cx="91.7" cy="650.6" r="2.05" fill="#808080"/>
<circle cx="83.9" cy="639.6" r="2.05" fill="#808080"/>
<circle cx="83.5" cy="644.2" r="2.05" fill="#808080"/>
<circle cx="89.6" cy="645.9" r="2.05" fill="#808080"/>
<circle cx="92.2" cy="650.3" r="2.05" fill="#808080"/>
<circle cx="95.2" cy="651.8" r="2.05" fill="#808080"/>
<circle cx="97.9" cy="657.1" r="2.05" fill="#808080"/>
<circle cx="81.3" cy="655.8" r="2.05" fill="#808080"/>
<circle cx="82.6" cy="662.5" r="2.05" fill="#808080"/>
<circle cx="80.9" cy="660.7" r="2.05" fill="#808080"/>
<circle cx="89.6" cy="663.8" r="2.05" fill="#808080"/>
<circle cx="92.2" cy="663.8" r="2.05" fill="#808080"/>
<circle cx="86.5" cy="671.2" r="2.05" fill="#808080"/>
<circle cx="74.6" cy="637" r="2.1" fill="#000000"/>
<circle cx="65" cy="645.8" r="2.1" fill="#000000"/>
<circle cx="82.8" cy="646.8" r="2.1" fill="#000000"/>
<circle cx="90.8" cy="640.1" r="2.1" fill="#000000"/>
<circle cx="92.6" cy="653.6" r="2.1" fill="#000000"/>
<circle cx="106.3" cy="621.8" r="2.1" fill="#000000"/>
<circle cx="102.6" cy="639.2" r="2.1" fill="#000000"/>
<circle cx="98.7" cy="643.3" r="2.1" fill="#000000"/>
<circle cx="90.9" cy="640.3" r="2.1" fill="#000000"/>
<circle cx="82.6" cy="647.1" r="2.1" fill="#000000"/>
<circle cx="93.1" cy="653.9" r="2.1" fill="#000000"/>
<circle cx="94.8" cy="661.4" r="2.1" fill="#000000"/>
<circle cx="97.7" cy="601.7" r="2.2" fill="none" stroke="#ff0000" stroke-width="1.4"/>
<circle cx="196.2" cy="607.1" r="2.05" fill="#d4d4d4"/>
<circle cx="181.8" cy="609.8" r="2.05" fill="#d4d4d4"/>
<circle cx="194.6" cy="611.4" r="2.05" fill="#d4d4d4"/>
<circle cx="178" cy="618.4" r="2.05" fill="#d4d4d4"/>
<circle cx="195.7" cy="615.7" r="2.05" fill="#d4d4d4"/>
<circle cx="184.5" cy="620" r="2.05" fill="#d4d4d4"/>
<circle cx="198.9" cy="621" r="2.05" fill="#d4d4d4"/>
<circle cx="182.8" cy="628.5" r="2.05" fill="#d4d4d4"/>
<circle cx="193" cy="645.7" r="2.05" fill="#d4d4d4"/>
<circle cx="190.3" cy="648.9" r="2.05" fill="#d4d4d4"/>
<circle cx="185.51" cy="621.95" r="2.05" fill="#a4a4a4"/>
<circle cx="188.93" cy="621.49" r="2.05" fill="#a4a4a4"/>
<circle cx="179.85" cy="623.78" r="2.05" fill="#a4a4a4"/>
<circle cx="185.1" cy="623.71" r="2.05" fill="#a4a4a4"/>
<circle cx="188.06" cy="624.16" r="2.05" fill="#a4a4a4"/>
<circle cx="191.32" cy="624.23" r="2.05" fill="#a4a4a4"/>
<circle cx="178.25" cy="627.95" r="2.05" fill="#a4a4a4"/>
<circle cx="181.66" cy="626.87" r="2.05" fill="#a4a4a4"/>
<circle cx="185.14" cy="626.93" r="2.05" fill="#a4a4a4"/>
<circle cx="189.43" cy="628.08" r="2.05" fill="#a4a4a4"/>
<circle cx="192.98" cy="626.66" r="2.05" fill="#a4a4a4"/>
<circle cx="180.17" cy="631.36" r="2.05" fill="#a4a4a4"/>
<circle cx="183.41" cy="630.69" r="2.05" fill="#a4a4a4"/>
<circle cx="187.58" cy="630.76" r="2.05" fill="#a4a4a4"/>
<circle cx="191.11" cy="630.81" r="2.05" fill="#a4a4a4"/>
<circle cx="195" cy="630.74" r="2.05" fill="#a4a4a4"/>
<circle cx="179.52" cy="633.73" r="2.05" fill="#a4a4a4"/>
<circle cx="181.76" cy="632.8" r="2.05" fill="#a4a4a4"/>
<circle cx="186.8" cy="633.57" r="2.05" fill="#a4a4a4"/>
<circle cx="189.05" cy="634.39" r="2.05" fill="#a4a4a4"/>
<circle cx="193.34" cy="634" r="2.05" fill="#a4a4a4"/>
<circle cx="181.29" cy="636.32" r="2.05" fill="#a4a4a4"/>
<circle cx="183.94" cy="637.39" r="2.05" fill="#a4a4a4"/>
<circle cx="187.14" cy="637.18" r="2.05" fill="#a4a4a4"/>
<circle cx="190.68" cy="637.05" r="2.05" fill="#a4a4a4"/>
<circle cx="195.36" cy="637.52" r="2.05" fill="#a4a4a4"/>
<circle cx="183.02" cy="639.83" r="2.05" fill="#a4a4a4"/>
<circle cx="185.46" cy="639.19" r="2.05" fill="#a4a4a4"/>
<circle cx="189.65" cy="639.84" r="2.05" fill="#a4a4a4"/>
<circle cx="192.43" cy="640.55" r="2.05" fill="#a4a4a4"/>
<circle cx="184.21" cy="643.3" r="2.05" fill="#a4a4a4"/>
<circle cx="187.3" cy="642.48" r="2.05" fill="#a4a4a4"/>
<circle cx="190.52" cy="642.66" r="2.05" fill="#a4a4a4"/>
<circle cx="189.3" cy="607.7" r="2.05" fill="#a4a4a4"/>
<circle cx="174.8" cy="621.6" r="2.05" fill="#a4a4a4"/>
<circle cx="185.5" cy="616.8" r="2.05" fill="#a4a4a4"/>
<circle cx="178.6" cy="630.1" r="2.05" fill="#a4a4a4"/>
<circle cx="186.1" cy="626.4" r="2.05" fill="#a4a4a4"/>
<circle cx="183.9" cy="632.8" r="2.05" fill="#a4a4a4"/>
<circle cx="188.2" cy="635" r="2.05" fill="#a4a4a4"/>
<circle cx="192.5" cy="637.1" r="2.05" fill="#a4a4a4"/>
<circle cx="180.7" cy="640.3" r="2.05" fill="#a4a4a4"/>
<circle cx="181.8" cy="643.5" r="2.05" fill="#a4a4a4"/>
<circle cx="186.1" cy="643.5" r="2.05" fill="#a4a4a4"/>
<circle cx="197.8" cy="641.4" r="2.05" fill="#a4a4a4"/>
<circle cx="200.5" cy="639.3" r="2.05" fill="#a4a4a4"/>
<circle cx="185" cy="650" r="2.05" fill="#a4a4a4"/>
<circle cx="176.4" cy="654.2" r="2.05" fill="#a4a4a4"/>
<circle cx="193" cy="655.3" r="2.05" fill="#a4a4a4"/>
<circle cx="194.1" cy="643.5" r="2.05" fill="#a4a4a4"/>
<circle cx="202.1" cy="632.8" r="2.05" fill="#a4a4a4"/>
<circle cx="191.4" cy="630.7" r="2.05" fill="#a4a4a4"/>
<circle cx="202.3" cy="608.8" r="2.05" fill="#a4a4a4"/>
<circle cx="184" cy="638" r="2.05" fill="#a4a4a4"/>
<circle cx="190" cy="641" r="2.05" fill="#a4a4a4"/>
<circle cx="185.93" cy="611.77" r="2.05" fill="#808080"/>
<circle cx="188.95" cy="612.66" r="2.05" fill="#808080"/>
<circle cx="192.31" cy="612.01" r="2.05" fill="#808080"/>
<circle cx="188.52" cy="614.36" r="2.05" fill="#808080"/>
<circle cx="191.5" cy="615.33" r="2.05" fill="#808080"/>
<circle cx="194.17" cy="614.9" r="2.05" fill="#808080"/>
<circle cx="198.97" cy="615.03" r="2.05" fill="#808080"/>
<circle cx="202.61" cy="614.5" r="2.05" fill="#808080"/>
<circle cx="185.53" cy="617.53" r="2.05" fill="#808080"/>
<circle cx="189.61" cy="619" r="2.05" fill="#808080"/>
<circle cx="193.36" cy="618.73" r="2.05" fill="#808080"/>
<circle cx="196.59" cy="618.68" r="2.05" fill="#808080"/>
<circle cx="199.68" cy="617.86" r="2.05" fill="#808080"/>
<circle cx="204.31" cy="618.64" r="2.05" fill="#808080"/>
<circle cx="187.66" cy="620.61" r="2.05" fill="#808080"/>
<circle cx="190.98" cy="620.83" r="2.05" fill="#808080"/>
<circle cx="194.61" cy="621.91" r="2.05" fill="#808080"/>
<circle cx="198.06" cy="622.05" r="2.05" fill="#808080"/>
<circle cx="202.88" cy="620.55" r="2.05" fill="#808080"/>
<circle cx="205.58" cy="621.34" r="2.05" fill="#808080"/>
<circle cx="188.74" cy="624.33" r="2.05" fill="#808080"/>
<circle cx="193.93" cy="623.77" r="2.05" fill="#808080"/>
<circle cx="196.97" cy="623.79" r="2.05" fill="#808080"/>
<circle cx="200.54" cy="625.18" r="2.05" fill="#808080"/>
<circle cx="203.47" cy="623.59" r="2.05" fill="#808080"/>
<circle cx="206.85" cy="624.54" r="2.05" fill="#808080"/>
<circle cx="190.53" cy="626.84" r="2.05" fill="#808080"/>
<circle cx="194.99" cy="628.35" r="2.05" fill="#808080"/>
<circle cx="198.46" cy="627.4" r="2.05" fill="#808080"/>
<circle cx="202.45" cy="626.86" r="2.05" fill="#808080"/>
<circle cx="205.94" cy="627" r="2.05" fill="#808080"/>
<circle cx="197" cy="631.53" r="2.05" fill="#808080"/>
<circle cx="199.6" cy="630.8" r="2.05" fill="#808080"/>
<circle cx="190.9" cy="599.1" r="2.05" fill="#808080"/>
<circle cx="193.8" cy="603.9" r="2.05" fill="#808080"/>
<circle cx="209.1" cy="605" r="2.05" fill="#808080"/>
<circle cx="201.9" cy="608.7" r="2.05" fill="#808080"/>
<circle cx="190.9" cy="609.8" r="2.05" fill="#808080"/>
<circle cx="182.8" cy="612" r="2.05" fill="#808080"/>
<circle cx="191.4" cy="616.8" r="2.05" fill="#808080"/>
<circle cx="205.9" cy="615.2" r="2.05" fill="#808080"/>
<circle cx="208" cy="618.9" r="2.05" fill="#808080"/>
<circle cx="204.3" cy="621" r="2.05" fill="#808080"/>
<circle cx="189.3" cy="623.2" r="2.05" fill="#808080"/>
<circle cx="194.6" cy="622.1" r="2.05" fill="#808080"/>
<circle cx="196.8" cy="625.3" r="2.05" fill="#808080"/>
<circle cx="190.3" cy="629.6" r="2.05" fill="#808080"/>
<circle cx="186.1" cy="630.7" r="2.05" fill="#808080"/>
<circle cx="195.2" cy="630.7" r="2.05" fill="#808080"/>
<circle cx="197.8" cy="633.4" r="2.05" fill="#808080"/>
<circle cx="181.8" cy="635" r="2.05" fill="#808080"/>
<circle cx="187.1" cy="639.3" r="2.05" fill="#808080"/>
<circle cx="180.7" cy="640.3" r="2.05" fill="#808080"/>
<circle cx="188.2" cy="643" r="2.05" fill="#808080"/>
<circle cx="206.4" cy="632.3" r="2.05" fill="#808080"/>
<circle cx="204.8" cy="638.2" r="2.05" fill="#808080"/>
<circle cx="215" cy="636" r="2.05" fill="#808080"/>
<circle cx="202.7" cy="648.4" r="2.05" fill="#808080"/>
<circle cx="193" cy="652.6" r="2.05" fill="#808080"/>
<circle cx="187.7" cy="659.1" r="2.05" fill="#808080"/>
<circle cx="208" cy="659.1" r="2.05" fill="#808080"/>
<circle cx="197.8" cy="627.5" r="2.05" fill="#808080"/>
<circle cx="192.5" cy="625.3" r="2.05" fill="#808080"/>
<circle cx="188" cy="658.9" r="2.05" fill="#808080"/>
<circle cx="193" cy="620" r="2.05" fill="#808080"/>
<circle cx="199" cy="617" r="2.05" fill="#808080"/>
<circle cx="213.9" cy="616" r="2.1" fill="#000000"/>
<circle cx="201.8" cy="626.4" r="2.1" fill="#000000"/>
<circle cx="212.5" cy="637.6" r="2.1" fill="#000000"/>
<circle cx="216.6" cy="645.7" r="2.1" fill="#000000"/>
<circle cx="213.4" cy="652.1" r="2.1" fill="#000000"/>
<circle cx="217.6" cy="663.3" r="2.1" fill="#000000"/>
<circle cx="224.8" cy="631.9" r="2.1" fill="#000000"/>
<circle cx="199.3" cy="667.1" r="2.1" fill="#000000"/>
<circle cx="250.4" cy="630.3" r="2.2" fill="none" stroke="#ff0000" stroke-width="1.4"/>
<g clip-path="url(#clipD1)">
<path fill="none" stroke="#b4b4b4" stroke-width="0.75" d="M49.1 223.2l4.6 4.6M49.1 227.8l4.6 -4.6M55.2 222.9l4.6 4.6M55.2 227.5l4.6 -4.6M59.2 223.2l4.6 4.6M59.2 227.8l4.6 -4.6M63.4 223.1l4.6 4.6M63.4 227.7l4.6 -4.6M69.5 223.7l4.6 4.6M69.5 228.3l4.6 -4.6M73.2 222.6l4.6 4.6M73.2 227.2l4.6 -4.6M45.7 228.1l4.6 4.6M45.7 232.7l4.6 -4.6M52.2 226.3l4.6 4.6M52.2 230.9l4.6 -4.6M57.9 228.5l4.6 4.6M57.9 233.1l4.6 -4.6M62.1 227.6l4.6 4.6M62.1 232.2l4.6 -4.6M65.9 226.2l4.6 4.6M65.9 230.8l4.6 -4.6M71.8 226.3l4.6 4.6M71.8 230.9l4.6 -4.6M76 226.7l4.6 4.6M76 231.3l4.6 -4.6M43.1 231.6l4.6 4.6M43.1 236.2l4.6 -4.6M49.1 232.5l4.6 4.6M49.1 237.1l4.6 -4.6M54.2 232l4.6 4.6M54.2 236.6l4.6 -4.6M59.2 232.1l4.6 4.6M59.2 236.7l4.6 -4.6M64.1 231.2l4.6 4.6M64.1 235.8l4.6 -4.6M70.4 232.9l4.6 4.6M70.4 237.5l4.6 -4.6M75 232.2l4.6 4.6M75 236.8l4.6 -4.6M78.8 231l4.6 4.6M78.8 235.6l4.6 -4.6M46.2 235l4.6 4.6M46.2 239.6l4.6 -4.6M52.3 235.8l4.6 4.6M52.3 240.4l4.6 -4.6M57.5 235.7l4.6 4.6M57.5 240.3l4.6 -4.6M62.8 236.9l4.6 4.6M62.8 241.5l4.6 -4.6M65.5 235.3l4.6 4.6M65.5 239.9l4.6 -4.6M72.7 235.9l4.6 4.6M72.7 240.5l4.6 -4.6M77.9 235.8l4.6 4.6M77.9 240.4l4.6 -4.6M43.2 240.7l4.6 4.6M43.2 245.3l4.6 -4.6M49.9 239.8l4.6 4.6M49.9 244.4l4.6 -4.6M53.2 239.9l4.6 4.6M53.2 244.5l4.6 -4.6M60.3 241l4.6 4.6M60.3 245.6l4.6 -4.6M63.3 239.7l4.6 4.6M63.3 244.3l4.6 -4.6M68.2 239.3l4.6 4.6M68.2 243.9l4.6 -4.6M74.9 239.6l4.6 4.6M74.9 244.2l4.6 -4.6M46.8 244.6l4.6 4.6M46.8 249.2l4.6 -4.6M51 245.2l4.6 4.6M51 249.8l4.6 -4.6M55.8 245l4.6 4.6M55.8 249.6l4.6 -4.6M60.8 244.5l4.6 4.6M60.8 249.1l4.6 -4.6M66 244.1l4.6 4.6M66 248.7l4.6 -4.6M72.8 245.4l4.6 4.6M72.8 250l4.6 -4.6M53.7 249.9l4.6 4.6M53.7 254.5l4.6 -4.6M58.5 248.8l4.6 4.6M58.5 253.4l4.6 -4.6M65.1 249.4l4.6 4.6M65.1 254l4.6 -4.6"/>
<path fill="none" stroke="#7a7a7a" stroke-width="0.75" d="M46.7 222.7l4.6 4.6M46.7 227.3l4.6 -4.6M58.1 221.3l4.6 4.6M58.1 225.9l4.6 -4.6M66.4 222.7l4.6 4.6M66.4 227.3l4.6 -4.6M76.1 218.7l4.6 4.6M76.1 223.3l4.6 -4.6M80.9 227.5l4.6 4.6M80.9 232.1l4.6 -4.6M86.1 231.9l4.6 4.6M86.1 236.5l4.6 -4.6M35.3 236.2l4.6 4.6M35.3 240.8l4.6 -4.6M35.3 243.2l4.6 4.6M35.3 247.8l4.6 -4.6M45.8 240.6l4.6 4.6M45.8 245.2l4.6 -4.6M51.1 250.3l4.6 4.6M51.1 254.9l4.6 -4.6M42.8 252.9l4.6 4.6M42.8 257.5l4.6 -4.6M66 249.4l4.6 4.6M66 254l4.6 -4.6M75.6 235.4l4.6 4.6M75.6 240l4.6 -4.6M53.7 250.3l4.6 4.6M53.7 254.9l4.6 -4.6M68.6 246.7l4.6 4.6M68.6 251.3l4.6 -4.6M38.2 238.7l4.6 4.6M38.2 243.3l4.6 -4.6M55.7 247.7l4.6 4.6M55.7 252.3l4.6 -4.6M61.7 250.7l4.6 4.6M61.7 255.3l4.6 -4.6M50.2 228.4l4.6 4.6M50.2 233l4.6 -4.6M55.5 233.6l4.6 4.6M55.5 238.2l4.6 -4.6M63.4 238.9l4.6 4.6M63.4 243.5l4.6 -4.6M48.5 245l4.6 4.6M48.5 249.6l4.6 -4.6M60.7 232.7l4.6 4.6M60.7 237.3l4.6 -4.6"/>
<path fill="none" stroke="#1aaeee" stroke-width="0.75" d="M50.2 228.6l4.6 4.6M50.2 233.2l4.6 -4.6M55.9 227.3l4.6 4.6M55.9 231.9l4.6 -4.6M59.5 227.9l4.6 4.6M59.5 232.5l4.6 -4.6M65.4 228.9l4.6 4.6M65.4 233.5l4.6 -4.6M53.4 232.9l4.6 4.6M53.4 237.5l4.6 -4.6M58.2 233.1l4.6 4.6M58.2 237.7l4.6 -4.6M62.4 232.6l4.6 4.6M62.4 237.2l4.6 -4.6M67.7 233.7l4.6 4.6M67.7 238.3l4.6 -4.6M49.2 238l4.6 4.6M49.2 242.6l4.6 -4.6M54.5 237.7l4.6 4.6M54.5 242.3l4.6 -4.6M60.3 237l4.6 4.6M60.3 241.6l4.6 -4.6M66.7 236.1l4.6 4.6M66.7 240.7l4.6 -4.6M70 238.2l4.6 4.6M70 242.8l4.6 -4.6M52.9 240.7l4.6 4.6M52.9 245.3l4.6 -4.6M59.3 242.8l4.6 4.6M59.3 247.4l4.6 -4.6M62.4 241.5l4.6 4.6M62.4 246.1l4.6 -4.6M67.6 241.3l4.6 4.6M67.6 245.9l4.6 -4.6M61 245.4l4.6 4.6M61 250l4.6 -4.6M55 209.1l4.6 4.6M55 213.7l4.6 -4.6M63.8 219.2l4.6 4.6M63.8 223.8l4.6 -4.6M80 220.9l4.6 4.6M80 225.5l4.6 -4.6M54.2 221.3l4.6 4.6M54.2 225.9l4.6 -4.6M44.1 234l4.6 4.6M44.1 238.6l4.6 -4.6M48.5 238.9l4.6 4.6M48.5 243.5l4.6 -4.6M85.3 242.8l4.6 4.6M85.3 247.4l4.6 -4.6M76.1 231l4.6 4.6M76.1 235.6l4.6 -4.6M83.5 235.8l4.6 4.6M83.5 240.4l4.6 -4.6M52.8 226.6l4.6 4.6M52.8 231.2l4.6 -4.6M69.5 241.5l4.6 4.6M69.5 246.1l4.6 -4.6M56.3 245l4.6 4.6M56.3 249.6l4.6 -4.6M61.6 246.7l4.6 4.6M61.6 251.3l4.6 -4.6M59 238l4.6 4.6M59 242.6l4.6 -4.6M71.2 243.2l4.6 4.6M71.2 247.8l4.6 -4.6M66.9 229.2l4.6 4.6M66.9 233.8l4.6 -4.6M57.2 234.5l4.6 4.6M57.2 239.1l4.6 -4.6M60.7 226.6l4.6 4.6M60.7 231.2l4.6 -4.6M67.7 239.7l4.6 4.6M67.7 244.3l4.6 -4.6M71.2 224l4.6 4.6M71.2 228.6l4.6 -4.6"/>
<path fill="none" stroke="#f6b90e" stroke-width="0.75" d="M41.5 235.4l4.6 4.6M41.5 240l4.6 -4.6M71.2 225.7l4.6 4.6M71.2 230.3l4.6 -4.6M70.4 231.9l4.6 4.6M70.4 236.5l4.6 -4.6M62.9 237.6l4.6 4.6M62.9 242.2l4.6 -4.6M83.5 233.2l4.6 4.6M83.5 237.8l4.6 -4.6M90.9 223.5l4.6 4.6M90.9 228.1l4.6 -4.6M91.8 223.9l4.6 4.6M91.8 228.5l4.6 -4.6"/>
<path fill="none" stroke="#ee1c25" stroke-width="1.3" d="M64.1 229.4l5.2 5.2M64.1 234.6l5.2 -5.2"/>
<path fill="none" stroke="#b4b4b4" stroke-width="0.72" d="M99.9 198.2l2.2 4.1h-4.4zM103.1 197.9l2.2 4.1h-4.4zM103.1 200.6a2.1 2.1 0 1 0 4.2 0a2.1 2.1 0 1 0 -4.2 0M108.5 198l2.2 4.1h-4.4zM110.7 197.6l2.2 4.1h-4.4zM110.6 200.1a2.1 2.1 0 1 0 4.2 0a2.1 2.1 0 1 0 -4.2 0M99.6 202a2.1 2.1 0 1 0 4.2 0a2.1 2.1 0 1 0 -4.2 0M104.6 199.9l2.2 4.1h-4.4zM104.4 202a2.1 2.1 0 1 0 4.2 0a2.1 2.1 0 1 0 -4.2 0M110 200.5l2.2 4.1h-4.4zM110.4 202.6a2.1 2.1 0 1 0 4.2 0a2.1 2.1 0 1 0 -4.2 0M114 200l2.2 4.1h-4.4zM117.2 199.7l2.2 4.1h-4.4zM118.2 202.3a2.1 2.1 0 1 0 4.2 0a2.1 2.1 0 1 0 -4.2 0M97.8 205.1a2.1 2.1 0 1 0 4.2 0a2.1 2.1 0 1 0 -4.2 0M100.3 205.3a2.1 2.1 0 1 0 4.2 0a2.1 2.1 0 1 0 -4.2 0M103.3 204.8a2.1 2.1 0 1 0 4.2 0a2.1 2.1 0 1 0 -4.2 0M107.9 202.4l2.2 4.1h-4.4zM110.3 201.9l2.2 4.1h-4.4zM111.6 204.4a2.1 2.1 0 1 0 4.2 0a2.1 2.1 0 1 0 -4.2 0M116.2 202.1l2.2 4.1h-4.4zM117 205.2a2.1 2.1 0 1 0 4.2 0a2.1 2.1 0 1 0 -4.2 0M121.4 202.8l2.2 4.1h-4.4zM97 207.3a2.1 2.1 0 1 0 4.2 0a2.1 2.1 0 1 0 -4.2 0M101.1 204.7l2.2 4.1h-4.4zM102.5 206.6a2.1 2.1 0 1 0 4.2 0a2.1 2.1 0 1 0 -4.2 0M105.2 207.5a2.1 2.1 0 1 0 4.2 0a2.1 2.1 0 1 0 -4.2 0M109.3 204.5l2.2 4.1h-4.4zM109.8 206.9a2.1 2.1 0 1 0 4.2 0a2.1 2.1 0 1 0 -4.2 0M115.2 204.6l2.2 4.1h-4.4zM114.5 206.5a2.1 2.1 0 1 0 4.2 0a2.1 2.1 0 1 0 -4.2 0M120.1 205.3l2.2 4.1h-4.4zM122.4 204.7l2.2 4.1h-4.4zM98.3 209.6a2.1 2.1 0 1 0 4.2 0a2.1 2.1 0 1 0 -4.2 0M100.5 209.4a2.1 2.1 0 1 0 4.2 0a2.1 2.1 0 1 0 -4.2 0M103.5 209.4a2.1 2.1 0 1 0 4.2 0a2.1 2.1 0 1 0 -4.2 0M105.6 208.9a2.1 2.1 0 1 0 4.2 0a2.1 2.1 0 1 0 -4.2 0M110.5 207.5l2.2 4.1h-4.4zM113.1 207.1l2.2 4.1h-4.4zM115.7 206.5l2.2 4.1h-4.4zM115.9 209.6a2.1 2.1 0 1 0 4.2 0a2.1 2.1 0 1 0 -4.2 0M119.3 209.1a2.1 2.1 0 1 0 4.2 0a2.1 2.1 0 1 0 -4.2 0M123.9 207.2l2.2 4.1h-4.4zM99.5 209.7l2.2 4.1h-4.4zM101.5 209.8l2.2 4.1h-4.4zM104.8 209.3l2.2 4.1h-4.4zM107.3 209.2l2.2 4.1h-4.4zM109.3 208.9l2.2 4.1h-4.4zM110.4 211.1a2.1 2.1 0 1 0 4.2 0a2.1 2.1 0 1 0 -4.2 0M114.1 209.6l2.2 4.1h-4.4zM115.4 211.5a2.1 2.1 0 1 0 4.2 0a2.1 2.1 0 1 0 -4.2 0M120.2 208.7l2.2 4.1h-4.4zM122.1 208.9l2.2 4.1h-4.4zM100.2 211.1l2.2 4.1h-4.4zM102.4 211.3l2.2 4.1h-4.4zM106 212l2.2 4.1h-4.4zM108.4 211.4l2.2 4.1h-4.4zM110.4 212l2.2 4.1h-4.4zM113.3 211.7l2.2 4.1h-4.4zM113.2 213.4a2.1 2.1 0 1 0 4.2 0a2.1 2.1 0 1 0 -4.2 0M116.8 214.1a2.1 2.1 0 1 0 4.2 0a2.1 2.1 0 1 0 -4.2 0M119.5 213.9a2.1 2.1 0 1 0 4.2 0a2.1 2.1 0 1 0 -4.2 0M123.6 211.5l2.2 4.1h-4.4zM99.9 215.8a2.1 2.1 0 1 0 4.2 0a2.1 2.1 0 1 0 -4.2 0M102.1 215.7a2.1 2.1 0 1 0 4.2 0a2.1 2.1 0 1 0 -4.2 0M105 215.4a2.1 2.1 0 1 0 4.2 0a2.1 2.1 0 1 0 -4.2 0M107.5 216.6a2.1 2.1 0 1 0 4.2 0a2.1 2.1 0 1 0 -4.2 0M109.3 216.1a2.1 2.1 0 1 0 4.2 0a2.1 2.1 0 1 0 -4.2 0M112.7 216.4a2.1 2.1 0 1 0 4.2 0a2.1 2.1 0 1 0 -4.2 0M115.2 215.7a2.1 2.1 0 1 0 4.2 0a2.1 2.1 0 1 0 -4.2 0M117.6 216.6a2.1 2.1 0 1 0 4.2 0a2.1 2.1 0 1 0 -4.2 0M120.8 215.6a2.1 2.1 0 1 0 4.2 0a2.1 2.1 0 1 0 -4.2 0M97.7 217.8a2.1 2.1 0 1 0 4.2 0a2.1 2.1 0 1 0 -4.2 0M102.3 215.9l2.2 4.1h-4.4zM103 218.7a2.1 2.1 0 1 0 4.2 0a2.1 2.1 0 1 0 -4.2 0M106.2 217.8a2.1 2.1 0 1 0 4.2 0a2.1 2.1 0 1 0 -4.2 0M108.6 218.1a2.1 2.1 0 1 0 4.2 0a2.1 2.1 0 1 0 -4.2 0M113.3 215.6l2.2 4.1h-4.4zM113.4 217.9a2.1 2.1 0 1 0 4.2 0a2.1 2.1 0 1 0 -4.2 0M118.4 216.2l2.2 4.1h-4.4zM119.1 217.7a2.1 2.1 0 1 0 4.2 0a2.1 2.1 0 1 0 -4.2 0M121.9 218.7a2.1 2.1 0 1 0 4.2 0a2.1 2.1 0 1 0 -4.2 0M101.9 218.6l2.2 4.1h-4.4zM103.6 218.2l2.2 4.1h-4.4zM106.3 218.5l2.2 4.1h-4.4zM109 218.5l2.2 4.1h-4.4zM109.6 220.8a2.1 2.1 0 1 0 4.2 0a2.1 2.1 0 1 0 -4.2 0M112.3 220a2.1 2.1 0 1 0 4.2 0a2.1 2.1 0 1 0 -4.2 0M115 220.3a2.1 2.1 0 1 0 4.2 0a2.1 2.1 0 1 0 -4.2 0M118.2 220.3a2.1 2.1 0 1 0 4.2 0a2.1 2.1 0 1 0 -4.2 0M122.4 218.3l2.2 4.1h-4.4zM101.3 222.3a2.1 2.1 0 1 0 4.2 0a2.1 2.1 0 1 0 -4.2 0M105.6 220.5l2.2 4.1h-4.4zM106.3 223.3a2.1 2.1 0 1 0 4.2 0a2.1 2.1 0 1 0 -4.2 0M110.5 220.7l2.2 4.1h-4.4zM111.2 222.8a2.1 2.1 0 1 0 4.2 0a2.1 2.1 0 1 0 -4.2 0M115.4 220.8l2.2 4.1h-4.4zM119.1 220.3l2.2 4.1h-4.4zM121.7 226l2.6 2.6l-2.6 2.6l-2.6 -2.6zM124.1 224.9l2.6 2.6l-2.6 2.6l-2.6 -2.6zM126.1 225.3l2.6 2.6l-2.6 2.6l-2.6 -2.6zM128.4 225l2.6 2.6l-2.6 2.6l-2.6 -2.6zM130.4 225.4l2.6 2.6l-2.6 2.6l-2.6 -2.6zM132.9 225.4l2.6 2.6l-2.6 2.6l-2.6 -2.6zM135 224.9l2.6 2.6l-2.6 2.6l-2.6 -2.6zM138.3 225.3l2.6 2.6l-2.6 2.6l-2.6 -2.6zM140.4 225.7l2.6 2.6l-2.6 2.6l-2.6 -2.6zM122.2 227l2.6 2.6l-2.6 2.6l-2.6 -2.6zM125.1 227.6l2.6 2.6l-2.6 2.6l-2.6 -2.6zM127.4 227.7l2.6 2.6l-2.6 2.6l-2.6 -2.6zM130.2 227.3l2.6 2.6l-2.6 2.6l-2.6 -2.6zM132.3 227.4l2.6 2.6l-2.6 2.6l-2.6 -2.6zM134.5 227.7l2.6 2.6l-2.6 2.6l-2.6 -2.6zM136.6 227l2.6 2.6l-2.6 2.6l-2.6 -2.6zM139.2 227.8l2.6 2.6l-2.6 2.6l-2.6 -2.6zM141.7 227.4l2.6 2.6l-2.6 2.6l-2.6 -2.6zM144.2 227.1l2.6 2.6l-2.6 2.6l-2.6 -2.6zM123.2 229.4l2.6 2.6l-2.6 2.6l-2.6 -2.6zM126.4 229.2l2.6 2.6l-2.6 2.6l-2.6 -2.6zM127.9 229.1l2.6 2.6l-2.6 2.6l-2.6 -2.6zM130.2 229.3l2.6 2.6l-2.6 2.6l-2.6 -2.6zM133.3 230l2.6 2.6l-2.6 2.6l-2.6 -2.6zM135.4 229.4l2.6 2.6l-2.6 2.6l-2.6 -2.6zM137.7 229.4l2.6 2.6l-2.6 2.6l-2.6 -2.6zM140.7 229.6l2.6 2.6l-2.6 2.6l-2.6 -2.6zM142.5 229.1l2.6 2.6l-2.6 2.6l-2.6 -2.6zM145.5 229.8l2.6 2.6l-2.6 2.6l-2.6 -2.6zM148 229.3l2.6 2.6l-2.6 2.6l-2.6 -2.6zM150.1 230.1l2.6 2.6l-2.6 2.6l-2.6 -2.6zM124.9 232.2l2.6 2.6l-2.6 2.6l-2.6 -2.6zM126.8 232.2l2.6 2.6l-2.6 2.6l-2.6 -2.6zM129.1 231.6l2.6 2.6l-2.6 2.6l-2.6 -2.6zM131.4 232l2.6 2.6l-2.6 2.6l-2.6 -2.6zM134.6 232.2l2.6 2.6l-2.6 2.6l-2.6 -2.6zM137.2 232.2l2.6 2.6l-2.6 2.6l-2.6 -2.6zM139.2 232.3l2.6 2.6l-2.6 2.6l-2.6 -2.6zM141.9 231.5l2.6 2.6l-2.6 2.6l-2.6 -2.6zM144.6 231.5l2.6 2.6l-2.6 2.6l-2.6 -2.6zM146 231.2l2.6 2.6l-2.6 2.6l-2.6 -2.6zM148.8 231.3l2.6 2.6l-2.6 2.6l-2.6 -2.6zM151.7 232.2l2.6 2.6l-2.6 2.6l-2.6 -2.6zM125.7 233.3l2.6 2.6l-2.6 2.6l-2.6 -2.6zM128.4 233.4l2.6 2.6l-2.6 2.6l-2.6 -2.6zM130.9 234.1l2.6 2.6l-2.6 2.6l-2.6 -2.6zM132.9 233.7l2.6 2.6l-2.6 2.6l-2.6 -2.6zM136.1 233.7l2.6 2.6l-2.6 2.6l-2.6 -2.6zM137.8 234.2l2.6 2.6l-2.6 2.6l-2.6 -2.6zM140.8 234.2l2.6 2.6l-2.6 2.6l-2.6 -2.6zM143 233.6l2.6 2.6l-2.6 2.6l-2.6 -2.6zM145.4 234.1l2.6 2.6l-2.6 2.6l-2.6 -2.6zM147.8 233.4l2.6 2.6l-2.6 2.6l-2.6 -2.6zM149.8 233.6l2.6 2.6l-2.6 2.6l-2.6 -2.6zM152.7 233.8l2.6 2.6l-2.6 2.6l-2.6 -2.6zM154.9 234.1l2.6 2.6l-2.6 2.6l-2.6 -2.6zM126.7 236l2.6 2.6l-2.6 2.6l-2.6 -2.6zM129.4 235.9l2.6 2.6l-2.6 2.6l-2.6 -2.6zM132.4 235.5l2.6 2.6l-2.6 2.6l-2.6 -2.6zM134.9 235.3l2.6 2.6l-2.6 2.6l-2.6 -2.6zM136.9 235.9l2.6 2.6l-2.6 2.6l-2.6 -2.6zM138.9 235.9l2.6 2.6l-2.6 2.6l-2.6 -2.6zM141.6 235.8l2.6 2.6l-2.6 2.6l-2.6 -2.6zM144.3 235.2l2.6 2.6l-2.6 2.6l-2.6 -2.6zM146.3 236.2l2.6 2.6l-2.6 2.6l-2.6 -2.6zM148.4 236.3l2.6 2.6l-2.6 2.6l-2.6 -2.6zM150.8 236l2.6 2.6l-2.6 2.6l-2.6 -2.6zM153.2 235.8l2.6 2.6l-2.6 2.6l-2.6 -2.6zM155.9 235.3l2.6 2.6l-2.6 2.6l-2.6 -2.6zM131 237.9l2.6 2.6l-2.6 2.6l-2.6 -2.6zM133.4 238l2.6 2.6l-2.6 2.6l-2.6 -2.6zM135.7 237.9l2.6 2.6l-2.6 2.6l-2.6 -2.6zM137.8 238.4l2.6 2.6l-2.6 2.6l-2.6 -2.6zM139.9 238.4l2.6 2.6l-2.6 2.6l-2.6 -2.6zM143.2 237.9l2.6 2.6l-2.6 2.6l-2.6 -2.6zM145.5 238.1l2.6 2.6l-2.6 2.6l-2.6 -2.6zM147.7 237.7l2.6 2.6l-2.6 2.6l-2.6 -2.6zM149.8 237.7l2.6 2.6l-2.6 2.6l-2.6 -2.6zM152.2 238.5l2.6 2.6l-2.6 2.6l-2.6 -2.6zM154.6 237.8l2.6 2.6l-2.6 2.6l-2.6 -2.6zM157.1 238.3l2.6 2.6l-2.6 2.6l-2.6 -2.6zM139.2 240l2.6 2.6l-2.6 2.6l-2.6 -2.6zM141.3 239.7l2.6 2.6l-2.6 2.6l-2.6 -2.6zM143.5 239.6l2.6 2.6l-2.6 2.6l-2.6 -2.6zM146.1 240.4l2.6 2.6l-2.6 2.6l-2.6 -2.6zM148.8 239.5l2.6 2.6l-2.6 2.6l-2.6 -2.6zM151.2 239.5l2.6 2.6l-2.6 2.6l-2.6 -2.6zM153.7 239.9l2.6 2.6l-2.6 2.6l-2.6 -2.6zM156.4 239.7l2.6 2.6l-2.6 2.6l-2.6 -2.6zM148 241.8l2.6 2.6l-2.6 2.6l-2.6 -2.6zM150.6 242.2l2.6 2.6l-2.6 2.6l-2.6 -2.6zM151.9 242.4l2.6 2.6l-2.6 2.6l-2.6 -2.6zM154.5 241.9l2.6 2.6l-2.6 2.6l-2.6 -2.6z"/>
<path fill="none" stroke="#8a8a8a" stroke-width="0.75" d="M97.6 231.3h3.8M99.3 232.8h3.8M103 231.3h3.8M107.3 231.7h3.8M95.8 234.4h3.8M99.3 234.6h3.8M102.1 235.7h3.8M105.6 235.7h3.8M109.1 234.1h3.8M112.8 235.1h3.8M115.2 234.3h3.8M97.4 238h3.8M101 238.3h3.8M104.4 238h3.8M107.4 238h3.8M110 238.7h3.8M113.5 238.3h3.8M118 238.1h3.8M120 238.4h3.8M124.3 237.3h3.8M101.1 240.8h3.8M104.5 241.5h3.8M108.7 240.8h3.8M111.9 241.1h3.8M116.2 240.4h3.8M118.7 240.9h3.8M121.9 240.9h3.8M125.8 240.7h3.8"/>
<path fill="none" stroke="#7a7a7a" stroke-width="0.72" d="M127.8 208.6l2.2 4.1h-4.4zM97.6 213l2.2 4.1h-4.4zM96 219.7l2.2 4.1h-4.4z"/>
<path fill="none" stroke="#1aaeee" stroke-width="0.72" d="M102.7 206a2.1 2.1 0 1 0 4.2 0a2.1 2.1 0 1 0 -4.2 0M107.1 203.9l2.2 4.1h-4.4zM102.6 206.1l2.2 4.1h-4.4zM105.5 206.2l2.2 4.1h-4.4zM106.5 208.4a2.1 2.1 0 1 0 4.2 0a2.1 2.1 0 1 0 -4.2 0M110.2 208.5a2.1 2.1 0 1 0 4.2 0a2.1 2.1 0 1 0 -4.2 0M102.3 211.2a2.1 2.1 0 1 0 4.2 0a2.1 2.1 0 1 0 -4.2 0M108.1 208l2.2 4.1h-4.4zM108.4 211.3a2.1 2.1 0 1 0 4.2 0a2.1 2.1 0 1 0 -4.2 0M113.8 208.4l2.2 4.1h-4.4zM114.2 211.3a2.1 2.1 0 1 0 4.2 0a2.1 2.1 0 1 0 -4.2 0M103.4 213.7a2.1 2.1 0 1 0 4.2 0a2.1 2.1 0 1 0 -4.2 0M107.3 213a2.1 2.1 0 1 0 4.2 0a2.1 2.1 0 1 0 -4.2 0M111.8 210.8l2.2 4.1h-4.4zM113 213.2a2.1 2.1 0 1 0 4.2 0a2.1 2.1 0 1 0 -4.2 0M116.4 213.9a2.1 2.1 0 1 0 4.2 0a2.1 2.1 0 1 0 -4.2 0M120.8 211.6l2.2 4.1h-4.4zM104 213.2l2.2 4.1h-4.4zM107.7 214l2.2 4.1h-4.4zM110.9 214.3l2.2 4.1h-4.4zM111.8 215.7a2.1 2.1 0 1 0 4.2 0a2.1 2.1 0 1 0 -4.2 0M114.7 216.5a2.1 2.1 0 1 0 4.2 0a2.1 2.1 0 1 0 -4.2 0M119 213.7l2.2 4.1h-4.4zM108.6 215.8l2.2 4.1h-4.4zM109.9 218.8a2.1 2.1 0 1 0 4.2 0a2.1 2.1 0 1 0 -4.2 0M115.6 215.8l2.2 4.1h-4.4zM115.9 219.2a2.1 2.1 0 1 0 4.2 0a2.1 2.1 0 1 0 -4.2 0M100.2 215.5l2.2 4.1h-4.4zM103.3 214.6l2.2 4.1h-4.4zM103.8 217.4a2.1 2.1 0 1 0 4.2 0a2.1 2.1 0 1 0 -4.2 0M107.6 215.5l2.2 4.1h-4.4zM108.3 217a2.1 2.1 0 1 0 4.2 0a2.1 2.1 0 1 0 -4.2 0M113.2 215l2.2 4.1h-4.4zM113.3 217.5a2.1 2.1 0 1 0 4.2 0a2.1 2.1 0 1 0 -4.2 0M118.9 215l2.2 4.1h-4.4zM121.5 215.1l2.2 4.1h-4.4zM124.1 214.6l2.2 4.1h-4.4zM124 217.2a2.1 2.1 0 1 0 4.2 0a2.1 2.1 0 1 0 -4.2 0M99 220.1a2.1 2.1 0 1 0 4.2 0a2.1 2.1 0 1 0 -4.2 0M104.4 216.7l2.2 4.1h-4.4zM104.8 219.4a2.1 2.1 0 1 0 4.2 0a2.1 2.1 0 1 0 -4.2 0M106.9 219.1a2.1 2.1 0 1 0 4.2 0a2.1 2.1 0 1 0 -4.2 0M112 216.7l2.2 4.1h-4.4zM112.6 219.5a2.1 2.1 0 1 0 4.2 0a2.1 2.1 0 1 0 -4.2 0M116.8 217.6l2.2 4.1h-4.4zM117.1 219.1a2.1 2.1 0 1 0 4.2 0a2.1 2.1 0 1 0 -4.2 0M122.8 216.9l2.2 4.1h-4.4zM124.9 217.3l2.2 4.1h-4.4zM125.4 219.5a2.1 2.1 0 1 0 4.2 0a2.1 2.1 0 1 0 -4.2 0M98.2 221.7a2.1 2.1 0 1 0 4.2 0a2.1 2.1 0 1 0 -4.2 0M102.4 219.8l2.2 4.1h-4.4zM105.2 218.9l2.2 4.1h-4.4zM108 219.8l2.2 4.1h-4.4zM110.9 219.4l2.2 4.1h-4.4zM113.3 219.1l2.2 4.1h-4.4zM113.9 221.6a2.1 2.1 0 1 0 4.2 0a2.1 2.1 0 1 0 -4.2 0M118 219l2.2 4.1h-4.4zM118.5 222a2.1 2.1 0 1 0 4.2 0a2.1 2.1 0 1 0 -4.2 0M122.1 222.1a2.1 2.1 0 1 0 4.2 0a2.1 2.1 0 1 0 -4.2 0M126 219l2.2 4.1h-4.4zM127.3 221.6a2.1 2.1 0 1 0 4.2 0a2.1 2.1 0 1 0 -4.2 0M101.2 221.8l2.2 4.1h-4.4zM104.3 221.7l2.2 4.1h-4.4zM104.6 223.8a2.1 2.1 0 1 0 4.2 0a2.1 2.1 0 1 0 -4.2 0M107.3 224a2.1 2.1 0 1 0 4.2 0a2.1 2.1 0 1 0 -4.2 0M112.2 221.6l2.2 4.1h-4.4zM114.4 222.3l2.2 4.1h-4.4zM114.6 224.3a2.1 2.1 0 1 0 4.2 0a2.1 2.1 0 1 0 -4.2 0M119.7 222.1l2.2 4.1h-4.4zM120.5 224.1a2.1 2.1 0 1 0 4.2 0a2.1 2.1 0 1 0 -4.2 0M123 223.7a2.1 2.1 0 1 0 4.2 0a2.1 2.1 0 1 0 -4.2 0M127 222l2.2 4.1h-4.4zM127.8 223.5a2.1 2.1 0 1 0 4.2 0a2.1 2.1 0 1 0 -4.2 0M131.1 224.1a2.1 2.1 0 1 0 4.2 0a2.1 2.1 0 1 0 -4.2 0M97.6 226.3a2.1 2.1 0 1 0 4.2 0a2.1 2.1 0 1 0 -4.2 0M100.4 226.7a2.1 2.1 0 1 0 4.2 0a2.1 2.1 0 1 0 -4.2 0M103.1 226.8a2.1 2.1 0 1 0 4.2 0a2.1 2.1 0 1 0 -4.2 0M108.2 223.4l2.2 4.1h-4.4zM110.6 224.5l2.2 4.1h-4.4zM113.5 223.5l2.2 4.1h-4.4zM113.6 226a2.1 2.1 0 1 0 4.2 0a2.1 2.1 0 1 0 -4.2 0M115.9 226.4a2.1 2.1 0 1 0 4.2 0a2.1 2.1 0 1 0 -4.2 0M121.3 223.6l2.2 4.1h-4.4zM121.7 226.7a2.1 2.1 0 1 0 4.2 0a2.1 2.1 0 1 0 -4.2 0M126.8 223.6l2.2 4.1h-4.4zM126.3 226.8a2.1 2.1 0 1 0 4.2 0a2.1 2.1 0 1 0 -4.2 0M129.2 225.9a2.1 2.1 0 1 0 4.2 0a2.1 2.1 0 1 0 -4.2 0M132.4 226a2.1 2.1 0 1 0 4.2 0a2.1 2.1 0 1 0 -4.2 0M101.9 226.4l2.2 4.1h-4.4zM101.9 228.5a2.1 2.1 0 1 0 4.2 0a2.1 2.1 0 1 0 -4.2 0M106.5 226.6l2.2 4.1h-4.4zM109.1 225.9l2.2 4.1h-4.4zM110.3 228.2a2.1 2.1 0 1 0 4.2 0a2.1 2.1 0 1 0 -4.2 0M112.4 228.5a2.1 2.1 0 1 0 4.2 0a2.1 2.1 0 1 0 -4.2 0M114.5 228.3a2.1 2.1 0 1 0 4.2 0a2.1 2.1 0 1 0 -4.2 0M120.1 226.8l2.2 4.1h-4.4zM122.2 226.2l2.2 4.1h-4.4zM124.5 226.2l2.2 4.1h-4.4zM127.4 226.2l2.2 4.1h-4.4zM130 226l2.2 4.1h-4.4zM133.3 226.5l2.2 4.1h-4.4zM133.1 228a2.1 2.1 0 1 0 4.2 0a2.1 2.1 0 1 0 -4.2 0M102.4 228l2.2 4.1h-4.4zM103 230.9a2.1 2.1 0 1 0 4.2 0a2.1 2.1 0 1 0 -4.2 0M106 230.3a2.1 2.1 0 1 0 4.2 0a2.1 2.1 0 1 0 -4.2 0M109.1 231a2.1 2.1 0 1 0 4.2 0a2.1 2.1 0 1 0 -4.2 0M111.5 231.2a2.1 2.1 0 1 0 4.2 0a2.1 2.1 0 1 0 -4.2 0M113.6 231.2a2.1 2.1 0 1 0 4.2 0a2.1 2.1 0 1 0 -4.2 0M117 231.3a2.1 2.1 0 1 0 4.2 0a2.1 2.1 0 1 0 -4.2 0M118.5 231.2a2.1 2.1 0 1 0 4.2 0a2.1 2.1 0 1 0 -4.2 0M122.2 230.3a2.1 2.1 0 1 0 4.2 0a2.1 2.1 0 1 0 -4.2 0M126.7 228.8l2.2 4.1h-4.4zM128.3 228.7l2.2 4.1h-4.4zM129.7 231.1a2.1 2.1 0 1 0 4.2 0a2.1 2.1 0 1 0 -4.2 0M104.2 233.6a2.1 2.1 0 1 0 4.2 0a2.1 2.1 0 1 0 -4.2 0M106.8 232.5a2.1 2.1 0 1 0 4.2 0a2.1 2.1 0 1 0 -4.2 0M110.4 233a2.1 2.1 0 1 0 4.2 0a2.1 2.1 0 1 0 -4.2 0M114.2 230.6l2.2 4.1h-4.4zM117.3 230.4l2.2 4.1h-4.4zM118.2 233.2a2.1 2.1 0 1 0 4.2 0a2.1 2.1 0 1 0 -4.2 0M120.2 232.9a2.1 2.1 0 1 0 4.2 0a2.1 2.1 0 1 0 -4.2 0M122.4 233.6a2.1 2.1 0 1 0 4.2 0a2.1 2.1 0 1 0 -4.2 0M127.4 231.2l2.2 4.1h-4.4zM130.2 230.7l2.2 4.1h-4.4zM110.8 235.3a2.1 2.1 0 1 0 4.2 0a2.1 2.1 0 1 0 -4.2 0M115.4 232.9l2.2 4.1h-4.4zM118.6 233.5l2.2 4.1h-4.4zM118.7 234.9a2.1 2.1 0 1 0 4.2 0a2.1 2.1 0 1 0 -4.2 0M100.8 186.6a2 2 0 1 0 4 0a2 2 0 1 0 -4 0M102.5 185h4v4h-4zM104.6 187.2a2 2 0 1 0 4 0a2 2 0 1 0 -4 0M107.4 186.5a2 2 0 1 0 4 0a2 2 0 1 0 -4 0M109.6 184.9h4v4h-4zM111.7 185.3h4v4h-4zM114.2 186.8a2 2 0 1 0 4 0a2 2 0 1 0 -4 0M116.3 187.2a2 2 0 1 0 4 0a2 2 0 1 0 -4 0M118.6 186.5a2 2 0 1 0 4 0a2 2 0 1 0 -4 0M102.1 186.6h4v4h-4zM103.6 188.9a2 2 0 1 0 4 0a2 2 0 1 0 -4 0M106.4 187.2h4v4h-4zM108.2 189.1a2 2 0 1 0 4 0a2 2 0 1 0 -4 0M110.1 187.2h4v4h-4zM112.5 188.8a2 2 0 1 0 4 0a2 2 0 1 0 -4 0M114.6 186.4h4v4h-4zM116.7 186.9h4v4h-4zM119.4 189.1a2 2 0 1 0 4 0a2 2 0 1 0 -4 0M100.9 188.6h4v4h-4zM103.1 188.4h4v4h-4zM105.3 188.5h4v4h-4zM107.6 188.6h4v4h-4zM109.3 188.7h4v4h-4zM111.2 190.3a2 2 0 1 0 4 0a2 2 0 1 0 -4 0M113.8 190.9a2 2 0 1 0 4 0a2 2 0 1 0 -4 0M115.6 188.6h4v4h-4zM118.1 191a2 2 0 1 0 4 0a2 2 0 1 0 -4 0M102.1 192.3a2 2 0 1 0 4 0a2 2 0 1 0 -4 0M103.9 192.3a2 2 0 1 0 4 0a2 2 0 1 0 -4 0M106.4 191h4v4h-4zM108.5 190.7h4v4h-4zM110.1 192.3a2 2 0 1 0 4 0a2 2 0 1 0 -4 0M112.5 190.2h4v4h-4zM114.6 193a2 2 0 1 0 4 0a2 2 0 1 0 -4 0M117 193a2 2 0 1 0 4 0a2 2 0 1 0 -4 0M119.5 190.9h4v4h-4zM101 194.7a2 2 0 1 0 4 0a2 2 0 1 0 -4 0M102.7 194.5a2 2 0 1 0 4 0a2 2 0 1 0 -4 0M104.9 194.1a2 2 0 1 0 4 0a2 2 0 1 0 -4 0M106.8 194.6a2 2 0 1 0 4 0a2 2 0 1 0 -4 0M109.4 195a2 2 0 1 0 4 0a2 2 0 1 0 -4 0M111.7 192.8h4v4h-4zM113.8 194.6a2 2 0 1 0 4 0a2 2 0 1 0 -4 0M116.3 192.1h4v4h-4zM117.8 194.5a2 2 0 1 0 4 0a2 2 0 1 0 -4 0M101.5 196.4a2 2 0 1 0 4 0a2 2 0 1 0 -4 0M103.5 194.1h4v4h-4zM105.7 194.5h4v4h-4zM107.9 194h4v4h-4zM110.7 194.4h4v4h-4zM112.3 194.8h4v4h-4zM114.9 194.8h4v4h-4zM117.2 196.5a2 2 0 1 0 4 0a2 2 0 1 0 -4 0M100.5 196h4v4h-4zM103.2 198.3a2 2 0 1 0 4 0a2 2 0 1 0 -4 0M104.8 196h4v4h-4zM107.3 198.8a2 2 0 1 0 4 0a2 2 0 1 0 -4 0M109.3 196.6h4v4h-4zM111.8 198.3a2 2 0 1 0 4 0a2 2 0 1 0 -4 0M113.9 198.5a2 2 0 1 0 4 0a2 2 0 1 0 -4 0M116.4 197.9a2 2 0 1 0 4 0a2 2 0 1 0 -4 0M101.4 200a2 2 0 1 0 4 0a2 2 0 1 0 -4 0M103.5 198h4v4h-4zM106 198h4v4h-4zM108.3 197.8h4v4h-4zM110.9 200.4a2 2 0 1 0 4 0a2 2 0 1 0 -4 0M112.3 200a2 2 0 1 0 4 0a2 2 0 1 0 -4 0M115.1 197.9h4v4h-4zM117.3 199.8a2 2 0 1 0 4 0a2 2 0 1 0 -4 0M102.9 202.3a2 2 0 1 0 4 0a2 2 0 1 0 -4 0M105 200.4h4v4h-4zM107.6 200.6h4v4h-4zM109 202.1a2 2 0 1 0 4 0a2 2 0 1 0 -4 0M111.3 202.4a2 2 0 1 0 4 0a2 2 0 1 0 -4 0M113.5 199.8h4v4h-4zM103.5 201.6h4v4h-4zM105.9 201.8h4v4h-4zM108.3 204.3a2 2 0 1 0 4 0a2 2 0 1 0 -4 0M110.7 201.9h4v4h-4zM112.5 202.3h4v4h-4zM101.1 186.8a2 2 0 1 0 4 0a2 2 0 1 0 -4 0M112.8 186.1a2 2 0 1 0 4 0a2 2 0 1 0 -4 0M117.2 185.3a2 2 0 1 0 4 0a2 2 0 1 0 -4 0M99.5 200a2 2 0 1 0 4 0a2 2 0 1 0 -4 0M103 207a2 2 0 1 0 4 0a2 2 0 1 0 -4 0"/>
<path fill="none" stroke="#1aaeee" stroke-width="0.8" d="M125.3 232.9h4.8M127.7 230.5v4.8M129.5 233h4.8M131.9 230.6v4.8M131.5 233.6h4.8M133.9 231.2v4.8M135.3 233.1h4.8M137.7 230.7v4.8M138.3 234.4h4.8M140.7 232v4.8M140.8 233h4.8M143.2 230.6v4.8M143.7 233.1h4.8M146.1 230.7v4.8M123.7 237.4h4.8M126.1 235v4.8M127.3 237.4h4.8M129.7 235v4.8M130 237.3h4.8M132.4 234.9v4.8M133.9 236.8h4.8M136.3 234.4v4.8M137.4 235.9h4.8M139.8 233.5v4.8M139.5 236.8h4.8M141.9 234.4v4.8M142.4 235.3h4.8M144.8 232.9v4.8M146.9 236.7h4.8M149.3 234.3v4.8M125.6 239.1h4.8M128 236.7v4.8M130.2 238.6h4.8M132.6 236.2v4.8M131.5 238.9h4.8M133.9 236.5v4.8M134.7 238.8h4.8M137.1 236.4v4.8M137.5 239.6h4.8M139.9 237.2v4.8M142.3 238.8h4.8M144.7 236.4v4.8M144.5 238.5h4.8M146.9 236.1v4.8M148.8 239.9h4.8M151.2 237.5v4.8M151.3 238.3h4.8M153.7 235.9v4.8M123.9 242.3h4.8M126.3 239.9v4.8M127 242.2h4.8M129.4 239.8v4.8M130.6 240.7h4.8M133 238.3v4.8M133.2 242.6h4.8M135.6 240.2v4.8M136.6 242.1h4.8M139 239.7v4.8M140.7 241.5h4.8M143.1 239.1v4.8M143.2 242.5h4.8M145.6 240.1v4.8M146.8 241.8h4.8M149.2 239.4v4.8M149.5 241.6h4.8M151.9 239.2v4.8M152.3 242.1h4.8M154.7 239.7v4.8M125.6 245.2h4.8M128 242.8v4.8M128.8 243.8h4.8M131.2 241.4v4.8M133.4 243.4h4.8M135.8 241v4.8M135.2 244.5h4.8M137.6 242.1v4.8M138.4 245.1h4.8M140.8 242.7v4.8M142 244.4h4.8M144.4 242v4.8M143.7 245.5h4.8M146.1 243.1v4.8M147.6 244.1h4.8M150 241.7v4.8M150.3 243.8h4.8M152.7 241.4v4.8M126.8 246.3h4.8M129.2 243.9v4.8M131.2 246.7h4.8M133.6 244.3v4.8M133.9 247.4h4.8M136.3 245v4.8M136.1 247.7h4.8M138.5 245.3v4.8M139.4 247.8h4.8M141.8 245.4v4.8M144.1 247h4.8M146.5 244.6v4.8M145.9 247.1h4.8M148.3 244.7v4.8M150.3 248.2h4.8M152.7 245.8v4.8M153 246.9h4.8M155.4 244.5v4.8M129 250.2h4.8M131.4 247.8v4.8M132 250.4h4.8M134.4 248v4.8M135.1 250h4.8M137.5 247.6v4.8M138.6 249.8h4.8M141 247.4v4.8M142.4 250.7h4.8M144.8 248.3v4.8M145.4 250.1h4.8M147.8 247.7v4.8M147.6 249.6h4.8M150 247.2v4.8M150.9 250.6h4.8M153.3 248.2v4.8M131.3 251.6h4.8M133.7 249.2v4.8M133.3 251.5h4.8M135.7 249.1v4.8M136.6 253.2h4.8M139 250.8v4.8M140.4 251.4h4.8M142.8 249v4.8M143.8 252.7h4.8M146.2 250.3v4.8M146.2 251.4h4.8M148.6 249v4.8M148.3 251.5h4.8M150.7 249.1v4.8M136.3 255h4.8M138.7 252.6v4.8M137.6 255.8h4.8M140 253.4v4.8M141.6 254.8h4.8M144 252.4v4.8M144.5 254.5h4.8M146.9 252.1v4.8M146.8 255.8h4.8M149.2 253.4v4.8M137.8 257.5h4.8M140.2 255.1v4.8M140.3 258.7h4.8M142.7 256.3v4.8M142.2 258.9h4.8M144.6 256.5v4.8M145.5 257.6h4.8M147.9 255.2v4.8"/>
<path fill="none" stroke="#b4b4b4" stroke-width="0.72" d="M101 201.1l2.2 4.1h-4.4zM98.5 205.9l2.2 4.1h-4.4zM103.5 205.6l2.2 4.1h-4.4zM101.3 209l2.2 4.1h-4.4zM105.9 209.2l2.2 4.1h-4.4zM103.8 213.2l2.2 4.1h-4.4zM101.7 216.7l2.2 4.1h-4.4zM102.9 220.1l2.2 4.1h-4.4zM106.3 203.6l2.2 4.1h-4.4zM109.9 203.9l2.2 4.1h-4.4zM114.9 204.6l2.2 4.1h-4.4zM104.6 207.3l2.2 4.1h-4.4zM108.1 207.2l2.2 4.1h-4.4zM111.9 208l2.2 4.1h-4.4zM115.8 207.5l2.2 4.1h-4.4zM106.3 211.7l2.2 4.1h-4.4zM109.9 211.7l2.2 4.1h-4.4zM115 210.8l2.2 4.1h-4.4zM119.2 211.9l2.2 4.1h-4.4zM103.7 214.7l2.2 4.1h-4.4zM108.9 215l2.2 4.1h-4.4zM111.7 214.6l2.2 4.1h-4.4zM117.2 215.4l2.2 4.1h-4.4zM110.8 219.2l2.2 4.1h-4.4zM121.4 228l2.6 2.6l-2.6 2.6l-2.6 -2.6zM125 227.5l2.6 2.6l-2.6 2.6l-2.6 -2.6zM127.1 227.3l2.6 2.6l-2.6 2.6l-2.6 -2.6zM130 227.3l2.6 2.6l-2.6 2.6l-2.6 -2.6zM133 228l2.6 2.6l-2.6 2.6l-2.6 -2.6zM137.2 228.2l2.6 2.6l-2.6 2.6l-2.6 -2.6zM122.8 230.4l2.6 2.6l-2.6 2.6l-2.6 -2.6zM126.3 230.3l2.6 2.6l-2.6 2.6l-2.6 -2.6zM128.4 231l2.6 2.6l-2.6 2.6l-2.6 -2.6zM132.2 230l2.6 2.6l-2.6 2.6l-2.6 -2.6zM134.4 230l2.6 2.6l-2.6 2.6l-2.6 -2.6zM138.6 230l2.6 2.6l-2.6 2.6l-2.6 -2.6zM124.7 233.8l2.6 2.6l-2.6 2.6l-2.6 -2.6zM126.8 233l2.6 2.6l-2.6 2.6l-2.6 -2.6zM130.5 233.7l2.6 2.6l-2.6 2.6l-2.6 -2.6zM133.1 232.8l2.6 2.6l-2.6 2.6l-2.6 -2.6zM136.1 232.5l2.6 2.6l-2.6 2.6l-2.6 -2.6zM139.7 233.6l2.6 2.6l-2.6 2.6l-2.6 -2.6zM142.4 232.5l2.6 2.6l-2.6 2.6l-2.6 -2.6zM129.3 236.1l2.6 2.6l-2.6 2.6l-2.6 -2.6zM132.2 235.5l2.6 2.6l-2.6 2.6l-2.6 -2.6zM135.5 235.9l2.6 2.6l-2.6 2.6l-2.6 -2.6zM138.1 235.8l2.6 2.6l-2.6 2.6l-2.6 -2.6zM140.6 235.7l2.6 2.6l-2.6 2.6l-2.6 -2.6zM144.4 236l2.6 2.6l-2.6 2.6l-2.6 -2.6z"/>
<path fill="none" stroke="#999" stroke-width="0.75" d="M97.2 236.9h3.8M101.4 236.4h3.8M106.4 237h3.8M110 236.5h3.8M99.1 239.8h3.8M103.8 240.6h3.8M108.2 240.4h3.8M112 239.3h3.8M116.8 240.6h3.8M119.9 239.1h3.8"/>
<path fill="none" stroke="#f6b90e" stroke-width="0.72" d="M119.1 186.4a2.1 2.1 0 1 0 4.2 0a2.1 2.1 0 1 0 -4.2 0M124.6 183.5l2.4 2.4l-2.4 2.4l-2.4 -2.4zM126.8 184.1l2.4 2.4l-2.4 2.4l-2.4 -2.4zM119.3 186.3l2.4 2.4l-2.4 2.4l-2.4 -2.4zM120.8 188.6a2.1 2.1 0 1 0 4.2 0a2.1 2.1 0 1 0 -4.2 0M124 188.9a2.1 2.1 0 1 0 4.2 0a2.1 2.1 0 1 0 -4.2 0M126.3 189.3a2.1 2.1 0 1 0 4.2 0a2.1 2.1 0 1 0 -4.2 0M129.9 186.3h4.2v4.2h-4.2zM119.3 191.8a2.1 2.1 0 1 0 4.2 0a2.1 2.1 0 1 0 -4.2 0M122.3 189.6h4.2v4.2h-4.2zM125.6 191.1a2.1 2.1 0 1 0 4.2 0a2.1 2.1 0 1 0 -4.2 0M128.7 189.6h4.2v4.2h-4.2zM133.2 189.3l2.4 2.4l-2.4 2.4l-2.4 -2.4zM122.4 192l2.4 2.4l-2.4 2.4l-2.4 -2.4zM123.8 192.2h4.2v4.2h-4.2zM126.3 192h4.2v4.2h-4.2zM129.6 194.5a2.1 2.1 0 1 0 4.2 0a2.1 2.1 0 1 0 -4.2 0M125.6 195.1h4.2v4.2h-4.2z"/>
<path fill="none" stroke="#f6b90e" stroke-width="0.75" d="M111.4 190.6h4v4h-4zM122.7 206.2l2.2 4.1h-4.4zM126.3 217.1l2.2 4.1h-4.4zM123.4 223l2.2 4.1h-4.4zM132.9 218.6l2.2 4.1h-4.4zM121 218.7l2.2 4.1h-4.4zM125 220.2l2.2 4.1h-4.4zM129 221.7l2.2 4.1h-4.4zM135 223.7l2.2 4.1h-4.4zM138 225.7l2.2 4.1h-4.4zM141 227.7l2.2 4.1h-4.4zM130 211.7l2.2 4.1h-4.4zM149.1 214.8l2.6 2.6l-2.6 2.6l-2.6 -2.6zM153.5 221.1l2.6 2.6l-2.6 2.6l-2.6 -2.6zM164.5 229.4l2.6 2.6l-2.6 2.6l-2.6 -2.6zM140.4 222.1l2.6 2.6l-2.6 2.6l-2.6 -2.6zM143 226.4l2.6 2.6l-2.6 2.6l-2.6 -2.6zM146 228.4l2.6 2.6l-2.6 2.6l-2.6 -2.6z"/>
<path fill="none" stroke="#f6b90e" stroke-width="1" d="M142.7 202.1h4M159.5 205h4M136.9 210.1h4M141.7 212.8h4M133.3 215.3h4"/>
<path fill="none" stroke="#f6b90e" stroke-width="0.8" d="M166.4 233.1h4.8M168.8 230.7v4.8M174 240.5h4.8M176.4 238.1v4.8M158.4 249.6h4.8M160.8 247.2v4.8M151.8 245.2h4.8M154.2 242.8v4.8M135.8 254.7h4.8M138.2 252.3v4.8M149.6 241h4.8M152 238.6v4.8M154.6 247h4.8M157 244.6v4.8"/>
<path fill="none" stroke="#7a7a7a" stroke-width="0.75" d="M121.9 253.2h4.8M124.3 250.8v4.8M156.9 252.5h4.8M159.3 250.1v4.8M153.3 238.6h4.8M155.7 236.2v4.8"/>
<path fill="none" stroke="#ee1c25" stroke-width="1.2" d="M140.6 188.4h4v4h-4zM142.7 192.6a2 2 0 1 0 4 0a2 2 0 1 0 -4 0M155.3 254.8l2.3 4.3h-4.6zM149.9 264.7l2.8 2.8l-2.8 2.8l-2.8 -2.8z"/>
<path fill="none" stroke="#ee1c25" stroke-width="1.6" d="M134.2 218.6h4.4"/>
<path fill="none" stroke="#ee1c25" stroke-width="1.4" d="M163.6 264.9h4.6M165.9 262.6v4.6"/>
</g>
<g clip-path="url(#clipD2)">
<path fill="none" stroke="#1aaeee" stroke-width="0.72" d="M253.9 192.6h4.4M256.1 190.4v4.4M259.4 192.9h4.4M261.6 190.7v4.4M263.3 193.1h4.4M265.5 190.9v4.4M269 192.6h4.4M271.2 190.4v4.4M246.9 195.2l4.4 4.4M246.9 199.6l4.4 -4.4M250.8 196h4.4M253 193.8v4.4M256.8 196.5h4.4M259 194.3v4.4M261.9 193.8l4.4 4.4M261.9 198.2l4.4 -4.4M267.4 193l4.4 4.4M267.4 197.4l4.4 -4.4M271.8 196h4.4M274 193.8v4.4M275.2 196.8h4.4M277.4 194.6v4.4M237.7 200h4.4M239.9 197.8v4.4M243.4 199.8h4.4M245.6 197.6v4.4M248 199.6h4.4M250.2 197.4v4.4M254.6 199.7h4.4M256.8 197.5v4.4M258 199.6h4.4M260.2 197.4v4.4M264.8 200.8h4.4M267 198.6v4.4M269.6 201.8h4.4M271.8 199.6v4.4M273.8 198.2l4.4 4.4M273.8 202.6l4.4 -4.4M278.5 197.9l4.4 4.4M278.5 202.3l4.4 -4.4M284 201.8h4.4M286.2 199.6v4.4M241.3 203.4l4.4 4.4M241.3 207.8l4.4 -4.4M247.2 205.8h4.4M249.4 203.6v4.4M251.7 202.9l4.4 4.4M251.7 207.3l4.4 -4.4M255.3 204.7h4.4M257.5 202.5v4.4M262.1 204.9h4.4M264.3 202.7v4.4M266.7 204.4h4.4M268.9 202.2v4.4M271.5 204.3h4.4M273.7 202.1v4.4M277 203.5l4.4 4.4M277 207.9l4.4 -4.4M280.1 203.2l4.4 4.4M280.1 207.6l4.4 -4.4M237.8 208.2l4.4 4.4M237.8 212.6l4.4 -4.4M243 206.2l4.4 4.4M243 210.6l4.4 -4.4M249.7 207.4l4.4 4.4M249.7 211.8l4.4 -4.4M252.6 209.2h4.4M254.8 207v4.4M259.6 206.3l4.4 4.4M259.6 210.7l4.4 -4.4M264.4 206.6l4.4 4.4M264.4 211l4.4 -4.4M268.7 209.1h4.4M270.9 206.9v4.4M272.7 209.1h4.4M274.9 206.9v4.4M278.9 209.6h4.4M281.1 207.4v4.4M283.9 206.3l4.4 4.4M283.9 210.7l4.4 -4.4M236.6 210.9l4.4 4.4M236.6 215.3l4.4 -4.4M242.3 210.5l4.4 4.4M242.3 214.9l4.4 -4.4M247 212.7h4.4M249.2 210.5v4.4M251.5 211.1l4.4 4.4M251.5 215.5l4.4 -4.4M256.2 211.9l4.4 4.4M256.2 216.3l4.4 -4.4M262 212.5h4.4M264.2 210.3v4.4M267.2 211.8l4.4 4.4M267.2 216.2l4.4 -4.4M270.3 214.1h4.4M272.5 211.9v4.4M277 213.3h4.4M279.2 211.1v4.4M282.2 210.6l4.4 4.4M282.2 215l4.4 -4.4M286.2 210.8l4.4 4.4M286.2 215.2l4.4 -4.4M239.6 217.5h4.4M241.8 215.3v4.4M243.2 217l4.4 4.4M243.2 221.4l4.4 -4.4M248.6 215.7l4.4 4.4M248.6 220.1l4.4 -4.4M254.3 215l4.4 4.4M254.3 219.4l4.4 -4.4M259.5 218.4h4.4M261.7 216.2v4.4M263.8 216.5l4.4 4.4M263.8 220.9l4.4 -4.4M269.7 217h4.4M271.9 214.8v4.4M274.9 215.8l4.4 4.4M274.9 220.2l4.4 -4.4M279.5 216.2l4.4 4.4M279.5 220.6l4.4 -4.4M284.9 216.4l4.4 4.4M284.9 220.8l4.4 -4.4M235.7 221.5h4.4M237.9 219.3v4.4M241.1 219.5l4.4 4.4M241.1 223.9l4.4 -4.4M245.7 220.2l4.4 4.4M245.7 224.6l4.4 -4.4M251.3 222.1h4.4M253.5 219.9v4.4M256.9 221.5h4.4M259.1 219.3v4.4M261.2 222.2h4.4M263.4 220v4.4M266.6 221l4.4 4.4M266.6 225.4l4.4 -4.4M271.5 218.9l4.4 4.4M271.5 223.3l4.4 -4.4M276.5 222h4.4M278.7 219.8v4.4M281.1 222.5h4.4M283.3 220.3v4.4M238.1 227.3h4.4M240.3 225.1v4.4M243.5 224.1l4.4 4.4M243.5 228.5l4.4 -4.4M248.9 225.6h4.4M251.1 223.4v4.4M253.4 225.6l4.4 4.4M253.4 230l4.4 -4.4M257.9 224.2l4.4 4.4M257.9 228.6l4.4 -4.4M264.4 226.6h4.4M266.6 224.4v4.4M269.1 225.3l4.4 4.4M269.1 229.7l4.4 -4.4M274.6 224.3l4.4 4.4M274.6 228.7l4.4 -4.4M278.4 223.3l4.4 4.4M278.4 227.7l4.4 -4.4M241.9 230.1h4.4M244.1 227.9v4.4M246.2 230.1h4.4M248.4 227.9v4.4M251.9 230.9h4.4M254.1 228.7v4.4M255.4 229l4.4 4.4M255.4 233.4l4.4 -4.4M260.3 230.6h4.4M262.5 228.4v4.4M265.8 229.4l4.4 4.4M265.8 233.8l4.4 -4.4M271.5 230.3h4.4M273.7 228.1v4.4M275.9 228.6l4.4 4.4M275.9 233l4.4 -4.4M244.6 232.7l4.4 4.4M244.6 237.1l4.4 -4.4M249.4 232.1l4.4 4.4M249.4 236.5l4.4 -4.4M252.9 233.8l4.4 4.4M252.9 238.2l4.4 -4.4M258.5 234.2h4.4M260.7 232v4.4M263.1 235.1h4.4M265.3 232.9v4.4M267.8 235h4.4M270 232.8v4.4M275 234.3h4.4M277.2 232.1v4.4M251 239.2h4.4M253.2 237v4.4M255.5 238.5l4.4 4.4M255.5 242.9l4.4 -4.4M260.8 236.7l4.4 4.4M260.8 241.1l4.4 -4.4"/>
<path fill="none" stroke="#b4b4b4" stroke-width="0.72" d="M239.4 201.6l2.4 4.5h-4.8zM243.2 202.5l2.4 4.5h-4.8zM243.7 204.2a2.3 2.3 0 1 0 4.6 0a2.3 2.3 0 1 0 -4.6 0M247.1 202.9l4.6 4.6M247.1 207.5l4.6 -4.6M252.4 202.6l2.4 4.5h-4.8zM235.7 204.4l2.4 4.5h-4.8zM236.4 205.2l4.6 4.6M236.4 209.8l4.6 -4.6M241.7 205.8l2.4 4.5h-4.8zM242 204.5l4.6 4.6M242 209.1l4.6 -4.6M248.9 204.9l2.4 4.5h-4.8zM248.6 207.3a2.3 2.3 0 1 0 4.6 0a2.3 2.3 0 1 0 -4.6 0M252.1 208.3a2.3 2.3 0 1 0 4.6 0a2.3 2.3 0 1 0 -4.6 0M231 207.6l4.6 4.6M231 212.2l4.6 -4.6M234.8 210.4a2.3 2.3 0 1 0 4.6 0a2.3 2.3 0 1 0 -4.6 0M238.6 208.6l4.6 4.6M238.6 213.2l4.6 -4.6M240.9 207.5l4.6 4.6M240.9 212.1l4.6 -4.6M244.8 211.1a2.3 2.3 0 1 0 4.6 0a2.3 2.3 0 1 0 -4.6 0M246.7 210.7a2.3 2.3 0 1 0 4.6 0a2.3 2.3 0 1 0 -4.6 0M251.3 210.6a2.3 2.3 0 1 0 4.6 0a2.3 2.3 0 1 0 -4.6 0M253.4 210.8a2.3 2.3 0 1 0 4.6 0a2.3 2.3 0 1 0 -4.6 0M230.3 212.6a2.3 2.3 0 1 0 4.6 0a2.3 2.3 0 1 0 -4.6 0M235.6 210.1l2.4 4.5h-4.8zM237.9 210.3l2.4 4.5h-4.8zM239.2 212.9a2.3 2.3 0 1 0 4.6 0a2.3 2.3 0 1 0 -4.6 0M242.9 211.3l4.6 4.6M242.9 215.9l4.6 -4.6M246.6 211.5l4.6 4.6M246.6 216.1l4.6 -4.6M249.9 213.5a2.3 2.3 0 1 0 4.6 0a2.3 2.3 0 1 0 -4.6 0M252 210.3l4.6 4.6M252 214.9l4.6 -4.6M228.5 215.9a2.3 2.3 0 1 0 4.6 0a2.3 2.3 0 1 0 -4.6 0M231.8 212.9l4.6 4.6M231.8 217.5l4.6 -4.6M236.5 214l2.4 4.5h-4.8zM238.1 216.2a2.3 2.3 0 1 0 4.6 0a2.3 2.3 0 1 0 -4.6 0M240.5 215.7a2.3 2.3 0 1 0 4.6 0a2.3 2.3 0 1 0 -4.6 0M245 216.1a2.3 2.3 0 1 0 4.6 0a2.3 2.3 0 1 0 -4.6 0M248.3 213.1l4.6 4.6M248.3 217.7l4.6 -4.6M250.6 216.3a2.3 2.3 0 1 0 4.6 0a2.3 2.3 0 1 0 -4.6 0M256.1 213.8l2.4 4.5h-4.8zM230 218a2.3 2.3 0 1 0 4.6 0a2.3 2.3 0 1 0 -4.6 0M232.5 219.4a2.3 2.3 0 1 0 4.6 0a2.3 2.3 0 1 0 -4.6 0M235.7 215.8l4.6 4.6M235.7 220.4l4.6 -4.6M239.2 216.7l4.6 4.6M239.2 221.3l4.6 -4.6M243.3 218.6a2.3 2.3 0 1 0 4.6 0a2.3 2.3 0 1 0 -4.6 0M248.2 216.6l2.4 4.5h-4.8zM251 215.9l2.4 4.5h-4.8zM254.8 216.3l2.4 4.5h-4.8zM254.8 218a2.3 2.3 0 1 0 4.6 0a2.3 2.3 0 1 0 -4.6 0M227.7 219.5l4.6 4.6M227.7 224.1l4.6 -4.6M231.8 219.9l4.6 4.6M231.8 224.5l4.6 -4.6M235.1 218.7l4.6 4.6M235.1 223.3l4.6 -4.6M238.3 219.9l4.6 4.6M238.3 224.5l4.6 -4.6M240.9 218.3l4.6 4.6M240.9 222.9l4.6 -4.6M244.1 221.1a2.3 2.3 0 1 0 4.6 0a2.3 2.3 0 1 0 -4.6 0M249.3 218.1l2.4 4.5h-4.8zM250.1 219.7l4.6 4.6M250.1 224.3l4.6 -4.6M253.2 221.6a2.3 2.3 0 1 0 4.6 0a2.3 2.3 0 1 0 -4.6 0M229.4 223.7a2.3 2.3 0 1 0 4.6 0a2.3 2.3 0 1 0 -4.6 0M235.9 221.3l2.4 4.5h-4.8zM235.8 221.8l4.6 4.6M235.8 226.4l4.6 -4.6M239.8 221.9l4.6 4.6M239.8 226.5l4.6 -4.6M243.3 224a2.3 2.3 0 1 0 4.6 0a2.3 2.3 0 1 0 -4.6 0M248.2 222l2.4 4.5h-4.8zM251.3 222l2.4 4.5h-4.8zM252.2 221.3l4.6 4.6M252.2 225.9l4.6 -4.6M254.9 224.6a2.3 2.3 0 1 0 4.6 0a2.3 2.3 0 1 0 -4.6 0M231.9 225.3l4.6 4.6M231.9 229.9l4.6 -4.6M237.3 224.5l2.4 4.5h-4.8zM239.7 225l2.4 4.5h-4.8zM240.5 224.5l4.6 4.6M240.5 229.1l4.6 -4.6M243.7 224.4l4.6 4.6M243.7 229l4.6 -4.6M249.5 224.3l2.4 4.5h-4.8zM251 224.7l4.6 4.6M251 229.3l4.6 -4.6M255.8 224.9l2.4 4.5h-4.8zM230.3 227.9l4.6 4.6M230.3 232.5l4.6 -4.6M234.7 227.4l2.4 4.5h-4.8zM236.9 229.3a2.3 2.3 0 1 0 4.6 0a2.3 2.3 0 1 0 -4.6 0M239 230.2a2.3 2.3 0 1 0 4.6 0a2.3 2.3 0 1 0 -4.6 0M242.5 227.3l4.6 4.6M242.5 231.9l4.6 -4.6M248.7 227l2.4 4.5h-4.8zM248.6 229.3a2.3 2.3 0 1 0 4.6 0a2.3 2.3 0 1 0 -4.6 0M252.1 227.7l4.6 4.6M252.1 232.3l4.6 -4.6M255.3 230.1a2.3 2.3 0 1 0 4.6 0a2.3 2.3 0 1 0 -4.6 0M233.1 229.6l2.4 4.5h-4.8zM234.9 230.2l4.6 4.6M234.9 234.8l4.6 -4.6M237.9 230.9l4.6 4.6M237.9 235.5l4.6 -4.6M243 229.4l2.4 4.5h-4.8zM243.6 232.5a2.3 2.3 0 1 0 4.6 0a2.3 2.3 0 1 0 -4.6 0M249.5 229.9l2.4 4.5h-4.8zM252.2 229.2l2.4 4.5h-4.8zM256 230.4l2.4 4.5h-4.8zM236 233.6l4.6 4.6M236 238.2l4.6 -4.6M241.9 232.6l2.4 4.5h-4.8zM245.4 232.3l2.4 4.5h-4.8zM246.1 235.8a2.3 2.3 0 1 0 4.6 0a2.3 2.3 0 1 0 -4.6 0M249.2 232.7l4.6 4.6M249.2 237.3l4.6 -4.6M254 232.8l2.4 4.5h-4.8zM237.4 235.5l4.6 4.6M237.4 240.1l4.6 -4.6M241.2 238.7a2.3 2.3 0 1 0 4.6 0a2.3 2.3 0 1 0 -4.6 0M244.6 238.1a2.3 2.3 0 1 0 4.6 0a2.3 2.3 0 1 0 -4.6 0M248.1 235.4l4.6 4.6M248.1 240l4.6 -4.6M252.8 235.8l2.4 4.5h-4.8zM249.2 238.1l4.6 4.6M249.2 242.7l4.6 -4.6"/>
<path fill="none" stroke="#7a7a7a" stroke-width="0.75" d="M226.7 203.6l4.8 4.8M226.7 208.4l4.8 -4.8M231.4 213.4l4.8 4.8M231.4 218.2l4.8 -4.8M235.6 219.6l4.8 4.8M235.6 224.4l4.8 -4.8M228.6 225.6l4.8 4.8M228.6 230.4l4.8 -4.8"/>
<path fill="none" stroke="#b4b4b4" stroke-width="0.75" d="M241.5 194.6h5M244 192.1v5"/>
<path fill="none" stroke="#f6b90e" stroke-width="0.72" d="M263.8 222.5l2.4 2.4l-2.4 2.4l-2.4 -2.4zM267.3 222l2.4 2.4l-2.4 2.4l-2.4 -2.4zM270.2 222.8l2.4 2.4l-2.4 2.4l-2.4 -2.4zM273.6 221.8l2.4 2.4l-2.4 2.4l-2.4 -2.4zM274.3 224.8a2.1 2.1 0 1 0 4.2 0a2.1 2.1 0 1 0 -4.2 0M279.3 222.9l2.4 2.4l-2.4 2.4l-2.4 -2.4zM253.9 227.3a2.1 2.1 0 1 0 4.2 0a2.1 2.1 0 1 0 -4.2 0M257.6 227.6a2.1 2.1 0 1 0 4.2 0a2.1 2.1 0 1 0 -4.2 0M259.8 227.1a2.1 2.1 0 1 0 4.2 0a2.1 2.1 0 1 0 -4.2 0M263.2 226.7a2.1 2.1 0 1 0 4.2 0a2.1 2.1 0 1 0 -4.2 0M266.5 227.7a2.1 2.1 0 1 0 4.2 0a2.1 2.1 0 1 0 -4.2 0M269.3 225.8h4.2v4.2h-4.2zM273.1 227.4a2.1 2.1 0 1 0 4.2 0a2.1 2.1 0 1 0 -4.2 0M275.9 224.7h4.2v4.2h-4.2zM280.2 225.6l2.4 2.4l-2.4 2.4l-2.4 -2.4zM281.5 227a2.1 2.1 0 1 0 4.2 0a2.1 2.1 0 1 0 -4.2 0M258.1 228l2.4 2.4l-2.4 2.4l-2.4 -2.4zM260.1 227.4l2.4 2.4l-2.4 2.4l-2.4 -2.4zM261.3 227.6h4.2v4.2h-4.2zM264.1 228h4.2v4.2h-4.2zM269.7 227.5l2.4 2.4l-2.4 2.4l-2.4 -2.4zM270.5 229.5a2.1 2.1 0 1 0 4.2 0a2.1 2.1 0 1 0 -4.2 0M275.5 228.2l2.4 2.4l-2.4 2.4l-2.4 -2.4zM277.5 228h4.2v4.2h-4.2zM279.7 227.5h4.2v4.2h-4.2zM255.5 230.1l2.4 2.4l-2.4 2.4l-2.4 -2.4zM256.4 230.3h4.2v4.2h-4.2zM259.7 230.2h4.2v4.2h-4.2zM265.5 230.3l2.4 2.4l-2.4 2.4l-2.4 -2.4zM268.4 230.1l2.4 2.4l-2.4 2.4l-2.4 -2.4zM269.5 233.1a2.1 2.1 0 1 0 4.2 0a2.1 2.1 0 1 0 -4.2 0M272.2 232.1a2.1 2.1 0 1 0 4.2 0a2.1 2.1 0 1 0 -4.2 0M275.6 230.5h4.2v4.2h-4.2zM281.2 229.8l2.4 2.4l-2.4 2.4l-2.4 -2.4zM256 232.6h4.2v4.2h-4.2zM258.6 235.3a2.1 2.1 0 1 0 4.2 0a2.1 2.1 0 1 0 -4.2 0M261.4 233.9h4.2v4.2h-4.2zM265 235a2.1 2.1 0 1 0 4.2 0a2.1 2.1 0 1 0 -4.2 0M267.8 233.5h4.2v4.2h-4.2zM270.3 234.8a2.1 2.1 0 1 0 4.2 0a2.1 2.1 0 1 0 -4.2 0M276.3 233.3l2.4 2.4l-2.4 2.4l-2.4 -2.4zM277.1 233.2h4.2v4.2h-4.2zM262.2 235.4l2.4 2.4l-2.4 2.4l-2.4 -2.4zM265.8 236.3l2.4 2.4l-2.4 2.4l-2.4 -2.4zM268.4 235l2.4 2.4l-2.4 2.4l-2.4 -2.4zM269.3 236.4h4.2v4.2h-4.2zM272.3 235.5h4.2v4.2h-4.2z"/>
<path fill="none" stroke="#1aaeee" stroke-width="0.72" d="M254.5 199.7l2.2 4.1h-4.4zM255.6 201.1h4.2v4.2h-4.2zM260.9 200.6l2.2 4.1h-4.4zM261.1 202.5a2.1 2.1 0 1 0 4.2 0a2.1 2.1 0 1 0 -4.2 0M265.2 200.4h4.2v4.2h-4.2zM268.3 203.1a2.1 2.1 0 1 0 4.2 0a2.1 2.1 0 1 0 -4.2 0M270.2 199.6l4.2 4.2M270.2 203.8l4.2 -4.2M249.1 204.4a2.1 2.1 0 1 0 4.2 0a2.1 2.1 0 1 0 -4.2 0M250.8 205.4h4.2M252.9 203.3v4.2M255 205.6a2.1 2.1 0 1 0 4.2 0a2.1 2.1 0 1 0 -4.2 0M258.1 202.4h4.2v4.2h-4.2zM261.7 202.1l2.2 4.1h-4.4zM264 202.3l4.2 4.2M264 206.5l4.2 -4.2M265.6 202.2h4.2v4.2h-4.2zM270.4 202l2.2 4.1h-4.4zM271.7 202.4h4.2v4.2h-4.2zM246.9 208.2h4.2M249 206.1v4.2M251.7 205.7l2.2 4.1h-4.4zM253.4 205.5h4.2v4.2h-4.2zM258.2 205.7l2.2 4.1h-4.4zM259 207.1h4.2M261.1 205v4.2M261.5 207.1h4.2M263.6 205v4.2M264.5 208.3h4.2M266.6 206.2v4.2M267.4 206.8h4.2M269.5 204.7v4.2M270.4 205.9l4.2 4.2M270.4 210.1l4.2 -4.2M275.4 205.5l2.2 4.1h-4.4zM245.1 209.3h4.2M247.2 207.2v4.2M249 207.2l4.2 4.2M249 211.4l4.2 -4.2M251.3 207.8h4.2v4.2h-4.2zM254 209.3a2.1 2.1 0 1 0 4.2 0a2.1 2.1 0 1 0 -4.2 0M256.6 210.8h4.2M258.7 208.7v4.2M260.6 210.8a2.1 2.1 0 1 0 4.2 0a2.1 2.1 0 1 0 -4.2 0M263.2 210.8h4.2M265.3 208.7v4.2M266.7 208.1l4.2 4.2M266.7 212.3l4.2 -4.2M269 210.1h4.2M271.1 208v4.2M271.5 209.8a2.1 2.1 0 1 0 4.2 0a2.1 2.1 0 1 0 -4.2 0M275.2 209.6h4.2M277.3 207.5v4.2M244.9 210.5h4.2v4.2h-4.2zM247.4 211l4.2 4.2M247.4 215.2l4.2 -4.2M250.4 212a2.1 2.1 0 1 0 4.2 0a2.1 2.1 0 1 0 -4.2 0M252.6 209.7l4.2 4.2M252.6 213.9l4.2 -4.2M255.2 211.2l4.2 4.2M255.2 215.4l4.2 -4.2M259 211.2l4.2 4.2M259 215.4l4.2 -4.2M262.2 210.2h4.2v4.2h-4.2zM265.4 213.2a2.1 2.1 0 1 0 4.2 0a2.1 2.1 0 1 0 -4.2 0M269.6 209.6l2.2 4.1h-4.4zM270.2 209.9h4.2v4.2h-4.2zM273.1 211.9a2.1 2.1 0 1 0 4.2 0a2.1 2.1 0 1 0 -4.2 0M278.7 211l2.2 4.1h-4.4zM245.3 213.4h4.2v4.2h-4.2zM248.8 212.9h4.2v4.2h-4.2zM252.3 214.9h4.2M254.4 212.8v4.2M255 214.3h4.2M257.1 212.2v4.2M258.1 214.6a2.1 2.1 0 1 0 4.2 0a2.1 2.1 0 1 0 -4.2 0M259.5 213.6l4.2 4.2M259.5 217.8l4.2 -4.2M263.6 213.2l4.2 4.2M263.6 217.4l4.2 -4.2M268.6 212.6l2.2 4.1h-4.4zM268.4 214.8a2.1 2.1 0 1 0 4.2 0a2.1 2.1 0 1 0 -4.2 0M272.6 215.8a2.1 2.1 0 1 0 4.2 0a2.1 2.1 0 1 0 -4.2 0M274.4 212.9l4.2 4.2M274.4 217.1l4.2 -4.2M277.6 215.7h4.2M279.7 213.6v4.2M243.6 218.1a2.1 2.1 0 1 0 4.2 0a2.1 2.1 0 1 0 -4.2 0M246.9 215.6l4.2 4.2M246.9 219.8l4.2 -4.2M251.7 214.6l2.2 4.1h-4.4zM253.7 215.5h4.2v4.2h-4.2zM258.8 215.9l2.2 4.1h-4.4zM259.3 214.8h4.2v4.2h-4.2zM261.9 216.3h4.2v4.2h-4.2zM264.7 214.8h4.2v4.2h-4.2zM267 216.3h4.2v4.2h-4.2zM271.2 217.2h4.2M273.3 215.1v4.2M273.1 217.9a2.1 2.1 0 1 0 4.2 0a2.1 2.1 0 1 0 -4.2 0M247.9 217.3l2.2 4.1h-4.4zM249.5 220.3h4.2M251.6 218.2v4.2M251.4 217.2h4.2v4.2h-4.2zM254.5 220.5a2.1 2.1 0 1 0 4.2 0a2.1 2.1 0 1 0 -4.2 0M259 217.1l2.2 4.1h-4.4zM260.7 220.8h4.2M262.8 218.7v4.2M265.1 217.7l2.2 4.1h-4.4zM266.3 218h4.2v4.2h-4.2zM268.4 219.7h4.2M270.5 217.6v4.2M271.4 217.5l4.2 4.2M271.4 221.7l4.2 -4.2M248.7 220.1l2.2 4.1h-4.4zM249.7 223.2h4.2M251.8 221.1v4.2M252.8 223.3a2.1 2.1 0 1 0 4.2 0a2.1 2.1 0 1 0 -4.2 0M256.4 220.1h4.2v4.2h-4.2zM258.3 222.7a2.1 2.1 0 1 0 4.2 0a2.1 2.1 0 1 0 -4.2 0M261.7 220.6h4.2v4.2h-4.2zM264 222.7a2.1 2.1 0 1 0 4.2 0a2.1 2.1 0 1 0 -4.2 0M268 222.5a2.1 2.1 0 1 0 4.2 0a2.1 2.1 0 1 0 -4.2 0M272.2 221l2.2 4.1h-4.4zM250.5 223.6l2.2 4.1h-4.4zM251.9 224.3h4.2M254 222.2v4.2M256.5 222.2l2.2 4.1h-4.4zM257.9 225a2.1 2.1 0 1 0 4.2 0a2.1 2.1 0 1 0 -4.2 0M259.6 225.8h4.2M261.7 223.7v4.2M265.8 223l2.2 4.1h-4.4zM268.3 222.1l2.2 4.1h-4.4zM250.9 225.2h4.2v4.2h-4.2zM253.1 227.6h4.2M255.2 225.5v4.2M258 224.5l2.2 4.1h-4.4zM259.5 227.6a2.1 2.1 0 1 0 4.2 0a2.1 2.1 0 1 0 -4.2 0M261.6 226.1l4.2 4.2M261.6 230.3l4.2 -4.2"/>
<path fill="none" stroke="#1aaeee" stroke-width="0.8" d="M264.8 193.1h5M267.3 190.6v5M269.2 196.1h5M271.7 193.6v5M285.3 198.2h5M287.8 195.7v5M278 201.9h5M280.5 199.4v5M272.1 204.1h5M274.6 201.6v5M266.3 199h5M268.8 196.5v5M259.5 197h5M262 194.5v5M273.5 199h5M276 196.5v5M281.5 206h5M284 203.5v5"/>
<path fill="none" stroke="#1aaeee" stroke-width="0.75" d="M253.3 192.2l4.8 4.8M253.3 197l4.8 -4.8M285.6 210.6l4.8 4.8M285.6 215.4l4.8 -4.8M287.6 215.6l4.8 4.8M287.6 220.4l4.8 -4.8M243.6 197.6l4.8 4.8M243.6 202.4l4.8 -4.8M238.6 207.6l4.8 4.8M238.6 212.4l4.8 -4.8M235.6 213.6l4.8 4.8M235.6 218.4l4.8 -4.8"/>
<path fill="none" stroke="#f6b90e" stroke-width="0.8" d="M272.9 196.1h5M275.4 193.6v5M280.2 203.4h5M282.7 200.9v5M285.3 209.9h5M287.8 207.4v5M302.1 215h5M304.6 212.5v5M313 223.8h5M315.5 221.3v5M301.4 214.8h5M303.9 212.3v5"/>
<path fill="none" stroke="#f6b90e" stroke-width="0.75" d="M290.5 208.3l4.8 4.8M290.5 213.1l4.8 -4.8M296.3 225.8l4.8 4.8M296.3 230.6l4.8 -4.8M300 241.1l4.8 4.8M300 245.9l4.8 -4.8M262 243.3l4.8 4.8M262 248.1l4.8 -4.8M313.4 219.6l4.8 4.8M313.4 224.4l4.8 -4.8M254.4 238.4a2 2 0 1 0 4 0a2 2 0 1 0 -4 0M256.6 242a2 2 0 1 0 4 0a2 2 0 1 0 -4 0M267.5 249.3a2 2 0 1 0 4 0a2 2 0 1 0 -4 0M269 244.2a2 2 0 1 0 4 0a2 2 0 1 0 -4 0M288.9 244l2.3 4.3h-4.6zM302 240.4l2.6 2.6l-2.6 2.6l-2.6 -2.6zM273 240.4l2.6 2.6l-2.6 2.6l-2.6 -2.6z"/>
<path fill="none" stroke="#f6b90e" stroke-width="1" d="M276.2 243.1h4.2M265.2 265.4h4.2M299.5 252.6h4.2M278.9 243h4.2"/>
<path fill="none" stroke="#ee1c25" stroke-width="1.4" d="M297.8 236.6h4.8M300.2 234.2v4.8M262.1 267.9h4"/>
<path fill="none" stroke="#ee1c25" stroke-width="1.2" d="M281.2 247.2l2.8 2.8l-2.8 2.8l-2.8 -2.8zM295.4 249l2.4 4.5h-4.8zM259.5 270h4v4h-4zM263.9 269.8a2 2 0 1 0 4 0a2 2 0 1 0 -4 0"/>
<path fill="none" stroke="#ee1c25" stroke-width="1.3" d="M351.6 191.9l5 5M351.6 196.9l5 -5"/>
</g>
</svg>
</body></html>
